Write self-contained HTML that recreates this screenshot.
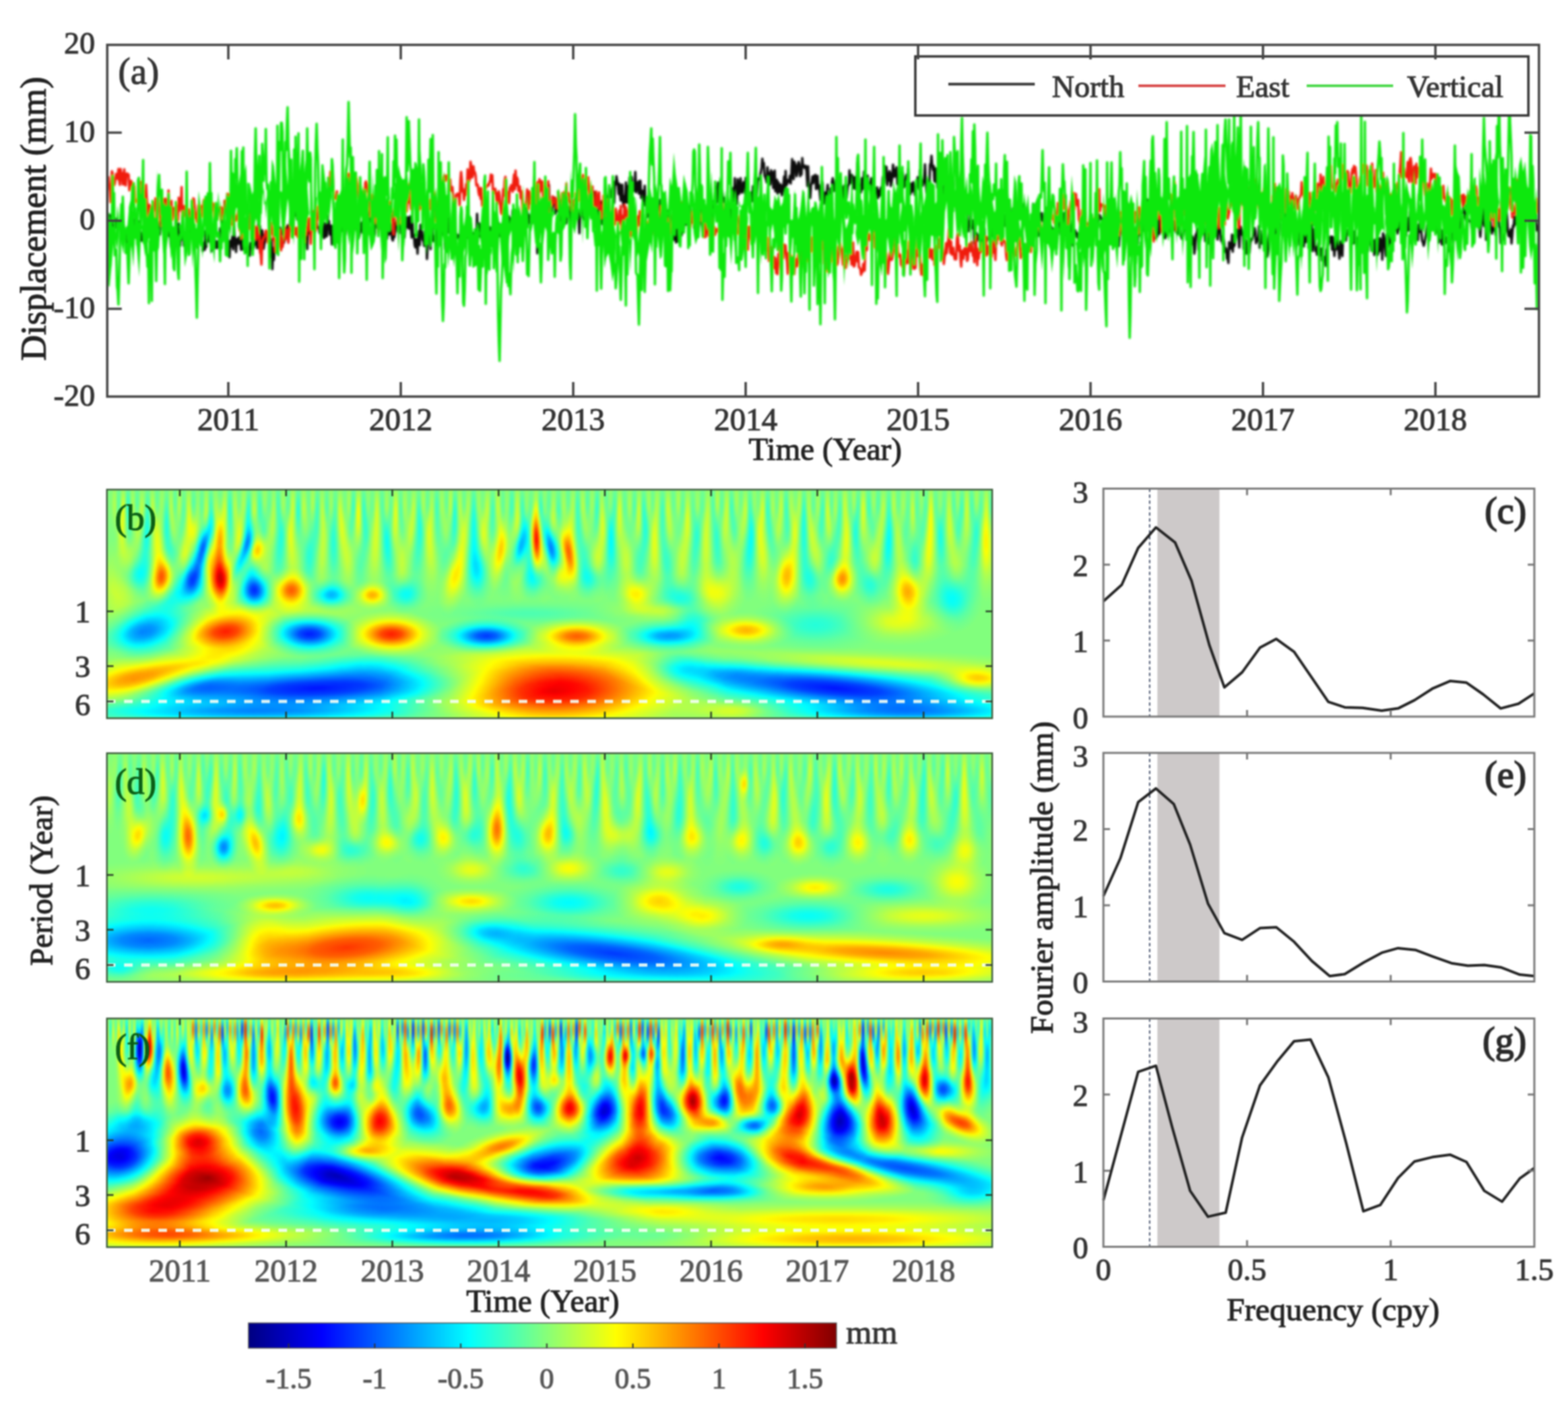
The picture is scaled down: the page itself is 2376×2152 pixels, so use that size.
<!DOCTYPE html>
<html><head><meta charset="utf-8"><title>GPS displacement and wavelet analysis</title>
<style>html,body{margin:0;padding:0;background:#fff}svg{display:block;filter:blur(1px)}text{font-family:'Liberation Serif','Times New Roman',serif;stroke-width:1.1px}</style>
</head><body>
<svg width="2376" height="2152" viewBox="0 0 2376 2152">
<defs>
<filter id="jet" x="0" y="0" width="1" height="1" filterUnits="objectBoundingBox" color-interpolation-filters="sRGB">
<feComponentTransfer>
<feFuncR type="table" tableValues="0 0 0 0 .5 1 1 1 .5"/>
<feFuncG type="table" tableValues="0 0 .5 1 1 1 .5 0 0"/>
<feFuncB type="table" tableValues=".5 1 1 1 .5 0 0 0 0"/>
</feComponentTransfer>
<feGaussianBlur stdDeviation="1.6"/>
</filter>
<radialGradient id="gg"><stop offset="0" stop-color="#fff"/><stop offset=".2" stop-color="#fff" stop-opacity=".867"/><stop offset=".4" stop-color="#fff" stop-opacity=".576"/><stop offset=".6" stop-color="#fff" stop-opacity=".286"/><stop offset=".8" stop-color="#fff" stop-opacity=".11"/><stop offset="1" stop-color="#fff" stop-opacity="0"/></radialGradient>
<style>.p{mix-blend-mode:plus-lighter}.d{mix-blend-mode:difference}</style>
<filter id="bl1" x="-1%" y="-5%" width="102%" height="110%"><feGaussianBlur stdDeviation="0.9"/></filter>
<linearGradient id="cbar"><stop offset="0" stop-color="#000080"/><stop offset=".125" stop-color="#0000ff"/><stop offset=".375" stop-color="#00ffff"/><stop offset=".5" stop-color="#80ff80"/><stop offset=".625" stop-color="#ffff00"/><stop offset=".875" stop-color="#ff0000"/><stop offset="1" stop-color="#800000"/></linearGradient>
</defs><rect width="2376" height="2152" fill="#fff"/><g clip-path="url(#clipA)"><g fill="none" stroke-linejoin="round" filter="url(#bl1)"><path transform="translate(163.00 0) scale(1.1 .5)" vector-effect="non-scaling-stroke" d="M0 651l1 19 1 22 1-41 1 27 1 5 1-16 1 32 1 30 1-27 1-28 1-11 1 26 1-5 1-6 1 8 1-10 1-4 1 27 1-55 1 60 1 2 1 0 1 14 1-1 1-5 1-8 1 25 1 30 1-34 1 24 1-30 1-4 1-11 1 19 1 8 1-68 1 27 1 25 1 3 1-28 1-25 1 8 1-4 1 27 1 4 1 10 1 18 1-24 1 20 1-16 1-35 1 21 1-20 1 7 1 9 1 1 1-35 1 44 1-5 1-26 1 75 1-26 1 31 1-55 1 4 1-12 1 9 1 15 1-41 1 13 1 6 1 21 1-34 1 4 1-18 1 16 1-8 1 19 1-33 1 60 1-12 1-7 1-3 1-13 1 34 1-4 1 28 1 14 1-65 1 9 1 13 1-9 1 4 1-69 1 76 1 2 1-17 1-21 1 35 1 33 1-54 1 36 1-11 1-17 1 46 1 0 1-35 1 15 1 9 1 3 1-22 1-7 1 13 1-52 1 46 1-25 1 5 1-1 1 16 1 18 1-23 1 29 1-5 1 22 1-60 1 6 1-2 1 33 1-9 1-3 1 45 1-25 1 8 1 13 1-57 1 49 1-49 1-3 1 35 1-24 1 8 1 16 1 30 1-19 1-14 1 11 1-26 1 38 1-2 1-19 1 21 1-11 1-11 1 8 1-46 1 0 1-2 1-22 1 29 1 4 1 2 1-26 1 25 1 2 1-6 1 37 1-2 1 47 1-50 1 18 1-18 1-13 1 39 1-82 1 43 1 8 1 39 1-38 1-2 1 15 1-19 1-1 1 17 1 21 1-34 1 20 1 14 1-54 1 46 1 17 1-2 1-10 1-14 1 14 1 12 1 9 1-39 1 17 1-14 1-13 1 27 1-12 1 1 1-8 1-27 1 45 1-43 1-54 1 99 1-69 1 76 1-49 1-14 1 17 1 39 1-15 1-6 1-30 1 14 1 0 1-3 1-4 1 27 1 0 1 42 1-54 1 91 1-64 1 36 1-29 1-23 1-6 1-24 1 7 1 38 1-44 1 17 1-34 1 20 1 0 1-12 1 7 1 31 1-13 1-31 1 28 1-26 1-11 1 18 1 13 1-20 1-47 1 5 1-4 1-17 1 29 1-20 1-10 1 24 1-27 1 38 1-24 1 19 1 32 1-50 1 62 1-29 1 6 1 0 1-7 1 15 1-2 1 27 1 5 1 36 1-52 1-1 1 4 1 3 1-42 1-9 1-17 1 10 1 51 1-9 1 10 1-41 1 13 1 15 1-1 1 0 1 17 1-40 1-14 1 23 1 3 1 36 1 8 1-46 1 42 1-2 1 0 1-63 1 33 1-16 1 41 1-24 1-3 1 57 1-17 1-41 1-5 1-2 1 59 1-82 1 42 1 17 1-33 1-13 1 40 1-6 1 1 1-11 1-10 1-78 1 74 1 20 1 15 1-63 1 4 1 27 1-24 1-24 1 49 1-5 1-37 1 27 1-6 1 28 1-23 1-23 1 34 1 23 1-5 1-37 1 64 1-6 1-24 1-5 1-10 1 30 1-44 1 42 1-22 1 31 1-68 1 6 1 8 1-36 1 65 1-26 1 10 1-35 1 5 1-1 1 29 1 37 1 8 1-41 1 17 1-24 1 2 1 32 1-15 1-2 1 6 1-4 1-38 1-7 1 34 1-8 1-27 1 25 1 12 1 47 1-31 1-3 1 22 1-49 1 15 1 29 1 18 1 5 1-14 1 4 1-13 1-31 1 1 1-17 1 43 1-16 1-5 1-20 1 46 1-9 1 25 1-33 1 2 1 28 1-22 1-17 1-23 1 31 1-30 1 34 1-35 1-2 1 38 1 26 1-57 1 52 1-4 1 32 1 7 1-25 1 0 1 44 1-55 1-14 1 43 1-62 1 32 1-12 1 27 1-1 1 18 1-45 1 46 1-30 1 69 1-47 1-31 1 25 1-13 1 36 1-67 1-19 1 60 1 2 1-11 1-6 1-1 1 35 1-78 1 17 1 20 1-41 1 52 1-29 1 25 1-17 1-35 1 8 1 31 1 55 1-32 1-44 1 27 1-46 1 21 1 24 1-17 1 9 1-14 1 15 1 24 1 13 1-49 1 10 1 12 1 12 1-9 1 1 1 10 1 21 1-47 1 41 1-13 1-21 1 47 1-38 1 32 1-24 1-5 1-10 1 15 1-21 1-8 1-17 1-8 1 32 1 11 1 29 1 5 1-39 1 18 1-28 1 40 1-87 1 62 1-18 1-15 1 40 1-13 1 19 1 7 1-8 1-26 1 0 1 29 1-40 1-19 1 14 1-3 1 26 1 14 1-28 1 30 1-6 1-5 1-14 1 11 1 0 1 17 1-18 1-6 1 42 1-33 1-31 1 40 1-18 1 4 1 10 1 15 1-25 1-21 1 24 1-9 1 6 1-64 1 33 1-4 1-11 1 21 1 14 1-29 1 16 1-41 1 26 1-4 1 29 1 7 1-7 1-18 1-2 1 75 1-23 1-14 1 36 1-17 1-31 1 36 1-77 1 10 1 15 1-2 1 7 1-52 1 52 1-33 1 17 1 9 1-1 1-25 1 26 1-15 1 0 1-11 1 25 1 11 1 1 1 81 1-80 1-18 1-1 1-30 1 27 1-23 1 17 1-39 1 36 1-20 1-25 1 59 1-22 1-29 1 6 1-66 1 67 1 35 1-42 1 21 1-18 1-25 1 9 1-8 1 49 1-14 1 4 1-20 1 0 1 50 1-8 1 7 1-38 1 58 1-31 1-36 1 20 1 12 1 2 1 23 1-49 1 5 1 8 1-14 1 3 1 43 1-43 1 28 1-16 1 11 1-27 1-24 1 16 1-11 1 31 1 15 1 14 1 40 1-64 1-16 1-33 1-6 1 77 1-28 1 15 1-14 1 32 1-18 1-21 1 12 1-23 1-13 1 2 1 47 1-12 1-17 1-20 1-26 1 45 1-4 1 1 1-12 1 49 1-24 1 28 1 23 1-11 1-57 1-9 1 70 1-30 1-55 1 67 1-60 1-10 1 84 1-68 1-4 1-34 1 21 1 7 1-5 1-24 1 5 1 12 1 29 1-65 1 10 1-26 1 14 1 9 1 31 1-31 1 33 1 18 1-47 1-1 1 52 1 16 1-34 1 19 1-60 1 61 1-50 1 51 1-42 1-35 1 19 1 40 1-61 1 24 1 8 1 11 1-17 1-41 1 62 1-28 1 21 1-25 1 36 1-39 1 0 1 52 1-22 1 1 1 44 1-26 1-34 1 60 1-5 1 40 1-27 1 26 1-38 1 10 1 30 1-32 1 28 1 0 1-22 1 16 1-21 1 12 1 3 1 5 1 13 1-32 1 63 1-86 1 25 1 10 1 18 1-4 1 9 1-16 1-10 1 10 1 13 1-3 1-20 1 23 1-14 1 14 1 0 1 8 1 56 1-7 1 9 1-24 1-15 1 47 1-46 1-11 1 55 1-32 1-25 1 5 1 11 1 21 1-64 1 47 1-3 1-29 1-14 1 31 1-6 1 5 1-18 1-37 1 20 1-14 1 27 1 16 1 0 1-29 1 47 1-11 1 22 1-27 1-11 1 5 1-22 1 37 1-43 1-55 1 78 1 18 1 30 1-63 1 26 1-43 1 9 1 21 1-15 1 14 1-24 1-24 1 33 1 29 1-11 1-33 1 41 1-63 1-1 1 24 1-65 1 47 1-45 1-17 1 58 1-2 1-26 1 5 1-13 1 14 1 22 1-11 1 3 1 39 1-21 1 27 1 27 1-60 1 65 1-58 1 43 1-30 1-15 1-29 1-22 1 41 1-70 1 49 1 9 1 21 1-76 1 16 1 29 1-11 1-37 1 35 1 9 1-9 1-23 1 13 1 21 1-47 1 70 1-18 1-22 1 14 1 13 1 11 1-22 1-2 1 27 1-46 1 45 1-5 1-43 1 12 1 28 1-28 1-32 1 2 1 1 1-13 1-10 1-13 1-27 1 21 1-8 1 38 1 5 1 7 1 9 1-46 1 27 1 28 1-38 1 35 1-43 1 16 1-10 1 48 1-21 1-32 1 63 1-22 1-13 1 42 1-35 1 30 1-1 1-22 1 23 1 10 1-30 1 1 1-28 1 58 1-75 1 44 1-4 1-12 1 1 1 5 1-19 1 23 1-29 1-45 1 39 1 22 1-53 1 7 1 6 1 31 1-9 1-26 1-8 1 7 1 36 1-20 1 15 1-50 1 26 1-4 1 8 1-6 1 0 1 19 1 42 1-60 1 60 1 8 1 28 1-37 1-10 1-18 1 20 1-22 1 13 1-16 1 43 1-21 1-19 1 38 1-10 1 21 1 25 1-27 1-32 1 7 1 37 1 25 1-14 1-20 1 8 1-11 1-20 1 68 1 3 1 6 1-66 1 55 1-75 1-11 1 39 1-1 1-4 1-28 1 35 1-32 1-12 1 11 1 24 1 18 1-18 1-9 1 6 1 3 1 30 1-40 1 43 1-22 1 18 1-22 1-18 1 0 1-45 1 30 1 9 1-25 1 2 1 39 1-5 1-29 1 36 1-30 1-9 1-42 1 14 1 63 1-9 1 13 1 10 1-43 1 34 1-15 1-39 1 19 1 4 1 30 1 6 1-47 1 27 1 3 1 2 1-7 1-17 1 41 1 0 1-24 1 0 1 28 1 8 1-23 1-2 1 33 1-24 1 18 1-9 1-17 1 22 1-28 1-26 1-6 1 24 1-52 1 15 1-12 1 55 1-33 1 20 1-29 1 5 1 40 1-9 1-18 1-38 1 17 1 20 1-3 1-18 1-8 1 52 1-3 1 0 1 2 1 20 1-32 1-19 1-7 1 13 1 35 1-5 1 0 1-29 1-5 1 7 1-26 1 49 1 5 1 25 1-33 1 26 1-11 1-19 1 12 1 27 1-15 1-5 1-10 1-24 1 19 1 18 1-58 1 10 1 17 1 14 1 6 1-11 1-12 1-42 1 50 1 34 1 8 1-17 1-10 1 4 1-69 1 4 1-30 1 30 1 13 1-12 1 46 1 2 1-41 1 12 1 47 1-15 1 12 1-12 1-30 1 34 1-22 1 44 1 28 1-42 1 0 1-12 1-11 1 12 1-24 1 69 1-28 1-4 1 8 1-14 1 33 1-28 1-21 1 48 1 1 1 15 1 21 1 17 1 25 1-29 1 18 1 12 1-19 1-15 1 0 1 14 1-26 1-9 1 12 1-33 1 5 1 25 1 68 1 5 1-31 1 15 1-67 1 67 1 7 1-24 1 14 1 56 1-53 1 32 1-11 1 24 1-13 1-5 1 7 1 15 1 0 1-36 1-15 1 11 1 24 1-25 1 51 1-26 1 12 1-10 1 0 1 5 1-16 1-11 1-6 1-9 1 33 1-37 1 44 1-5 1-46 1 3 1-15 1 5 1 5 1 34 1-4 1-29 1 10 1 29 1-12 1-12 1-23 1 21 1-33 1 8 1-2 1-15 1 34 1-39 1-21 1 46 1 26 1 11 1-65 1 22 1 21 1-46 1 55 1-4 1-12 1-14 1-8 1-58 1 57 1-28 1-5 1 34 1-20 1 3 1-15 1 39 1-8 1 17 1-9 1 84 1-50 1 14 1-3 1 44 1-41 1-42 1-43 1 68 1-1 1-17 1 14 1 33 1-11 1 11 1-51 1-2 1-16 1 20 1-20 1 24 1-12 1 45 1-58 1 34 1-36 1 60 1-35 1-11 1 20 1 12 1 15 1-18 1 6 1 0 1 2 1 38 1 11 1-6 1-38 1-21 1 23 1-41 1 29 1-10 1 33 1-42 1-14 1 30 1 22 1-63 1 51 1 17 1-42 1 20 1-1 1 1 1-18 1-3 1 46 1-9 1-26 1 64 1-50 1 11 1-8 1 7 1 13 1-11 1 16 1 2 1-13 1 9 1-12 1 28 1-47 1-16 1 17 1-3 1 7 1 18 1-7 1 24 1-54 1 5 1-13 1-3 1 44 1 1 1-9 1-4 1-23 1-13 1 26 1-6 1 10 1-43 1 24 1-21 1 2 1 4 1 9 1-3 1 31 1 9 1-11 1-23 1-1 1-37 1 23 1-13 1-6 1 15 1 7 1-28 1 18 1 43 1 60 1-9 1-64 1 40 1 2 1 13 1-29 1 43 1 0 1-27 1-28 1-20 1 18 1 6 1 19 1-41 1 26 1 7 1 3 1 10 1-11 1-15 1 30 1-38 1 14 1-29 1 59 1-38 1 7 1-5 1 28 1 22 1 14 1-35 1 18 1-32 1-25 1 29 1-24 1-11 1-17 1 40 1-13 1-17 1-14 1-51 1 53 1-54 1 20 1 52 1-28 1-6 1-11 1 84 1-44 1 38 1-21 1-25 1 27 1 33 1-16 1 10 1-58 1 30 1 20 1-56 1 26 1-23 1 24 1-41 1 30 1 51 1 2 1-9 1-16 1-34 1 26 1 15 1-57 1 31 1 2 1-10 1 45 1-47 1 5 1 24 1-7 1 14 1 0 1 5 1-20 1 3 1-11 1 25 1 11 1 7 1-3 1-11 1-23 1-2 1 13 1-36 1-21 1 34 1-7 1 47 1-10 1 47 1-39 1 27 1-22 1 15 1 36 1-16 1-42 1 4 1-21 1 16 1 48 1-57 1 15 1-22 1 4 1 0 1 8 1-31 1 24 1 32 1-4 1-19 1 15 1-14 1 29 1-29 1 13 1 6 1-41 1 23 1-30 1 7 1-38 1-20 1 25 1 16 1 56 1-30 1-8 1-15 1 33 1 24 1-13 1 22 1-19 1 11 1 25 1 8 1-11 1 31 1-4 1 17 1-63 1 20 1 0 1-3 1-40 1 52 1-50 1 33 1-11 1-8 1-17 1 2 1-17 1 24 1 31 1-47 1-16 1 10 1 15 1-8 1 51 1-30 1-6 1 10 1 40 1-33 1 4 1-17 1 43 1-27 1-15 1 4 1-3 1-12 1-5 1-17 1 10 1 36 1-5 1-10 1 6 1-43 1 66 1-52 1 33 1 6 1-3 1-25 1-7 1 22 1 3 1 12 1 39 1-6 1-46 1-21 1-7 1-31 1 41 1 7 1-5 1-28 1 25 1 26 1-24 1-23 1 33 1-5 1-59 1 60 1-54 1 2 1-27 1 13 1 23 1-32 1 20 1-14 1 21 1 15 1-17 1 24 1 18 1-47 1 23 1-14 1 1 1-1 1 10 1 10 1 15 1 0 1 2 1 19 1-19 1 14 1-28 1 50 1-16 1 18 1-40 1 14 1 4 1 24 1-39 1-1 1 27 1-11 1-16 1-18 1 23 1-9 1 35 1-10 1-47 1 80 1-45 1-21 1 35 1 31 1-12 1 23 1-17 1-20 1 37 1 2 1-21 1 0 1 37 1-10 1 1 1-2 1 8 1 19 1-49 1-1 1-35 1 22 1-19 1-6 1 17 1-18 1 40 1-39 1 21 1 37 1-33 1-11 1 24 1-27 1-17 1 51 1 21 1-34 1-19 1 24 1 21 1-71 1 9 1-20 1 8 1 27 1-23 1-8 1 11 1-21 1-3 1-17 1 59 1-16 1 8 1 19 1-37 1 36 1-32 1 33 1 15 1-33 1 27 1-42 1 4 1-3 1 11 1 47 1-15 1-22 1 0 1 13 1 3 1-4 1-22 1 44 1-49 1 27 1-28 1-6 1 54 1-22 1-8 1-1 1 45 1-14 1-34 1 21 1 27 1-2 1-49 1 40 1-40 1 8 1 8 1 49 1-80 1 7 1 17 1 23 1 22 1-66 1 27 1-28 1 27 1 7 1 10 1-56 1-4 1 21 1 15 1-46 1-18 1 33 1-19 1-4 1 33 1-12 1-1 1-22 1 8 1 4 1 26 1-40 1-2 1 43 1-9 1-9 1 20 1-48 1-5 1 38 1-21 1-37 1 56 1-1 1-11 1-13 1 14 1 5 1-9 1-2 1 30 1 15 1 3 1-47 1 22 1-72 1 42 1 37 1 21 1 3 1 11 1-7 1-12 1-13 1-16 1-16 1 15 1-4 1-15 1-6 1 25 1-18 1 19 1-17 1-27 1-7 1-29 1 13 1 74 1-44 1 46 1 29 1-42 1 1 1 5 1 42 1-9 1-35 1 48 1-20 1-8 1 19 1-7 1 0 1 33 1-13 1-32 1-3 1 10 1-6 1-12 1 30 1-24 1-8 1-18 1 2 1 13 1 11 1-21 1-23 1 51 1-16 1-31 1-32 1 5 1-27 1 12 1 31 1 4 1 12 1-36 1 20 1 7 1 2 1 1 1 2 1 17 1-9 1 32 1-2 1-19 1-54 1 8 1 17 1-23 1 2 1 41 1 13 1 22 1-33 1-20 1 12 1-49 1 57 1-20 1 16 1 46 1-49 1 3 1-28 1 27 1 18 1-29 1 21 1 18 1-19 1 9 1 1 1-14 1 27 1-59 1 7 1-16 1 4 1 39 1 3 1 47 1-27 1 26 1-25 1 10 1 5 1-17 1-17 1-59 1 30 1 39 1 13 1-12 1 15 1-23 1 43 1-24 1-30 1 4 1-31 1 24 1-10 1-41 1 32 1 21 1 10 1-5 1-53 1 26 1 15 1-37 1 45 1 4 1-16 1-10 1-20 1-12 1 7 1 13 1 19 1-2 1-22 1-18 1 3 1-21 1 19 1 36 1-27 1 25 1-24 1 61 1-15 1 23" stroke="#111" stroke-width="3.6"/><path transform="translate(163.00 0) scale(1.1 .5)" vector-effect="non-scaling-stroke" d="M0 545l1-8 1 33 1 9 1 34 1-54 1-40 1 9 1 25 1 9 1-6 1-18 1-11 1 12 1 3 1-30 1 34 1 14 1-48 1 34 1-22 1 35 1-5 1-41 1 47 1 2 1-35 1-1 1 7 1-4 1 48 1-14 1-15 1 2 1 7 1 29 1 21 1-43 1 48 1-6 1 7 1-7 1 6 1 20 1-29 1-31 1-21 1 43 1-6 1 28 1-15 1-15 1 21 1-47 1 41 1 21 1 69 1-41 1-29 1 20 1 25 1-16 1-25 1 16 1-16 1-3 1-21 1 68 1-13 1-70 1 30 1 10 1 22 1 36 1-23 1-27 1 22 1-53 1 4 1 20 1-25 1 11 1 11 1 13 1-60 1 82 1-30 1-10 1-10 1 58 1-10 1-27 1 0 1 6 1 1 1-14 1 13 1 32 1-69 1 39 1-31 1 15 1-55 1 109 1-52 1 31 1-2 1-29 1 30 1 12 1-16 1 40 1-56 1 14 1 21 1-17 1-9 1-9 1-33 1 2 1 27 1 31 1-12 1 24 1-28 1-23 1 29 1 8 1-1 1-34 1 5 1 27 1-45 1-6 1 35 1-5 1-7 1 31 1-25 1-7 1 26 1-9 1-15 1 7 1-23 1 24 1-19 1 27 1 36 1-13 1-36 1 33 1-24 1-8 1 6 1-11 1 41 1-41 1 12 1-6 1 42 1-67 1-1 1 27 1-17 1-31 1 5 1-3 1 42 1 3 1 25 1 11 1 12 1-28 1-25 1 21 1 6 1 13 1-10 1-6 1-14 1 44 1 16 1-6 1 30 1-21 1 17 1-12 1-4 1-16 1 3 1 14 1-18 1-4 1-32 1 25 1 19 1-60 1 46 1-16 1 1 1 2 1 38 1-19 1 30 1 10 1-37 1 31 1-19 1 15 1 49 1 5 1 32 1-74 1 1 1-9 1-2 1-2 1-17 1 0 1 18 1 19 1-24 1 4 1 12 1-52 1 5 1 27 1-3 1 22 1 4 1 32 1-33 1-25 1 25 1 21 1-47 1-3 1-4 1 62 1-39 1 29 1-16 1-46 1 0 1 40 1-28 1 21 1-24 1 40 1-21 1-33 1 7 1 3 1-5 1-6 1-20 1 50 1 0 1-20 1 0 1 22 1 6 1-34 1 22 1-13 1-17 1 37 1 6 1-19 1 14 1-10 1 30 1-76 1 53 1-48 1 36 1-38 1 26 1-26 1 77 1-48 1-49 1 13 1-15 1 1 1-5 1 62 1-26 1-7 1-39 1 33 1-13 1-3 1-17 1-7 1-16 1 42 1 6 1-6 1-33 1 7 1-1 1-2 1-42 1 0 1-19 1-35 1 33 1 17 1-57 1 54 1 30 1 2 1 3 1-3 1-19 1 51 1 5 1-21 1-14 1 0 1-1 1 58 1-21 1-1 1-27 1-10 1-36 1 37 1-6 1 14 1-82 1 28 1-1 1 5 1-3 1 12 1-30 1 26 1-18 1-20 1 5 1 13 1 17 1 18 1 22 1-7 1-24 1 24 1-1 1 29 1-41 1 0 1 26 1-51 1-5 1 9 1 21 1 3 1 47 1-42 1 67 1-50 1 5 1-20 1 17 1-9 1 46 1 19 1 14 1-23 1 15 1 38 1-68 1 49 1-13 1-2 1 5 1-32 1 13 1 14 1-30 1 15 1 22 1-52 1 5 1 40 1-58 1-2 1 50 1-42 1 49 1-23 1 63 1-78 1 21 1-5 1-15 1 47 1-21 1 12 1-13 1 14 1 2 1 7 1-23 1 16 1-25 1 3 1-14 1-27 1 30 1-39 1 12 1-32 1-25 1 62 1 15 1-75 1 10 1 24 1-59 1 62 1 15 1 7 1-14 1-5 1 15 1 23 1-27 1-71 1 93 1-16 1-12 1 21 1-6 1 16 1-14 1 4 1 9 1-16 1 10 1-8 1 14 1-29 1 13 1-27 1-8 1-3 1 26 1-9 1 74 1-55 1-3 1 30 1-40 1-26 1-34 1 15 1 21 1 32 1-54 1-19 1-7 1 3 1 14 1-14 1-3 1 7 1 4 1 14 1-12 1 34 1-6 1-5 1 28 1 51 1 0 1 0 1-56 1 1 1-4 1 7 1-7 1 35 1-75 1-26 1 23 1 38 1-9 1 33 1-20 1 6 1-34 1 12 1-57 1 40 1-3 1-7 1-53 1 14 1 34 1-4 1-30 1 18 1 0 1 10 1 30 1-4 1 3 1 21 1 10 1-22 1 33 1-33 1 54 1-21 1 3 1-11 1-28 1 5 1-7 1-1 1-5 1 3 1-10 1-3 1-20 1 22 1-20 1 53 1-11 1 12 1-13 1 15 1 22 1 9 1-33 1-5 1 13 1 31 1 20 1 5 1-30 1-46 1 21 1-47 1-11 1 22 1 33 1-9 1 22 1 12 1-47 1 5 1-13 1 12 1 8 1-29 1-23 1 45 1-57 1 45 1-24 1 6 1 35 1-14 1 0 1 36 1-22 1 31 1 42 1-17 1 7 1-17 1-7 1-13 1-31 1 24 1 35 1-53 1 18 1 19 1-14 1 15 1-10 1 7 1-58 1 20 1 47 1-36 1-36 1 19 1 32 1-60 1 37 1-31 1 12 1-11 1 58 1-41 1 53 1-46 1 26 1 9 1 6 1-66 1 45 1 57 1 6 1-38 1 3 1-27 1 10 1 10 1-1 1-14 1 30 1-3 1 5 1-51 1 24 1 31 1-8 1-6 1-37 1 61 1-39 1-25 1 3 1 0 1-29 1 55 1-3 1-23 1 18 1 12 1 2 1 22 1-32 1 1 1 39 1-22 1 0 1-40 1 5 1 2 1-9 1 25 1-31 1-8 1-16 1 43 1-52 1-14 1 42 1 12 1 11 1-61 1 43 1-6 1-34 1 27 1 47 1 13 1-35 1 18 1-42 1 50 1 26 1-16 1-1 1-44 1 50 1-23 1-11 1-13 1 50 1-12 1 40 1-23 1-4 1-41 1 38 1-20 1 41 1 11 1-35 1-23 1 37 1-27 1 37 1-6 1 28 1 17 1-5 1-11 1 6 1-1 1-48 1 16 1 19 1-4 1 15 1-40 1 38 1-52 1 84 1-33 1-21 1 31 1-64 1 10 1-2 1 43 1-33 1 6 1-3 1-32 1 42 1 64 1-63 1-12 1 42 1-26 1 14 1 2 1 46 1-18 1-37 1-9 1 28 1-42 1-1 1 45 1 21 1-37 1 34 1-6 1 7 1 10 1-18 1-23 1 4 1 32 1-43 1 18 1 4 1-32 1 2 1 13 1-18 1 58 1-12 1-37 1 17 1-39 1 34 1 24 1-39 1 45 1-79 1 26 1 1 1 22 1 13 1 21 1-22 1 8 1-9 1 17 1-41 1 55 1-14 1 6 1-50 1 12 1-18 1 27 1 2 1-20 1 29 1-21 1-22 1-36 1 16 1 14 1 5 1-35 1 15 1 22 1-35 1 45 1-8 1-14 1 2 1 19 1-31 1 21 1 2 1 57 1-28 1 10 1-33 1-2 1-11 1 35 1-28 1 14 1-10 1-1 1 16 1-23 1-9 1 4 1-1 1 22 1 8 1-11 1 33 1 13 1 15 1-54 1 53 1-22 1-1 1-20 1 40 1-45 1 17 1 47 1-55 1-18 1 58 1-26 1-5 1 24 1-14 1-3 1 6 1-8 1 12 1-25 1 4 1-40 1-38 1 13 1 49 1-17 1 20 1 0 1 23 1 4 1-10 1 18 1-27 1 4 1 23 1-17 1 0 1-33 1 34 1-4 1-32 1 20 1-1 1 24 1-43 1 55 1-17 1-27 1 16 1-14 1 43 1-10 1 28 1-27 1 55 1-18 1-51 1 26 1 44 1-70 1 1 1 4 1 31 1 11 1-44 1 34 1 6 1-14 1-28 1 3 1-17 1 44 1-28 1 6 1 28 1-11 1-12 1 1 1 12 1-27 1 54 1 11 1-27 1-16 1 50 1-39 1 33 1 38 1-32 1-8 1-2 1 26 1 2 1 15 1-14 1 36 1-32 1 46 1-18 1 21 1-61 1 21 1-45 1 64 1 9 1-44 1-6 1 14 1-42 1 8 1-5 1 32 1 17 1 37 1-64 1 17 1-19 1 24 1-12 1 18 1 7 1 1 1 29 1-24 1-22 1 21 1 1 1-35 1-4 1-7 1 38 1-67 1-7 1 56 1-20 1 41 1 15 1-2 1-20 1-3 1-37 1 15 1-8 1-9 1-7 1 17 1-8 1-36 1 25 1 31 1-26 1 26 1 9 1 10 1 10 1-37 1-19 1-9 1-4 1-9 1 29 1-13 1-34 1 91 1-51 1 11 1 1 1 43 1 20 1-35 1 5 1 7 1-7 1-1 1-77 1 54 1-20 1 21 1 0 1-26 1 46 1 13 1-7 1-50 1 14 1-23 1 15 1 4 1 19 1 27 1-55 1 65 1-21 1 21 1-38 1 11 1-3 1 3 1-12 1 6 1 0 1 23 1-38 1-29 1 73 1-2 1-17 1-15 1-11 1 29 1-28 1 46 1 1 1 4 1 18 1-10 1 2 1-25 1 5 1 15 1-88 1 19 1 7 1-56 1 12 1-4 1 18 1-11 1-2 1 13 1-28 1 15 1-14 1 49 1 3 1-16 1 6 1 4 1-30 1 17 1 12 1-10 1-15 1 9 1 24 1-1 1-14 1 23 1 0 1 11 1 38 1 19 1-22 1-26 1-18 1-7 1 31 1-5 1-29 1 6 1-43 1 47 1 13 1-10 1-36 1 33 1 14 1-4 1-2 1 31 1-9 1 16 1-24 1 44 1-25 1-12 1 5 1-33 1-5 1 38 1-66 1 43 1 0 1 41 1-32 1-28 1 44 1 15 1-5 1 2 1-54 1 3 1-45 1 61 1-12 1-2 1 38 1 31 1-30 1 6 1 28 1-45 1 44 1-55 1-50 1 20 1-11 1 29 1 13 1-28 1 25 1-20 1 28 1-20 1-11 1 48 1-33 1-25 1 14 1 3 1-37 1 27 1-3 1-24 1-13 1 50 1-27 1 36 1 29 1-22 1-6 1-35 1 30 1-30 1-5 1-38 1 49 1 24 1-35 1 40 1-11 1-10 1 22 1 13 1-15 1 15 1-58 1-19 1 28 1 24 1-16 1 42 1 21 1-48 1 7 1 17 1-29 1-3 1 19 1-20 1 40 1-4 1-30 1-18 1 11 1 12 1-29 1 12 1 30 1-12 1 32 1-58 1-21 1 44 1 44 1-50 1 30 1-21 1 1 1 0 1-27 1 21 1-14 1 45 1-13 1-20 1-39 1 57 1-17 1-11 1 21 1 5 1-5 1-42 1 53 1-29 1-18 1 35 1-57 1 79 1-56 1 7 1-32 1 18 1-13 1-16 1 15 1 27 1 6 1-53 1 41 1-2 1 3 1 9 1 35 1 12 1-60 1 48 1 11 1-36 1-16 1 55 1-34 1-12 1 7 1 9 1 0 1 14 1-22 1-7 1-60 1 31 1 5 1 27 1 33 1-28 1 16 1 1 1-5 1-22 1 13 1 4 1-5 1-15 1-46 1-17 1-6 1 12 1 80 1-43 1-20 1 0 1 25 1-16 1-47 1-7 1-9 1 44 1-19 1-4 1 33 1-27 1 22 1 5 1-3 1 1 1 18 1-22 1-7 1 27 1 2 1-40 1-27 1 32 1-22 1 8 1-28 1 23 1-9 1 4 1 18 1-39 1 53 1-27 1 5 1-53 1 4 1 22 1-24 1 20 1-10 1-19 1-17 1 9 1 34 1-4 1-13 1 10 1 21 1 31 1-6 1-36 1-10 1-18 1 6 1-18 1-6 1-6 1 50 1-43 1-4 1 33 1 2 1-17 1 60 1 6 1 19 1-8 1-46 1 22 1 13 1 2 1-21 1-12 1 37 1 18 1-2 1 3 1-22 1 9 1 0 1 25 1-28 1 3 1 35 1-48 1-7 1-18 1-26 1 22 1 17 1-63 1-23 1 67 1-17 1-4 1 1 1 4 1 6 1 53 1-60 1 36 1-16 1 8 1 8 1 41 1-30 1 22 1-86 1 40 1 18 1 22 1-8 1-44 1 22 1 52 1-4 1-6 1-13 1 29 1-13 1-31 1-27 1 38 1 30 1-5 1-65 1 36 1 69 1-67 1-11 1-1 1-48 1 20 1 1 1 66 1-47 1 16 1 6 1-30 1 25 1-2 1-32 1 23 1 7 1-10 1 46 1-80 1 29 1 14 1-8 1 17 1-8 1-15 1-22 1-7 1 77 1-71 1 63 1-48 1 38 1-27 1 53 1-17 1-4 1 2 1-4 1 42 1-28 1 9 1-29 1-19 1-36 1 2 1-35 1 67 1-20 1 20 1 38 1 4 1-42 1 11 1 16 1 7 1-4 1-73 1 46 1 17 1-40 1-5 1-4 1-44 1 40 1-32 1 26 1 16 1-88 1 105 1 41 1-49 1 1 1-44 1 11 1 30 1-40 1 42 1 34 1-63 1 1 1 30 1-1 1-15 1 26 1-46 1-1 1 33 1-7 1-29 1-40 1 35 1-27 1 33 1-32 1 14 1-23 1 50 1-6 1-54 1 14 1 81 1-21 1 19 1-19 1 43 1-25 1-7 1 13 1 21 1-68 1 39 1 19 1 47 1-100 1 4 1 27 1 48 1-28 1 7 1 18 1-82 1 34 1 24 1-20 1-23 1-7 1 34 1 8 1 30 1-61 1 42 1-34 1-6 1 2 1-26 1-14 1 87 1-59 1-24 1 24 1 41 1-9 1-11 1-14 1-5 1-56 1 12 1 22 1 38 1-5 1 16 1-39 1 50 1 4 1-38 1 62 1-1 1-94 1 8 1 13 1 2 1-12 1 29 1-41 1 28 1-2 1-45 1 26 1 9 1-3 1-30 1-14 1 20 1-17 1-16 1-26 1 18 1 1 1 9 1-6 1 10 1 41 1 3 1 31 1-20 1-29 1 24 1-19 1 44 1-33 1-27 1 30 1 10 1 5 1 21 1 18 1-43 1 57 1-45 1 42 1-41 1 32 1-64 1 40 1 35 1-111 1 71 1-11 1 7 1-5 1-3 1 32 1-35 1 48 1-37 1 2 1 1 1-22 1 40 1-20 1 2 1-55 1 41 1 5 1-38 1 38 1-23 1 6 1 39 1-55 1 14 1 32 1-25 1 0 1-13 1 11 1 11 1 19 1-31 1-3 1-6 1-3 1-39 1 32 1 0 1 14 1-40 1 1 1 55 1 13 1 5 1-15 1 9 1-42 1 28 1 64 1-41 1 19 1 22 1-31 1-11 1-1 1-23 1 10 1-64 1 8 1 37 1 11 1-83 1 47 1-20 1 7 1-27 1 48 1 30 1-49 1 38 1-14 1-47 1 15 1-24 1 37 1-68 1 61 1 3 1 4 1 6 1-32 1 19 1 17 1-15 1-9 1-12 1 2 1 10 1 0 1-63 1 51 1-44 1 37 1-10 1 36 1 20 1-30 1-25 1-10 1 5 1 45 1 11 1 5 1-30 1-30 1-12 1 14 1-23 1 6 1-2 1 27 1 31 1 6 1-6 1 33 1-53 1-10 1 12 1-46 1 13 1-15 1 28 1-22 1 9 1-13 1 6 1 55 1-44 1 46 1-28 1-11 1-6 1-23 1 55 1 17 1-6 1-18 1-29 1 65 1 6 1-22 1 20 1-22 1 34 1-12 1-14 1-7 1-40 1 46 1 11 1 8 1-26 1 6 1-21 1 20 1 18 1 42 1-6 1-32 1 35 1-16 1-17 1 6 1 20 1 3 1-45 1-6 1-15 1 11 1-20 1-22 1-24 1-38 1 77 1-54 1 47 1-21 1 19 1 4 1 4 1-12 1-34 1 51 1 9 1-67 1-5 1 14 1 60 1 3 1-30 1-22 1 38 1 14 1-60 1 42 1-21 1-9 1 9 1-7 1 46 1-29 1-9 1 14 1 6 1 33 1 20 1-34 1 11 1-12 1 40 1-17 1 9 1-41 1-36 1 31 1-5 1-10 1 9 1-4 1-5 1 38 1-26 1 78 1-37 1 49 1-26 1 25 1-7 1-29 1 9 1-38 1 27 1 10 1 10 1 4 1-14 1-16 1 35 1 24 1-13 1-29 1 5 1 45 1-11 1-32 1-1 1-1 1-29 1 10 1-13 1-15 1 22 1 30 1 5 1-23 1 4 1-5 1 32 1-34 1 6 1 19 1-8 1-11 1 11 1-16 1 4 1 34 1 11 1-59 1-37 1 42 1 64 1-22 1-26 1-7 1-31 1 12 1 80 1-57 1 38 1-9 1 33 1-11 1-22 1-44 1 11 1 4 1 3 1 17 1 14 1-48 1 40 1 21 1-16 1 33 1-64 1 67 1-21 1-20 1 15 1 45 1-52 1 22 1 14 1-16 1 10 1-29 1 34 1-8 1-23 1-26 1 4 1-5 1-19 1 51 1 3 1-35 1-43 1 12 1 20 1 4 1 13 1-47 1 65 1-26 1 51 1-38 1 17 1 7 1 5 1-21 1-85 1 31 1 3 1 40 1 26 1 0 1-38 1-26 1-7 1 22 1-23 1 40 1-15 1 28 1-2 1 14 1 16 1-18 1-21 1-3 1 62 1 6 1-30 1-32 1 34 1-11 1 5 1-19 1-24 1 41 1-29" stroke="#f01a10" stroke-width="3.6"/><path transform="translate(163.00 0) scale(1.1 .5)" vector-effect="non-scaling-stroke" d="M0 644l1 13 1 112 1 8 1 30 1-137 1 0 1-137 1 90 1-38 1 189 1-18 1 3 1 108 1 15 1 41 1-77 1-97 1-93 1-37 1 71 1-94 1 71 1 55 1-25 1 70 1-28 1 3 1 59 1 58 1-70 1-162 1 45 1-14 1-92 1 10 1-21 1 103 1-27 1 91 1-51 1 71 1-196 1-7 1 30 1 82 1 40 1-87 1-21 1-98 1 252 1-28 1-105 1 79 1 79 1 47 1-35 1 145 1-186 1-5 1-16 1 200 1-303 1 43 1 107 1-97 1 78 1 112 1-112 1-130 1-28 1-52 1 61 1-4 1 63 1-75 1 97 1-7 1 60 1 136 1-192 1-43 1 84 1-42 1-81 1 70 1 28 1-57 1 63 1 63 1 12 1 47 1 6 1-69 1-138 1 128 1-25 1 110 1 21 1-119 1-17 1 15 1-20 1-49 1-16 1 88 1-24 1 70 1-57 1-197 1 206 1-30 1 77 1-5 1-54 1-17 1-90 1 25 1 4 1 60 1-16 1 134 1 61 1 88 1-117 1-85 1-118 1-14 1 28 1 87 1-24 1-3 1-7 1-102 1 74 1-86 1 101 1 14 1-125 1 54 1 6 1-152 1 139 1-48 1 168 1-14 1 3 1-14 1-95 1-18 1 85 1 18 1-2 1-11 1 30 1 57 1-67 1 28 1-74 1 53 1-79 1 30 1 14 1 76 1-107 1 110 1-122 1 26 1 2 1-18 1-207 1 113 1 13 1 1 1 128 1-90 1-140 1 23 1-56 1 104 1 75 1 59 1 7 1 3 1-117 1-122 1 247 1-258 1 293 1 28 1-107 1 84 1-125 1 186 1-249 1 31 1 9 1-13 1 144 1-109 1 154 1-49 1-88 1-164 1-83 1 108 1 125 1-51 1-55 1-44 1 151 1 23 1-66 1-144 1 33 1 79 1-56 1 35 1-136 1 160 1 22 1-13 1 124 1 130 1-197 1-65 1 86 1 2 1 25 1-17 1 67 1-68 1 16 1 104 1-386 1 392 1-144 1-199 1 26 1-84 1 0 1 28 1 208 1-70 1 8 1-116 1 25 1-77 1-53 1 108 1 82 1 98 1 72 1-201 1 236 1-121 1 60 1-206 1 185 1-224 1 150 1 98 1-102 1-156 1 450 1-295 1 43 1 183 1-296 1-32 1 109 1 220 1-144 1-57 1-23 1-173 1 122 1 23 1 16 1-88 1 20 1 214 1-46 1 40 1-44 1 170 1-301 1-83 1-57 1 76 1 43 1 104 1-15 1 80 1 92 1-123 1-56 1 60 1-7 1-45 1-30 1 78 1 42 1-40 1-96 1 90 1-53 1-6 1 9 1-96 1 20 1 63 1 178 1-17 1 25 1-136 1 49 1 72 1-134 1 241 1-97 1-34 1-47 1-12 1-230 1 334 1 69 1-41 1-156 1-113 1-20 1-65 1-122 1 94 1 73 1-29 1 380 1-297 1-54 1 137 1 69 1-158 1-1 1 112 1 133 1-73 1 28 1-54 1-132 1 74 1 12 1 7 1 36 1 101 1-127 1-64 1 48 1 224 1-192 1-50 1-19 1-97 1 117 1 2 1 94 1-89 1 74 1-80 1 1 1-47 1 97 1-144 1 100 1 101 1-258 1 230 1-70 1-4 1-147 1 376 1-132 1-134 1-40 1 35 1 19 1-6 1-169 1 284 1-1 1-2 1-74 1 21 1-74 1 31 1-112 1 71 1-149 1 125 1-113 1 147 1-13 1-6 1 2 1 60 1-36 1 66 1 146 1-56 1-187 1 163 1-57 1-75 1-222 1 163 1-35 1-116 1 69 1 61 1 26 1 79 1 71 1-159 1 17 1 28 1 41 1 116 1-106 1-28 1 89 1-309 1 230 1-75 1 106 1-65 1 136 1-196 1 23 1 37 1 183 1-66 1-19 1 83 1-255 1 98 1-71 1-90 1 123 1 129 1-264 1 240 1 44 1-13 1 127 1 83 1-141 1 59 1-347 1 282 1-172 1-79 1 269 1 151 1 61 1-52 1-120 1 10 1-138 1 91 1-171 1 60 1-161 1 160 1 84 1 5 1 44 1-139 1-12 1 65 1 46 1-142 1 114 1 75 1 97 1-99 1-66 1 114 1-182 1-29 1 12 1 178 1 100 1 10 1-49 1-99 1-13 1-140 1 56 1-133 1 205 1 51 1-30 1-91 1 88 1-58 1 94 1-14 1-99 1 109 1-95 1 30 1 27 1 112 1-133 1 137 1-51 1-75 1 25 1 27 1-70 1-188 1-18 1 389 1-194 1-97 1-50 1 157 1 80 1-115 1 13 1 32 1-59 1-107 1 232 1-99 1 2 1-22 1-80 1 181 1 153 1 87 1 59 1-106 1-111 1-27 1-57 1-58 1-23 1 47 1-33 1-182 1 312 1-176 1 187 1-38 1 38 1 25 1-81 1-43 1-19 1-129 1 41 1 23 1 28 1 60 1-183 1 206 1-114 1-30 1 35 1 60 1-67 1 70 1 42 1-47 1-44 1-81 1 67 1 8 1 138 1-72 1 77 1-86 1-66 1-2 1-49 1-64 1 78 1-19 1-138 1 189 1-11 1 60 1-43 1-127 1 183 1-5 1 54 1 65 1-69 1-107 1-80 1 41 1-31 1-75 1 96 1-52 1-8 1 217 1-46 1-95 1 6 1 92 1 23 1-25 1-37 1 1 1 132 1-100 1-60 1-23 1-3 1 53 1-61 1 59 1 86 1-17 1-92 1-95 1 72 1 25 1-6 1-55 1-12 1-13 1 61 1-9 1 28 1 123 1 46 1-159 1-140 1 50 1-75 1-63 1-113 1 93 1 39 1 185 1-132 1 39 1-49 1-25 1 155 1-35 1-28 1-46 1 113 1-56 1 89 1-179 1 146 1 67 1-55 1-35 1-42 1 30 1 42 1-78 1 48 1 69 1-71 1-1 1 61 1-56 1 247 1-217 1-1 1 80 1-101 1 133 1 100 1-106 1-66 1 1 1-60 1-104 1-3 1 69 1 103 1 21 1-9 1-160 1 180 1-13 1-84 1 50 1-160 1 217 1 57 1-6 1 72 1-30 1-115 1-54 1 66 1 7 1 107 1 54 1-76 1-86 1 25 1-103 1 24 1 77 1 156 1-264 1 170 1-88 1-22 1-135 1-66 1 177 1-30 1-115 1 159 1-112 1 72 1-14 1 168 1 6 1 1 1 81 1 70 1-112 1-119 1-59 1 185 1-265 1 36 1 134 1 101 1-80 1-166 1-42 1 47 1-24 1-95 1-65 1-32 1-39 1 110 1-79 1 70 1 49 1 323 1-166 1 52 1-92 1-39 1-55 1-58 1-89 1 141 1 7 1 118 1 32 1-16 1-9 1 117 1 2 1-102 1-29 1 206 1-14 1-197 1 209 1-55 1-3 1-149 1-102 1-16 1 157 1-79 1 5 1 53 1-118 1 74 1 54 1 43 1 3 1-61 1-62 1 54 1-13 1 40 1-149 1 48 1 72 1-15 1-44 1 135 1-58 1 50 1-161 1 42 1-38 1-30 1-97 1-7 1 8 1 106 1 74 1 69 1-41 1-60 1-171 1 77 1 118 1-72 1 6 1 151 1-61 1-51 1 67 1-6 1 1 1 10 1-233 1 67 1 92 1 168 1-18 1-72 1 11 1 70 1-125 1-9 1-79 1 67 1 55 1-49 1 26 1-9 1 172 1-18 1 24 1-369 1 460 1-90 1-49 1 69 1-124 1 31 1-47 1-97 1-113 1 12 1 55 1-93 1 168 1-51 1 127 1-11 1-26 1 57 1-60 1 130 1-18 1 14 1-9 1 35 1-138 1-43 1 149 1-21 1-86 1 52 1-6 1 7 1 76 1-148 1-118 1-80 1 122 1 59 1-61 1 28 1 129 1-7 1 47 1-89 1-136 1-37 1-70 1 139 1 96 1 205 1-174 1-65 1-49 1-67 1 67 1 161 1 11 1-137 1-45 1 151 1 42 1-110 1 11 1-148 1 87 1 39 1 119 1 33 1 69 1-96 1-62 1 17 1 8 1-38 1-20 1-43 1 109 1-44 1-82 1 46 1 91 1 112 1-43 1-180 1 29 1-50 1 30 1 41 1-63 1-43 1-29 1 102 1-84 1 202 1 39 1 82 1-134 1 42 1 9 1-71 1-171 1 89 1-48 1 134 1-43 1-38 1 30 1 115 1 71 1-99 1-2 1-136 1 99 1 128 1-115 1 50 1-80 1 35 1-137 1 93 1 204 1-292 1 30 1-36 1-8 1-2 1 235 1-49 1-64 1-32 1 9 1 192 1-141 1 91 1-28 1 139 1-176 1-301 1 129 1 42 1 17 1 225 1-259 1-49 1-16 1 222 1-109 1 22 1 96 1-56 1-67 1-142 1 80 1 185 1 24 1 118 1-161 1-392 1 277 1-213 1 165 1 99 1-189 1-29 1 62 1 15 1 38 1 36 1-50 1-46 1-44 1 125 1-14 1-10 1-24 1 23 1 58 1 75 1-157 1 95 1-87 1 21 1 2 1 34 1-31 1-70 1-97 1-10 1 62 1 61 1 68 1-52 1 22 1 130 1-60 1 85 1-137 1-225 1 321 1-44 1-160 1 33 1-6 1-5 1 33 1 50 1 219 1-297 1-8 1-114 1 191 1 13 1 272 1-80 1 64 1-108 1-48 1-84 1 108 1-37 1-15 1 75 1-320 1 137 1 258 1-122 1-81 1 29 1-58 1-60 1 100 1-20 1-28 1 134 1-11 1-18 1-53 1-46 1-12 1 149 1 123 1-286 1 126 1-126 1-170 1 172 1-16 1-4 1-87 1 327 1 3 1-105 1 52 1-30 1-204 1 96 1-156 1 83 1 124 1 136 1-209 1 16 1 20 1 114 1 28 1-57 1-104 1-94 1 117 1 89 1-34 1-67 1-92 1-124 1 144 1 25 1 91 1 2 1 156 1 45 1-108 1-53 1 111 1-213 1 26 1 89 1-42 1-94 1-45 1-11 1 59 1-55 1 158 1 68 1 41 1 63 1 23 1-508 1 306 1-2 1-248 1 328 1-13 1-353 1 112 1 21 1-31 1-48 1 6 1 106 1-121 1 154 1 50 1 46 1-259 1 52 1 209 1-88 1 6 1-225 1 43 1 6 1 74 1 89 1-169 1 135 1-3 1 124 1-73 1-210 1-74 1 108 1 67 1 108 1 79 1-33 1 60 1-133 1-23 1 42 1 18 1-122 1 20 1-65 1 70 1-155 1 231 1-252 1 70 1 130 1 38 1-69 1-44 1 179 1-68 1 146 1-102 1 64 1-50 1 52 1 173 1-259 1-138 1 87 1-110 1-74 1 94 1 46 1 21 1 311 1-170 1-116 1 3 1 13 1-45 1 29 1 4 1-96 1 175 1 39 1-99 1-36 1 141 1 13 1-186 1 185 1-16 1 8 1-203 1-47 1 170 1 7 1-157 1 162 1-15 1 184 1-216 1 196 1 18 1-141 1-47 1 85 1 60 1 56 1 18 1 19 1-69 1-97 1-151 1-18 1 131 1-97 1-12 1 143 1 20 1 80 1 113 1-173 1 55 1 78 1 6 1-241 1 111 1-39 1 20 1-79 1 89 1 7 1-66 1-35 1 249 1-93 1-21 1-21 1-152 1 80 1-7 1-90 1 9 1 0 1-67 1-77 1 93 1 32 1-26 1 365 1-290 1 24 1-14 1-64 1-68 1 122 1-17 1 50 1-31 1-41 1 4 1 27 1 12 1 103 1 35 1-116 1 20 1-7 1-24 1-72 1 87 1 282 1-370 1-73 1 50 1 2 1 50 1-8 1 159 1 2 1-47 1-22 1 162 1-57 1-82 1 7 1 22 1-147 1 34 1 234 1-46 1-7 1 38 1 39 1 2 1-10 1-107 1 52 1 64 1-152 1-8 1-221 1 124 1 156 1-268 1 426 1-91 1-159 1 61 1-11 1-48 1-197 1 312 1-156 1 46 1-31 1 4 1 42 1-126 1 159 1-258 1 281 1 91 1 20 1-148 1 35 1-91 1-6 1 44 1 112 1 1 1 60 1 56 1 48 1-497 1 354 1-173 1-31 1-3 1-59 1-88 1 122 1 141 1-128 1-25 1 13 1 64 1 5 1 30 1-35 1-97 1-22 1-99 1 90 1-41 1 158 1 134 1-189 1 64 1-78 1 78 1-121 1 173 1 1 1 173 1 121 1-70 1-144 1-66 1-79 1-48 1 174 1 77 1-32 1-148 1 15 1 68 1-24 1 1 1 137 1-151 1 76 1-4 1-245 1-33 1-40 1 149 1-101 1 128 1 166 1 5 1-62 1-73 1-149 1-64 1 107 1-168 1-13 1 88 1 127 1-104 1 37 1 66 1-53 1 64 1-126 1 29 1 108 1-50 1 37 1 27 1 49 1-91 1-200 1 78 1 87 1-216 1 232 1-19 1-42 1 63 1-16 1 128 1-10 1 80 1-206 1-45 1 81 1-56 1 98 1-6 1-14 1-38 1 67 1 47 1-47 1-268 1 264 1-122 1 92 1-23 1-35 1 85 1 67 1-345 1 474 1-103 1-77 1-68 1 262 1-265 1-131 1 20 1-94 1 140 1 56 1-12 1 84 1-139 1 72 1 61 1 180 1-260 1 119 1-143 1-31 1 113 1 64 1-118 1 80 1-273 1 417 1-162 1 54 1-168 1-28 1 360 1-238 1-57 1 97 1 115 1-125 1-179 1-49 1 253 1-87 1-217 1 221 1-18 1-26 1 11 1 121 1-183 1-66 1 350 1-338 1-56 1-33 1 62 1 52 1 57 1 22 1-193 1 271 1-111 1 89 1-170 1-9 1 89 1-187 1 399 1-7 1-168 1-94 1-78 1 67 1 64 1 92 1-299 1 290 1-1 1 23 1-65 1 249 1-300 1 217 1-19 1-192 1 71 1 232 1-113 1-76 1-242 1 175 1 58 1-25 1-146 1 212 1 4 1-21 1-97 1-118 1-56 1 106 1 2 1 212 1-88 1 9 1-27 1 141 1 35 1-153 1 266 1-228 1-77 1 63 1-242 1 125 1 208 1-16 1-14 1 44 1 95 1-415 1 459 1-63 1-50 1-51 1 59 1-29 1-172 1 343 1-45 1-38 1-35 1-89 1-234 1 30 1 208 1 30 1 53 1-53 1-213 1 62 1 27 1 73 1 58 1-41 1-53 1-44 1 34 1 77 1 15 1-72 1 82 1 75 1 74 1-102 1-14 1-1 1-39 1-46 1 85 1-98 1-38 1 51 1-154 1 49 1 21 1-77 1-67 1 288 1-20 1 125 1-184 1-48 1 47 1-88 1 99 1-71 1-115 1 140 1-17 1-13 1 67 1 32 1 78 1 86 1 13 1-7 1-29 1-14 1-133 1-102 1-25 1 27 1-47 1-45 1 344 1-437 1 105 1-74 1 244 1 0 1-106 1 44 1 18 1-165 1 46 1-146 1 62 1-72 1 135 1-25 1 32 1 75 1-152 1 237 1 60 1 3 1-102 1-197 1 243 1-153 1 161 1-110 1 12 1 125 1-143 1 192 1 115 1-150 1 6 1-161 1-37 1 21 1 121 1 78 1 124 1-72 1-15 1-165 1 22 1 227 1-538 1 343 1 84 1-103 1 164 1-458 1 438 1 5 1 92 1-311 1 87 1-163 1 55 1-69 1 205 1 54 1-120 1-13 1 48 1-1 1-27 1-5 1-122 1-23 1-27 1-43 1 29 1 85 1-64 1 160 1-91 1-3 1-4 1 48 1 61 1-40 1 137 1 69 1-7 1-25 1-41 1 8 1 41 1-116 1 85 1-265 1 234 1-171 1 50 1 79 1-2 1-95 1-62 1 79 1 39 1 90 1-64 1 113 1-383 1 320 1 42 1 36 1 71 1 75 1-35 1-86 1-112 1 23 1-32 1 4 1-26 1-126 1 100 1 5 1 56 1 23 1-78 1-16 1 18 1-75 1 16 1-131 1 73 1 76 1-201 1 120 1-38 1 48 1-70 1 169 1-39 1 51 1 6 1 11 1 48 1-15 1-89 1-52 1 58 1 57 1-53 1-89 1 165 1-103 1 70 1-150 1 106 1-25 1-71 1 184 1-156 1 89 1-25 1-5 1 5 1 261 1-99 1-3 1 17 1-59 1-89 1-62 1 35 1 69 1 71 1 85 1-45 1-60 1-175 1-135 1 146 1-24 1 37 1 31 1 107 1-43 1 87 1-18 1-58 1-56 1 8 1 37 1 54 1 9 1-43 1-62 1 86 1-94 1-7 1-18 1-41 1 47 1-159 1 280 1-66 1 58 1-5 1-122 1-17 1 42 1 51 1-61 1 17 1-12 1-46 1 32 1 5 1-18 1-155 1-93 1 82 1 28 1 33 1 31 1 174 1 59 1-31 1-305 1 122 1-25 1 9 1 125 1-173 1 51 1 107 1-150 1 290 1-402 1 96 1-102 1-56 1 120 1 57 1 101 1 224 1-343 1 85 1-22 1 198 1-226 1 79 1-6 1-58 1-113 1-113 1 67 1 51 1 52 1 166 1-71 1-26 1 24 1 34 1 3 1-12 1 100 1 47 1-183 1 120 1-77 1 228 1-210 1 12 1 184 1-81 1-124 1 169 1-107 1-74 1-23 1 88 1-58 1-33 1-160 1 4 1 195 1-105 1 43 1 153 1 160 1-117 1 67 1 127 1-145 1-89" stroke="#10e810" stroke-width="3.6"/><polygon points="163,387 166,327 169,342 172,344 175,355 178,311 181,340 184,319 187,328 190,345 193,342 196,310 199,300 202,321 205,354 208,341 211,335 214,344 217,339 220,302 223,330 226,321 229,311 232,350 235,371 238,257 241,349 244,326 247,311 250,307 253,335 256,295 259,338 262,343 265,344 268,324 271,342 274,340 277,331 280,382 283,350 286,323 289,335 292,317 295,345 298,346 301,289 304,312 307,343 310,312 313,344 316,306 319,326 322,340 325,321 328,336 331,334 334,302 337,354 340,335 343,291 346,299 349,291 352,260 355,263 358,278 361,284 364,264 367,271 370,263 373,248 376,341 379,277 382,295 385,286 388,271 391,291 394,316 397,249 400,311 403,304 406,292 409,318 412,241 415,251 418,279 421,277 424,289 427,291 430,271 433,243 436,281 439,223 442,270 445,302 448,246 451,262 454,259 457,238 460,273 463,242 466,285 469,330 472,270 475,329 478,300 481,298 484,359 487,249 490,249 493,275 496,306 499,301 502,272 505,334 508,312 511,292 514,296 517,287 520,314 523,252 526,271 529,267 532,303 535,300 538,290 541,321 544,269 547,296 550,280 553,307 556,348 559,322 562,345 565,262 568,357 571,323 574,295 577,287 580,267 583,272 586,304 589,260 592,322 595,332 598,274 601,281 604,250 607,266 610,272 613,272 616,252 619,283 622,260 625,286 628,245 631,247 634,259 637,228 640,268 643,312 646,290 649,275 652,332 655,268 658,299 661,284 664,331 667,302 670,277 673,259 676,293 679,356 682,362 685,289 688,309 691,367 694,369 697,357 700,322 703,343 706,322 709,347 712,326 715,330 718,369 721,352 724,335 727,354 730,317 733,303 736,308 739,347 742,383 745,375 748,316 751,324 754,319 757,340 760,337 763,301 766,324 769,303 772,339 775,326 778,323 781,315 784,325 787,310 790,328 793,280 796,351 799,292 802,368 805,331 808,265 811,303 814,316 817,306 820,296 823,316 826,302 829,306 832,305 835,301 838,330 841,321 844,290 847,286 850,307 853,338 856,284 859,273 862,343 865,256 868,324 871,297 874,280 877,331 880,282 883,370 886,271 889,258 892,318 895,271 898,290 901,351 904,312 907,327 910,375 913,358 916,323 919,334 922,330 925,334 928,304 931,344 934,357 937,352 940,350 943,332 946,369 949,334 952,329 955,365 958,348 961,336 964,298 967,368 970,333 973,294 976,319 979,342 982,337 985,284 988,299 991,299 994,278 997,300 1000,332 1003,285 1006,292 1009,288 1012,322 1015,268 1018,282 1021,231 1024,264 1027,284 1030,283 1033,309 1036,264 1039,278 1042,289 1045,323 1048,295 1051,292 1054,317 1057,280 1060,293 1063,277 1066,348 1069,308 1072,318 1075,312 1078,259 1081,319 1084,280 1087,324 1090,267 1093,279 1096,320 1099,288 1102,323 1105,295 1108,332 1111,309 1114,286 1117,312 1120,314 1123,312 1126,309 1129,283 1132,336 1135,320 1138,305 1141,321 1144,296 1147,301 1150,297 1153,282 1156,301 1159,322 1162,282 1165,308 1168,315 1171,318 1174,295 1177,305 1180,293 1183,313 1186,307 1189,286 1192,283 1195,286 1198,333 1201,333 1204,287 1207,316 1210,333 1213,314 1216,287 1219,291 1222,329 1225,271 1228,337 1231,344 1234,305 1237,306 1240,321 1243,300 1246,335 1249,342 1252,342 1255,287 1258,295 1261,289 1264,327 1267,350 1270,273 1273,292 1276,287 1279,323 1282,347 1285,338 1288,324 1291,259 1294,338 1297,353 1300,279 1303,282 1306,326 1309,326 1312,325 1315,319 1318,295 1321,304 1324,323 1327,292 1330,306 1333,340 1336,270 1339,288 1342,340 1345,323 1348,302 1351,319 1354,275 1357,292 1360,277 1363,336 1366,315 1369,296 1372,313 1375,277 1378,316 1381,309 1384,349 1387,313 1390,340 1393,333 1396,319 1399,313 1402,300 1405,265 1408,277 1411,272 1414,301 1417,309 1420,304 1423,285 1426,291 1429,296 1432,257 1435,272 1438,276 1441,296 1444,259 1447,285 1450,300 1453,271 1456,250 1459,273 1462,289 1465,267 1468,327 1471,279 1474,296 1477,231 1480,270 1483,269 1486,309 1489,266 1492,281 1495,255 1498,281 1501,275 1504,306 1507,322 1510,314 1513,321 1516,270 1519,287 1522,282 1525,324 1528,293 1531,321 1534,319 1537,265 1540,277 1543,323 1546,349 1549,329 1552,292 1555,316 1558,294 1561,344 1564,306 1567,310 1570,304 1573,295 1576,325 1579,346 1582,320 1585,331 1588,318 1591,267 1594,348 1597,346 1600,349 1603,331 1606,354 1609,307 1612,339 1615,291 1618,363 1621,322 1624,265 1627,308 1630,372 1633,362 1636,330 1639,325 1642,343 1645,352 1648,346 1651,314 1654,320 1657,343 1660,362 1663,363 1666,323 1669,375 1672,292 1675,330 1678,306 1681,299 1684,319 1687,368 1690,292 1693,321 1696,303 1699,337 1702,288 1705,289 1708,301 1711,309 1714,294 1717,309 1720,352 1723,286 1726,339 1729,307 1732,285 1735,285 1738,306 1741,301 1744,288 1747,271 1750,296 1753,296 1756,293 1759,327 1762,290 1765,297 1768,258 1771,307 1774,336 1777,283 1780,310 1783,302 1786,305 1789,242 1792,270 1795,336 1798,266 1801,269 1804,263 1807,236 1810,263 1813,256 1816,270 1819,292 1822,274 1825,236 1828,267 1831,284 1834,227 1837,216 1840,248 1843,269 1846,217 1849,276 1852,241 1855,255 1858,276 1861,288 1864,248 1867,284 1870,216 1873,238 1876,217 1879,266 1882,270 1885,240 1888,289 1891,269 1894,294 1897,281 1900,298 1903,302 1906,282 1909,234 1912,327 1915,251 1918,247 1921,304 1924,312 1927,305 1930,317 1933,281 1936,283 1939,276 1942,287 1945,336 1948,327 1951,288 1954,316 1957,299 1960,339 1963,290 1966,334 1969,297 1972,334 1975,303 1978,307 1981,289 1984,318 1987,299 1990,292 1993,325 1996,301 1999,280 2002,291 2005,278 2008,283 2011,275 2014,288 2017,295 2020,291 2023,299 2026,282 2029,278 2032,285 2035,292 2038,294 2041,318 2044,295 2047,327 2050,262 2053,289 2056,285 2059,278 2062,267 2065,300 2068,264 2071,304 2074,294 2077,272 2080,258 2083,325 2086,293 2089,268 2092,289 2095,274 2098,352 2101,265 2104,272 2107,297 2110,286 2113,303 2116,344 2119,306 2122,300 2125,321 2128,297 2131,273 2134,289 2137,300 2140,302 2143,254 2146,326 2149,284 2152,313 2155,296 2158,325 2161,299 2164,282 2167,290 2170,275 2173,294 2176,276 2179,290 2182,280 2185,322 2188,328 2191,296 2194,279 2197,342 2200,326 2203,326 2206,247 2209,261 2212,268 2215,334 2218,313 2221,308 2224,284 2227,312 2230,315 2233,271 2236,268 2239,354 2242,253 2245,282 2248,253 2251,281 2254,239 2257,275 2260,246 2263,255 2266,231 2269,267 2272,316 2275,250 2278,279 2281,254 2284,284 2287,282 2290,289 2293,287 2296,252 2299,276 2302,249 2305,237 2308,260 2311,244 2314,279 2317,292 2320,278 2323,279 2326,307 2329,284 2329,337 2326,333 2323,375 2320,395 2317,372 2314,331 2311,345 2308,400 2305,314 2302,357 2299,296 2296,309 2293,302 2290,271 2287,312 2284,324 2281,339 2278,305 2275,297 2272,300 2269,333 2266,319 2263,324 2260,320 2257,333 2254,319 2251,365 2248,315 2245,340 2242,351 2239,339 2236,345 2233,355 2230,377 2227,323 2224,337 2221,319 2218,317 2215,316 2212,342 2209,397 2206,365 2203,365 2200,351 2197,404 2194,354 2191,357 2188,381 2185,335 2182,325 2179,385 2176,328 2173,352 2170,350 2167,357 2164,396 2161,333 2158,354 2155,345 2152,350 2149,331 2146,349 2143,362 2140,408 2137,366 2134,306 2131,376 2128,382 2125,322 2122,328 2119,345 2116,348 2113,346 2110,348 2107,364 2104,356 2101,331 2098,353 2095,346 2092,351 2089,360 2086,413 2083,327 2080,369 2077,363 2074,384 2071,339 2068,382 2065,371 2062,363 2059,337 2056,350 2053,343 2050,328 2047,380 2044,321 2041,351 2038,369 2035,354 2032,317 2029,373 2026,363 2023,379 2020,328 2017,338 2014,317 2011,336 2008,382 2005,316 2002,371 1999,379 1996,360 1993,376 1990,331 1987,329 1984,359 1981,354 1978,359 1975,355 1972,410 1969,351 1966,381 1963,357 1960,391 1957,349 1954,392 1951,358 1948,399 1945,298 1942,309 1939,387 1936,366 1933,345 1930,371 1927,346 1924,395 1921,349 1918,329 1915,314 1912,302 1909,385 1906,309 1903,322 1900,346 1897,369 1894,263 1891,283 1888,366 1885,316 1882,298 1879,325 1876,336 1873,315 1870,328 1867,318 1864,288 1861,304 1858,334 1855,338 1852,332 1849,297 1846,320 1843,359 1840,364 1837,336 1834,333 1831,295 1828,310 1825,353 1822,359 1819,370 1816,333 1813,352 1810,339 1807,337 1804,371 1801,320 1798,357 1795,347 1792,389 1789,310 1786,328 1783,370 1780,317 1777,325 1774,333 1771,366 1768,356 1765,350 1762,376 1759,307 1756,298 1753,368 1750,356 1747,342 1744,391 1741,367 1738,340 1735,377 1732,337 1729,384 1726,337 1723,401 1720,395 1717,372 1714,385 1711,393 1708,365 1705,395 1702,399 1699,335 1696,355 1693,407 1690,374 1687,378 1684,372 1681,372 1678,415 1675,379 1672,392 1669,411 1666,343 1663,359 1660,347 1657,402 1654,384 1651,350 1648,417 1645,374 1642,406 1639,370 1636,380 1633,407 1630,358 1627,342 1624,313 1621,391 1618,408 1615,331 1612,425 1609,337 1606,339 1603,380 1600,372 1597,382 1594,414 1591,378 1588,370 1585,370 1582,365 1579,410 1576,372 1573,336 1570,358 1567,373 1564,363 1561,382 1558,385 1555,367 1552,342 1549,393 1546,358 1543,370 1540,367 1537,368 1534,379 1531,351 1528,378 1525,384 1522,318 1519,351 1516,341 1513,319 1510,378 1507,363 1504,369 1501,296 1498,376 1495,325 1492,352 1489,331 1486,363 1483,321 1480,350 1477,369 1474,318 1471,378 1468,286 1465,315 1462,341 1459,361 1456,336 1453,344 1450,360 1447,314 1444,317 1441,356 1438,336 1435,305 1432,322 1429,395 1426,338 1423,351 1420,348 1417,375 1414,358 1411,357 1408,335 1405,376 1402,379 1399,338 1396,383 1393,415 1390,366 1387,339 1384,337 1381,388 1378,368 1375,339 1372,350 1369,352 1366,377 1363,353 1360,350 1357,351 1354,354 1351,392 1348,382 1345,359 1342,375 1339,384 1336,419 1333,401 1330,385 1327,366 1324,348 1321,374 1318,347 1315,357 1312,346 1309,369 1306,396 1303,361 1300,373 1297,358 1294,337 1291,357 1288,379 1285,407 1282,382 1279,433 1276,329 1273,397 1270,372 1267,355 1264,399 1261,367 1258,404 1255,422 1252,383 1249,374 1246,363 1243,397 1240,413 1237,381 1234,368 1231,327 1228,364 1225,402 1222,381 1219,398 1216,373 1213,391 1210,397 1207,372 1204,370 1201,359 1198,391 1195,336 1192,343 1189,336 1186,338 1183,403 1180,351 1177,355 1174,363 1171,339 1168,353 1165,344 1162,318 1159,368 1156,351 1153,402 1150,346 1147,349 1144,371 1141,357 1138,310 1135,320 1132,349 1129,353 1126,393 1123,316 1120,303 1117,362 1114,386 1111,351 1108,402 1105,361 1102,358 1099,378 1096,358 1093,354 1090,324 1087,327 1084,337 1081,291 1078,379 1075,342 1072,350 1069,337 1066,326 1063,311 1060,360 1057,362 1054,371 1051,353 1048,309 1045,346 1042,321 1039,336 1036,348 1033,353 1030,353 1027,326 1024,322 1021,331 1018,316 1015,354 1012,325 1009,394 1006,348 1003,389 1000,393 997,361 994,351 991,333 988,384 985,367 982,384 979,402 976,306 973,331 970,396 967,383 964,394 961,365 958,357 955,412 952,339 949,343 946,386 943,389 940,350 937,418 934,358 931,411 928,427 925,401 922,384 919,390 916,407 913,353 910,358 907,369 904,370 901,374 898,343 895,306 892,338 889,350 886,326 883,330 880,330 877,315 874,337 871,355 868,344 865,298 862,310 859,327 856,344 853,350 850,325 847,355 844,286 841,325 838,315 835,368 832,310 829,352 826,344 823,370 820,352 817,374 814,377 811,368 808,337 805,351 802,346 799,346 796,356 793,368 790,351 787,384 784,391 781,361 778,415 775,349 772,358 769,396 766,425 763,402 760,398 757,352 754,411 751,413 748,349 745,387 742,377 739,417 736,406 733,380 730,386 727,353 724,391 721,353 718,404 715,386 712,378 709,358 706,371 703,382 700,434 697,356 694,368 691,376 688,405 685,380 682,376 679,406 676,340 673,375 670,349 667,372 664,381 661,346 658,316 655,369 652,376 649,344 646,387 643,329 640,271 637,306 634,310 631,295 628,320 625,290 622,285 619,302 616,309 613,375 610,337 607,311 604,382 601,331 598,328 595,331 592,308 589,298 586,392 583,400 580,310 577,380 574,312 571,339 568,366 565,374 562,380 559,355 556,370 553,336 550,340 547,327 544,361 541,328 538,354 535,385 532,342 529,372 526,348 523,359 520,323 517,352 514,376 511,329 508,352 505,328 502,299 499,334 496,300 493,333 490,340 487,353 484,309 481,289 478,360 475,341 472,293 469,321 466,332 463,357 460,345 457,331 454,333 451,341 448,318 445,372 442,332 439,322 436,301 433,330 430,368 427,343 424,298 421,306 418,342 415,337 412,343 409,289 406,286 403,332 400,284 397,304 394,359 391,342 388,331 385,343 382,315 379,320 376,338 373,323 370,333 367,354 364,365 361,316 358,315 355,332 352,323 349,361 346,339 343,363 340,300 337,342 334,350 331,290 328,320 325,399 322,375 319,386 316,353 313,376 310,329 307,392 304,364 301,375 298,377 295,363 292,407 289,340 286,365 283,390 280,405 277,345 274,364 271,343 268,331 265,388 262,379 259,393 256,350 253,372 250,391 247,382 244,331 241,375 238,385 235,349 232,370 229,376 226,360 223,372 220,389 217,367 214,346 211,420 208,384 205,352 202,405 199,372 196,399 193,372 190,344 187,385 184,370 181,347 178,381 175,362 172,369 169,403 166,435 163,432" fill="#10e810"/></g></g><clipPath id="clipA"><rect x="162.5" y="68" width="2169.5" height="533"/></clipPath><rect x="1387" y="85.5" width="929" height="89.5" fill="#fff" stroke="#333" stroke-width="3.6"/><line x1="1437" y1="127.5" x2="1568" y2="127.5" stroke="#333" stroke-width="4"/><line x1="1725" y1="130" x2="1857" y2="130" stroke="#d84848" stroke-width="4"/><line x1="1980" y1="130" x2="2111" y2="130" stroke="#48d848" stroke-width="4"/><text x="1594.0" y="146.5" font-size="47" fill="#333" stroke="#333" text-anchor="start">North</text><text x="1873.0" y="146.5" font-size="47" fill="#333" stroke="#333" text-anchor="start">East</text><text x="2132.0" y="146.5" font-size="47" fill="#333" stroke="#333" text-anchor="start">Vertical</text><rect x="162.5" y="68" width="2169.5" height="533" fill="none" stroke="#444" stroke-width="3.6"/><text x="346.0" y="651.5" font-size="48" fill="#333" stroke="#333" text-anchor="middle">2011</text><text x="607.3" y="651.5" font-size="48" fill="#333" stroke="#333" text-anchor="middle">2012</text><text x="868.6" y="651.5" font-size="48" fill="#333" stroke="#333" text-anchor="middle">2013</text><text x="1129.9" y="651.5" font-size="48" fill="#333" stroke="#333" text-anchor="middle">2014</text><text x="1391.2" y="651.5" font-size="48" fill="#333" stroke="#333" text-anchor="middle">2015</text><text x="1652.5" y="651.5" font-size="48" fill="#333" stroke="#333" text-anchor="middle">2016</text><text x="1913.8" y="651.5" font-size="48" fill="#333" stroke="#333" text-anchor="middle">2017</text><text x="2175.1" y="651.5" font-size="48" fill="#333" stroke="#333" text-anchor="middle">2018</text><path d="M346.0 601v-22M346.0 68v22M607.3 601v-22M607.3 68v22M868.6 601v-22M868.6 68v22M1129.9 601v-22M1129.9 68v22M1391.2 601v-22M1391.2 68v22M1652.5 601v-22M1652.5 68v22M1913.8 601v-22M1913.8 68v22M2175.1 601v-22M2175.1 68v22M162.5 201.0h22M2332 201.0h-22M162.5 334.5h22M2332 334.5h-22M162.5 468.0h22M2332 468.0h-22" stroke="#444" stroke-width="3.6" fill="none"/><text x="144.0" y="81.0" font-size="47" fill="#333" stroke="#333" text-anchor="end">20</text><text x="144.0" y="214.5" font-size="47" fill="#333" stroke="#333" text-anchor="end">10</text><text x="144.0" y="348.0" font-size="47" fill="#333" stroke="#333" text-anchor="end">0</text><text x="144.0" y="481.5" font-size="47" fill="#333" stroke="#333" text-anchor="end">-10</text><text x="144.0" y="615.0" font-size="47" fill="#333" stroke="#333" text-anchor="end">-20</text><text x="1250.5" y="696.5" font-size="48" fill="#222" stroke="#222" text-anchor="middle">Time (Year)</text><text transform="translate(68.5 331.5) rotate(-90)" font-size="54" fill="#222" stroke="#222" text-anchor="middle">Displacement (mm)</text><text x="179" y="127" font-size="56" fill="#333" stroke="#333">(a)</text><clipPath id="cs0"><rect x="162" y="742" width="1341.5" height="346.5"/></clipPath><g clip-path="url(#cs0)"><g filter="url(#jet)"><rect x="162" y="742" width="1341.5" height="346.5" fill="#808080"/><ellipse class="p" cx="174" cy="765" rx="6" ry="44" fill="url(#gg)" opacity="0.054"/><ellipse class="p" cx="187" cy="769" rx="6" ry="44" fill="url(#gg)" opacity="0.067"/><ellipse class="p" cx="201" cy="768" rx="6" ry="44" fill="url(#gg)" opacity="0.054"/><ellipse class="p" cx="216" cy="771" rx="6" ry="44" fill="url(#gg)" opacity="0.051"/><ellipse class="p" cx="231" cy="769" rx="6" ry="44" fill="url(#gg)" opacity="0.062"/><ellipse class="p" cx="246" cy="765" rx="6" ry="44" fill="url(#gg)" opacity="0.035"/><ellipse class="p" cx="259" cy="767" rx="6" ry="44" fill="url(#gg)" opacity="0.052"/><ellipse class="p" cx="272" cy="768" rx="6" ry="44" fill="url(#gg)" opacity="0.065"/><ellipse class="p" cx="286" cy="768" rx="6" ry="44" fill="url(#gg)" opacity="0.054"/><ellipse class="p" cx="300" cy="769" rx="6" ry="44" fill="url(#gg)" opacity="0.039"/><ellipse class="p" cx="313" cy="767" rx="6" ry="44" fill="url(#gg)" opacity="0.051"/><ellipse class="p" cx="326" cy="769" rx="6" ry="44" fill="url(#gg)" opacity="0.047"/><ellipse class="p" cx="341" cy="766" rx="6" ry="44" fill="url(#gg)" opacity="0.057"/><ellipse class="p" cx="356" cy="769" rx="6" ry="44" fill="url(#gg)" opacity="0.060"/><ellipse class="p" cx="370" cy="764" rx="6" ry="44" fill="url(#gg)" opacity="0.051"/><ellipse class="p" cx="385" cy="769" rx="6" ry="44" fill="url(#gg)" opacity="0.046"/><ellipse class="p" cx="401" cy="765" rx="6" ry="44" fill="url(#gg)" opacity="0.051"/><ellipse class="p" cx="415" cy="766" rx="6" ry="44" fill="url(#gg)" opacity="0.032"/><ellipse class="p" cx="429" cy="770" rx="6" ry="44" fill="url(#gg)" opacity="0.063"/><ellipse class="p" cx="444" cy="765" rx="6" ry="44" fill="url(#gg)" opacity="0.064"/><ellipse class="p" cx="460" cy="768" rx="6" ry="44" fill="url(#gg)" opacity="0.055"/><ellipse class="p" cx="474" cy="763" rx="6" ry="44" fill="url(#gg)" opacity="0.059"/><ellipse class="p" cx="488" cy="770" rx="6" ry="44" fill="url(#gg)" opacity="0.041"/><ellipse class="p" cx="502" cy="768" rx="6" ry="44" fill="url(#gg)" opacity="0.046"/><ellipse class="p" cx="515" cy="770" rx="6" ry="44" fill="url(#gg)" opacity="0.048"/><ellipse class="p" cx="529" cy="766" rx="6" ry="44" fill="url(#gg)" opacity="0.066"/><ellipse class="p" cx="543" cy="770" rx="6" ry="44" fill="url(#gg)" opacity="0.069"/><ellipse class="p" cx="557" cy="769" rx="6" ry="44" fill="url(#gg)" opacity="0.039"/><ellipse class="p" cx="571" cy="769" rx="6" ry="44" fill="url(#gg)" opacity="0.064"/><ellipse class="p" cx="586" cy="771" rx="6" ry="44" fill="url(#gg)" opacity="0.067"/><ellipse class="p" cx="600" cy="769" rx="6" ry="44" fill="url(#gg)" opacity="0.068"/><ellipse class="p" cx="613" cy="769" rx="6" ry="44" fill="url(#gg)" opacity="0.062"/><ellipse class="p" cx="627" cy="768" rx="6" ry="44" fill="url(#gg)" opacity="0.049"/><ellipse class="p" cx="641" cy="765" rx="6" ry="44" fill="url(#gg)" opacity="0.062"/><ellipse class="p" cx="655" cy="769" rx="6" ry="44" fill="url(#gg)" opacity="0.035"/><ellipse class="p" cx="669" cy="764" rx="6" ry="44" fill="url(#gg)" opacity="0.034"/><ellipse class="p" cx="683" cy="764" rx="6" ry="44" fill="url(#gg)" opacity="0.069"/><ellipse class="p" cx="697" cy="766" rx="6" ry="44" fill="url(#gg)" opacity="0.052"/><ellipse class="p" cx="710" cy="766" rx="6" ry="44" fill="url(#gg)" opacity="0.038"/><ellipse class="p" cx="725" cy="763" rx="6" ry="44" fill="url(#gg)" opacity="0.035"/><ellipse class="p" cx="739" cy="769" rx="6" ry="44" fill="url(#gg)" opacity="0.062"/><ellipse class="p" cx="754" cy="764" rx="6" ry="44" fill="url(#gg)" opacity="0.056"/><ellipse class="p" cx="768" cy="769" rx="6" ry="44" fill="url(#gg)" opacity="0.041"/><ellipse class="p" cx="784" cy="765" rx="6" ry="44" fill="url(#gg)" opacity="0.051"/><ellipse class="p" cx="798" cy="771" rx="6" ry="44" fill="url(#gg)" opacity="0.055"/><ellipse class="p" cx="813" cy="767" rx="6" ry="44" fill="url(#gg)" opacity="0.053"/><ellipse class="p" cx="825" cy="767" rx="6" ry="44" fill="url(#gg)" opacity="0.037"/><ellipse class="p" cx="839" cy="770" rx="6" ry="44" fill="url(#gg)" opacity="0.034"/><ellipse class="p" cx="854" cy="769" rx="6" ry="44" fill="url(#gg)" opacity="0.050"/><ellipse class="p" cx="869" cy="765" rx="6" ry="44" fill="url(#gg)" opacity="0.042"/><ellipse class="p" cx="883" cy="765" rx="6" ry="44" fill="url(#gg)" opacity="0.049"/><ellipse class="p" cx="898" cy="767" rx="6" ry="44" fill="url(#gg)" opacity="0.044"/><ellipse class="p" cx="912" cy="769" rx="6" ry="44" fill="url(#gg)" opacity="0.032"/><ellipse class="p" cx="925" cy="767" rx="6" ry="44" fill="url(#gg)" opacity="0.040"/><ellipse class="p" cx="939" cy="769" rx="6" ry="44" fill="url(#gg)" opacity="0.058"/><ellipse class="p" cx="954" cy="769" rx="6" ry="44" fill="url(#gg)" opacity="0.066"/><ellipse class="p" cx="968" cy="769" rx="6" ry="44" fill="url(#gg)" opacity="0.047"/><ellipse class="p" cx="983" cy="766" rx="6" ry="44" fill="url(#gg)" opacity="0.060"/><ellipse class="p" cx="996" cy="764" rx="6" ry="44" fill="url(#gg)" opacity="0.041"/><ellipse class="p" cx="1012" cy="767" rx="6" ry="44" fill="url(#gg)" opacity="0.054"/><ellipse class="p" cx="1028" cy="764" rx="6" ry="44" fill="url(#gg)" opacity="0.063"/><ellipse class="p" cx="1042" cy="770" rx="6" ry="44" fill="url(#gg)" opacity="0.034"/><ellipse class="p" cx="1057" cy="771" rx="6" ry="44" fill="url(#gg)" opacity="0.067"/><ellipse class="p" cx="1073" cy="769" rx="6" ry="44" fill="url(#gg)" opacity="0.041"/><ellipse class="p" cx="1087" cy="764" rx="6" ry="44" fill="url(#gg)" opacity="0.070"/><ellipse class="p" cx="1102" cy="766" rx="6" ry="44" fill="url(#gg)" opacity="0.052"/><ellipse class="p" cx="1116" cy="765" rx="6" ry="44" fill="url(#gg)" opacity="0.054"/><ellipse class="p" cx="1130" cy="771" rx="6" ry="44" fill="url(#gg)" opacity="0.054"/><ellipse class="p" cx="1143" cy="764" rx="6" ry="44" fill="url(#gg)" opacity="0.037"/><ellipse class="p" cx="1156" cy="770" rx="6" ry="44" fill="url(#gg)" opacity="0.067"/><ellipse class="p" cx="1171" cy="770" rx="6" ry="44" fill="url(#gg)" opacity="0.055"/><ellipse class="p" cx="1184" cy="765" rx="6" ry="44" fill="url(#gg)" opacity="0.055"/><ellipse class="p" cx="1198" cy="768" rx="6" ry="44" fill="url(#gg)" opacity="0.050"/><ellipse class="p" cx="1212" cy="764" rx="6" ry="44" fill="url(#gg)" opacity="0.057"/><ellipse class="p" cx="1225" cy="765" rx="6" ry="44" fill="url(#gg)" opacity="0.041"/><ellipse class="p" cx="1240" cy="771" rx="6" ry="44" fill="url(#gg)" opacity="0.067"/><ellipse class="p" cx="1254" cy="768" rx="6" ry="44" fill="url(#gg)" opacity="0.053"/><ellipse class="p" cx="1266" cy="771" rx="6" ry="44" fill="url(#gg)" opacity="0.059"/><ellipse class="p" cx="1280" cy="764" rx="6" ry="44" fill="url(#gg)" opacity="0.057"/><ellipse class="p" cx="1294" cy="764" rx="6" ry="44" fill="url(#gg)" opacity="0.064"/><ellipse class="p" cx="1308" cy="767" rx="6" ry="44" fill="url(#gg)" opacity="0.068"/><ellipse class="p" cx="1324" cy="767" rx="6" ry="44" fill="url(#gg)" opacity="0.060"/><ellipse class="p" cx="1339" cy="770" rx="6" ry="44" fill="url(#gg)" opacity="0.048"/><ellipse class="p" cx="1354" cy="766" rx="6" ry="44" fill="url(#gg)" opacity="0.062"/><ellipse class="p" cx="1369" cy="769" rx="6" ry="44" fill="url(#gg)" opacity="0.050"/><ellipse class="p" cx="1383" cy="770" rx="6" ry="44" fill="url(#gg)" opacity="0.055"/><ellipse class="p" cx="1397" cy="767" rx="6" ry="44" fill="url(#gg)" opacity="0.036"/><ellipse class="p" cx="1411" cy="767" rx="6" ry="44" fill="url(#gg)" opacity="0.068"/><ellipse class="p" cx="1425" cy="768" rx="6" ry="44" fill="url(#gg)" opacity="0.038"/><ellipse class="p" cx="1438" cy="765" rx="6" ry="44" fill="url(#gg)" opacity="0.037"/><ellipse class="p" cx="1451" cy="764" rx="6" ry="44" fill="url(#gg)" opacity="0.050"/><ellipse class="p" cx="1465" cy="764" rx="6" ry="44" fill="url(#gg)" opacity="0.054"/><ellipse class="p" cx="1480" cy="763" rx="6" ry="44" fill="url(#gg)" opacity="0.057"/><ellipse class="p" cx="1495" cy="765" rx="6" ry="44" fill="url(#gg)" opacity="0.055"/><ellipse class="p" cx="184" cy="799" rx="10" ry="61" fill="url(#gg)" opacity="0.086"/><ellipse class="p" cx="210" cy="798" rx="10" ry="61" fill="url(#gg)" opacity="0.070"/><ellipse class="p" cx="237" cy="803" rx="10" ry="61" fill="url(#gg)" opacity="0.057"/><ellipse class="p" cx="263" cy="801" rx="10" ry="61" fill="url(#gg)" opacity="0.071"/><ellipse class="p" cx="286" cy="799" rx="10" ry="61" fill="url(#gg)" opacity="0.050"/><ellipse class="p" cx="311" cy="805" rx="10" ry="61" fill="url(#gg)" opacity="0.044"/><ellipse class="p" cx="335" cy="805" rx="10" ry="61" fill="url(#gg)" opacity="0.059"/><ellipse class="p" cx="363" cy="801" rx="10" ry="61" fill="url(#gg)" opacity="0.076"/><ellipse class="p" cx="387" cy="804" rx="10" ry="61" fill="url(#gg)" opacity="0.056"/><ellipse class="p" cx="413" cy="801" rx="10" ry="61" fill="url(#gg)" opacity="0.053"/><ellipse class="p" cx="440" cy="804" rx="10" ry="61" fill="url(#gg)" opacity="0.081"/><ellipse class="p" cx="465" cy="799" rx="10" ry="61" fill="url(#gg)" opacity="0.043"/><ellipse class="p" cx="491" cy="798" rx="10" ry="61" fill="url(#gg)" opacity="0.049"/><ellipse class="p" cx="518" cy="800" rx="10" ry="61" fill="url(#gg)" opacity="0.081"/><ellipse class="p" cx="543" cy="798" rx="10" ry="61" fill="url(#gg)" opacity="0.086"/><ellipse class="p" cx="570" cy="805" rx="10" ry="61" fill="url(#gg)" opacity="0.062"/><ellipse class="p" cx="598" cy="801" rx="10" ry="61" fill="url(#gg)" opacity="0.081"/><ellipse class="p" cx="623" cy="802" rx="10" ry="61" fill="url(#gg)" opacity="0.087"/><ellipse class="p" cx="650" cy="800" rx="10" ry="61" fill="url(#gg)" opacity="0.074"/><ellipse class="p" cx="676" cy="798" rx="10" ry="61" fill="url(#gg)" opacity="0.053"/><ellipse class="p" cx="704" cy="800" rx="10" ry="61" fill="url(#gg)" opacity="0.065"/><ellipse class="p" cx="732" cy="802" rx="10" ry="61" fill="url(#gg)" opacity="0.084"/><ellipse class="p" cx="759" cy="802" rx="10" ry="61" fill="url(#gg)" opacity="0.071"/><ellipse class="p" cx="784" cy="803" rx="10" ry="61" fill="url(#gg)" opacity="0.061"/><ellipse class="p" cx="810" cy="804" rx="10" ry="61" fill="url(#gg)" opacity="0.069"/><ellipse class="p" cx="836" cy="805" rx="10" ry="61" fill="url(#gg)" opacity="0.072"/><ellipse class="p" cx="863" cy="806" rx="10" ry="61" fill="url(#gg)" opacity="0.075"/><ellipse class="p" cx="888" cy="802" rx="10" ry="61" fill="url(#gg)" opacity="0.067"/><ellipse class="p" cx="914" cy="799" rx="10" ry="61" fill="url(#gg)" opacity="0.077"/><ellipse class="p" cx="938" cy="798" rx="10" ry="61" fill="url(#gg)" opacity="0.057"/><ellipse class="p" cx="967" cy="800" rx="10" ry="61" fill="url(#gg)" opacity="0.069"/><ellipse class="p" cx="992" cy="801" rx="10" ry="61" fill="url(#gg)" opacity="0.066"/><ellipse class="p" cx="1015" cy="805" rx="10" ry="61" fill="url(#gg)" opacity="0.073"/><ellipse class="p" cx="1042" cy="798" rx="10" ry="61" fill="url(#gg)" opacity="0.076"/><ellipse class="p" cx="1070" cy="801" rx="10" ry="61" fill="url(#gg)" opacity="0.055"/><ellipse class="p" cx="1098" cy="799" rx="10" ry="61" fill="url(#gg)" opacity="0.068"/><ellipse class="p" cx="1126" cy="800" rx="10" ry="61" fill="url(#gg)" opacity="0.058"/><ellipse class="p" cx="1151" cy="800" rx="10" ry="61" fill="url(#gg)" opacity="0.078"/><ellipse class="p" cx="1179" cy="802" rx="10" ry="61" fill="url(#gg)" opacity="0.081"/><ellipse class="p" cx="1205" cy="799" rx="10" ry="61" fill="url(#gg)" opacity="0.087"/><ellipse class="p" cx="1229" cy="803" rx="10" ry="61" fill="url(#gg)" opacity="0.074"/><ellipse class="p" cx="1257" cy="802" rx="10" ry="61" fill="url(#gg)" opacity="0.087"/><ellipse class="p" cx="1283" cy="804" rx="10" ry="61" fill="url(#gg)" opacity="0.073"/><ellipse class="p" cx="1308" cy="801" rx="10" ry="61" fill="url(#gg)" opacity="0.066"/><ellipse class="p" cx="1335" cy="803" rx="10" ry="61" fill="url(#gg)" opacity="0.056"/><ellipse class="p" cx="1360" cy="804" rx="10" ry="61" fill="url(#gg)" opacity="0.044"/><ellipse class="p" cx="1384" cy="798" rx="10" ry="61" fill="url(#gg)" opacity="0.042"/><ellipse class="p" cx="1410" cy="799" rx="10" ry="61" fill="url(#gg)" opacity="0.086"/><ellipse class="p" cx="1439" cy="801" rx="10" ry="61" fill="url(#gg)" opacity="0.069"/><ellipse class="p" cx="1465" cy="800" rx="10" ry="61" fill="url(#gg)" opacity="0.054"/><ellipse class="p" cx="1494" cy="806" rx="10" ry="61" fill="url(#gg)" opacity="0.089"/><ellipse class="p" cx="195" cy="844" rx="18" ry="70" fill="url(#gg)" opacity="0.071"/><ellipse class="p" cx="241" cy="844" rx="18" ry="70" fill="url(#gg)" opacity="0.094"/><ellipse class="p" cx="279" cy="844" rx="18" ry="70" fill="url(#gg)" opacity="0.100"/><ellipse class="p" cx="319" cy="838" rx="18" ry="70" fill="url(#gg)" opacity="0.097"/><ellipse class="p" cx="361" cy="840" rx="18" ry="70" fill="url(#gg)" opacity="0.061"/><ellipse class="p" cx="401" cy="841" rx="18" ry="70" fill="url(#gg)" opacity="0.053"/><ellipse class="p" cx="445" cy="845" rx="18" ry="70" fill="url(#gg)" opacity="0.059"/><ellipse class="p" cx="488" cy="841" rx="18" ry="70" fill="url(#gg)" opacity="0.057"/><ellipse class="p" cx="528" cy="838" rx="18" ry="70" fill="url(#gg)" opacity="0.081"/><ellipse class="p" cx="567" cy="844" rx="18" ry="70" fill="url(#gg)" opacity="0.050"/><ellipse class="p" cx="609" cy="844" rx="18" ry="70" fill="url(#gg)" opacity="0.075"/><ellipse class="p" cx="654" cy="843" rx="18" ry="70" fill="url(#gg)" opacity="0.059"/><ellipse class="p" cx="698" cy="839" rx="18" ry="70" fill="url(#gg)" opacity="0.079"/><ellipse class="p" cx="740" cy="838" rx="18" ry="70" fill="url(#gg)" opacity="0.061"/><ellipse class="p" cx="784" cy="846" rx="18" ry="70" fill="url(#gg)" opacity="0.084"/><ellipse class="p" cx="824" cy="844" rx="18" ry="70" fill="url(#gg)" opacity="0.075"/><ellipse class="p" cx="867" cy="841" rx="18" ry="70" fill="url(#gg)" opacity="0.097"/><ellipse class="p" cx="905" cy="843" rx="18" ry="70" fill="url(#gg)" opacity="0.087"/><ellipse class="p" cx="950" cy="843" rx="18" ry="70" fill="url(#gg)" opacity="0.075"/><ellipse class="p" cx="993" cy="843" rx="18" ry="70" fill="url(#gg)" opacity="0.075"/><ellipse class="p" cx="1034" cy="843" rx="18" ry="70" fill="url(#gg)" opacity="0.073"/><ellipse class="p" cx="1070" cy="845" rx="18" ry="70" fill="url(#gg)" opacity="0.062"/><ellipse class="p" cx="1112" cy="840" rx="18" ry="70" fill="url(#gg)" opacity="0.068"/><ellipse class="p" cx="1157" cy="843" rx="18" ry="70" fill="url(#gg)" opacity="0.082"/><ellipse class="p" cx="1200" cy="841" rx="18" ry="70" fill="url(#gg)" opacity="0.058"/><ellipse class="p" cx="1238" cy="842" rx="18" ry="70" fill="url(#gg)" opacity="0.080"/><ellipse class="p" cx="1280" cy="845" rx="18" ry="70" fill="url(#gg)" opacity="0.072"/><ellipse class="p" cx="1325" cy="842" rx="18" ry="70" fill="url(#gg)" opacity="0.085"/><ellipse class="p" cx="1366" cy="845" rx="18" ry="70" fill="url(#gg)" opacity="0.047"/><ellipse class="p" cx="1406" cy="842" rx="18" ry="70" fill="url(#gg)" opacity="0.098"/><ellipse class="p" cx="1449" cy="845" rx="18" ry="70" fill="url(#gg)" opacity="0.060"/><ellipse class="p" cx="1495" cy="841" rx="18" ry="70" fill="url(#gg)" opacity="0.088"/><ellipse class="p" cx="205" cy="1030" rx="149" ry="38" fill="url(#gg)" opacity="0.240" transform="rotate(-12 205 1030)"/><ellipse class="p" cx="330" cy="998" rx="158" ry="32" fill="url(#gg)" opacity="0.100" transform="rotate(-14 330 998)"/><ellipse class="p" cx="175" cy="975" rx="52" ry="70" fill="url(#gg)" opacity="0.070"/><ellipse class="p" cx="840" cy="1048" rx="262" ry="74" fill="url(#gg)" opacity="0.380"/><ellipse class="p" cx="850" cy="1010" rx="332" ry="52" fill="url(#gg)" opacity="0.080"/><ellipse class="p" cx="1310" cy="1006" rx="350" ry="23" fill="url(#gg)" opacity="0.100" transform="rotate(2 1310 1006)"/><ellipse class="p" cx="1480" cy="1030" rx="70" ry="24" fill="url(#gg)" opacity="0.180"/><ellipse class="p" cx="1110" cy="1078" rx="88" ry="21" fill="url(#gg)" opacity="0.100"/><ellipse class="p" cx="342" cy="957" rx="91" ry="42" fill="url(#gg)" opacity="0.350" transform="rotate(-8 342 957)"/><ellipse class="p" cx="593" cy="961" rx="77" ry="35" fill="url(#gg)" opacity="0.350"/><ellipse class="p" cx="874" cy="964" rx="80" ry="28" fill="url(#gg)" opacity="0.280"/><ellipse class="p" cx="1132" cy="955" rx="74" ry="26" fill="url(#gg)" opacity="0.200"/><ellipse class="p" cx="1363" cy="942" rx="88" ry="35" fill="url(#gg)" opacity="0.100"/><ellipse class="p" cx="420" cy="925" rx="210" ry="24" fill="url(#gg)" opacity="0.060"/><ellipse class="p" cx="1000" cy="925" rx="105" ry="18" fill="url(#gg)" opacity="0.070"/><ellipse class="p" cx="180" cy="890" rx="44" ry="70" fill="url(#gg)" opacity="0.080"/><ellipse class="p" cx="246" cy="875" rx="26" ry="44" fill="url(#gg)" opacity="0.260" transform="rotate(15 246 875)"/><ellipse class="p" cx="334" cy="840" rx="18" ry="91" fill="url(#gg)" opacity="0.250"/><ellipse class="p" cx="336" cy="880" rx="31" ry="52" fill="url(#gg)" opacity="0.340"/><ellipse class="p" cx="441" cy="895" rx="39" ry="35" fill="url(#gg)" opacity="0.280"/><ellipse class="p" cx="564" cy="902" rx="33" ry="22" fill="url(#gg)" opacity="0.200"/><ellipse class="p" cx="295" cy="805" rx="13" ry="44" fill="url(#gg)" opacity="0.150"/><ellipse class="p" cx="388" cy="836" rx="18" ry="33" fill="url(#gg)" opacity="0.180" transform="rotate(25 388 836)"/><ellipse class="p" cx="687" cy="877" rx="22" ry="55" fill="url(#gg)" opacity="0.140" transform="rotate(10 687 877)"/><ellipse class="p" cx="760" cy="836" rx="18" ry="61" fill="url(#gg)" opacity="0.200" transform="rotate(10 760 836)"/><ellipse class="p" cx="813" cy="820" rx="12" ry="63" fill="url(#gg)" opacity="0.350"/><ellipse class="p" cx="858" cy="831" rx="15" ry="61" fill="url(#gg)" opacity="0.200" transform="rotate(-15 858 831)"/><ellipse class="p" cx="851" cy="872" rx="26" ry="33" fill="url(#gg)" opacity="0.120"/><ellipse class="p" cx="965" cy="900" rx="33" ry="33" fill="url(#gg)" opacity="0.150"/><ellipse class="p" cx="1086" cy="897" rx="44" ry="44" fill="url(#gg)" opacity="0.120"/><ellipse class="p" cx="1190" cy="874" rx="26" ry="55" fill="url(#gg)" opacity="0.190"/><ellipse class="p" cx="1275" cy="878" rx="26" ry="33" fill="url(#gg)" opacity="0.210"/><ellipse class="p" cx="1377" cy="897" rx="33" ry="48" fill="url(#gg)" opacity="0.210"/><rect x="162" y="742" width="1341.5" height="346.5" fill="#fff" class="d"/><ellipse class="p" cx="180" cy="768" rx="6" ry="44" fill="url(#gg)" opacity="0.069"/><ellipse class="p" cx="194" cy="765" rx="6" ry="44" fill="url(#gg)" opacity="0.069"/><ellipse class="p" cx="208" cy="767" rx="6" ry="44" fill="url(#gg)" opacity="0.070"/><ellipse class="p" cx="224" cy="766" rx="6" ry="44" fill="url(#gg)" opacity="0.047"/><ellipse class="p" cx="238" cy="764" rx="6" ry="44" fill="url(#gg)" opacity="0.047"/><ellipse class="p" cx="253" cy="770" rx="6" ry="44" fill="url(#gg)" opacity="0.032"/><ellipse class="p" cx="265" cy="766" rx="6" ry="44" fill="url(#gg)" opacity="0.068"/><ellipse class="p" cx="279" cy="771" rx="6" ry="44" fill="url(#gg)" opacity="0.035"/><ellipse class="p" cx="293" cy="768" rx="6" ry="44" fill="url(#gg)" opacity="0.053"/><ellipse class="p" cx="306" cy="764" rx="6" ry="44" fill="url(#gg)" opacity="0.044"/><ellipse class="p" cx="319" cy="765" rx="6" ry="44" fill="url(#gg)" opacity="0.049"/><ellipse class="p" cx="334" cy="768" rx="6" ry="44" fill="url(#gg)" opacity="0.045"/><ellipse class="p" cx="348" cy="765" rx="6" ry="44" fill="url(#gg)" opacity="0.057"/><ellipse class="p" cx="362" cy="768" rx="6" ry="44" fill="url(#gg)" opacity="0.042"/><ellipse class="p" cx="377" cy="770" rx="6" ry="44" fill="url(#gg)" opacity="0.061"/><ellipse class="p" cx="393" cy="767" rx="6" ry="44" fill="url(#gg)" opacity="0.069"/><ellipse class="p" cx="409" cy="765" rx="6" ry="44" fill="url(#gg)" opacity="0.042"/><ellipse class="p" cx="421" cy="763" rx="6" ry="44" fill="url(#gg)" opacity="0.059"/><ellipse class="p" cx="437" cy="769" rx="6" ry="44" fill="url(#gg)" opacity="0.057"/><ellipse class="p" cx="452" cy="769" rx="6" ry="44" fill="url(#gg)" opacity="0.070"/><ellipse class="p" cx="468" cy="766" rx="6" ry="44" fill="url(#gg)" opacity="0.043"/><ellipse class="p" cx="481" cy="766" rx="6" ry="44" fill="url(#gg)" opacity="0.047"/><ellipse class="p" cx="495" cy="770" rx="6" ry="44" fill="url(#gg)" opacity="0.068"/><ellipse class="p" cx="508" cy="765" rx="6" ry="44" fill="url(#gg)" opacity="0.036"/><ellipse class="p" cx="522" cy="769" rx="6" ry="44" fill="url(#gg)" opacity="0.033"/><ellipse class="p" cx="536" cy="766" rx="6" ry="44" fill="url(#gg)" opacity="0.069"/><ellipse class="p" cx="551" cy="769" rx="6" ry="44" fill="url(#gg)" opacity="0.067"/><ellipse class="p" cx="565" cy="770" rx="6" ry="44" fill="url(#gg)" opacity="0.035"/><ellipse class="p" cx="579" cy="763" rx="6" ry="44" fill="url(#gg)" opacity="0.042"/><ellipse class="p" cx="593" cy="771" rx="6" ry="44" fill="url(#gg)" opacity="0.047"/><ellipse class="p" cx="607" cy="767" rx="6" ry="44" fill="url(#gg)" opacity="0.037"/><ellipse class="p" cx="621" cy="769" rx="6" ry="44" fill="url(#gg)" opacity="0.045"/><ellipse class="p" cx="635" cy="769" rx="6" ry="44" fill="url(#gg)" opacity="0.040"/><ellipse class="p" cx="648" cy="767" rx="6" ry="44" fill="url(#gg)" opacity="0.058"/><ellipse class="p" cx="662" cy="765" rx="6" ry="44" fill="url(#gg)" opacity="0.053"/><ellipse class="p" cx="677" cy="767" rx="6" ry="44" fill="url(#gg)" opacity="0.058"/><ellipse class="p" cx="689" cy="769" rx="6" ry="44" fill="url(#gg)" opacity="0.062"/><ellipse class="p" cx="703" cy="766" rx="6" ry="44" fill="url(#gg)" opacity="0.056"/><ellipse class="p" cx="718" cy="763" rx="6" ry="44" fill="url(#gg)" opacity="0.048"/><ellipse class="p" cx="731" cy="769" rx="6" ry="44" fill="url(#gg)" opacity="0.039"/><ellipse class="p" cx="747" cy="770" rx="6" ry="44" fill="url(#gg)" opacity="0.049"/><ellipse class="p" cx="762" cy="768" rx="6" ry="44" fill="url(#gg)" opacity="0.060"/><ellipse class="p" cx="776" cy="763" rx="6" ry="44" fill="url(#gg)" opacity="0.062"/><ellipse class="p" cx="791" cy="770" rx="6" ry="44" fill="url(#gg)" opacity="0.061"/><ellipse class="p" cx="805" cy="769" rx="6" ry="44" fill="url(#gg)" opacity="0.036"/><ellipse class="p" cx="819" cy="770" rx="6" ry="44" fill="url(#gg)" opacity="0.068"/><ellipse class="p" cx="832" cy="766" rx="6" ry="44" fill="url(#gg)" opacity="0.055"/><ellipse class="p" cx="846" cy="769" rx="6" ry="44" fill="url(#gg)" opacity="0.045"/><ellipse class="p" cx="861" cy="763" rx="6" ry="44" fill="url(#gg)" opacity="0.047"/><ellipse class="p" cx="875" cy="763" rx="6" ry="44" fill="url(#gg)" opacity="0.054"/><ellipse class="p" cx="890" cy="766" rx="6" ry="44" fill="url(#gg)" opacity="0.069"/><ellipse class="p" cx="905" cy="765" rx="6" ry="44" fill="url(#gg)" opacity="0.061"/><ellipse class="p" cx="918" cy="765" rx="6" ry="44" fill="url(#gg)" opacity="0.048"/><ellipse class="p" cx="932" cy="766" rx="6" ry="44" fill="url(#gg)" opacity="0.057"/><ellipse class="p" cx="946" cy="764" rx="6" ry="44" fill="url(#gg)" opacity="0.036"/><ellipse class="p" cx="962" cy="769" rx="6" ry="44" fill="url(#gg)" opacity="0.069"/><ellipse class="p" cx="975" cy="770" rx="6" ry="44" fill="url(#gg)" opacity="0.058"/><ellipse class="p" cx="989" cy="765" rx="6" ry="44" fill="url(#gg)" opacity="0.048"/><ellipse class="p" cx="1004" cy="769" rx="6" ry="44" fill="url(#gg)" opacity="0.052"/><ellipse class="p" cx="1020" cy="766" rx="6" ry="44" fill="url(#gg)" opacity="0.038"/><ellipse class="p" cx="1035" cy="768" rx="6" ry="44" fill="url(#gg)" opacity="0.042"/><ellipse class="p" cx="1049" cy="769" rx="6" ry="44" fill="url(#gg)" opacity="0.034"/><ellipse class="p" cx="1065" cy="767" rx="6" ry="44" fill="url(#gg)" opacity="0.045"/><ellipse class="p" cx="1080" cy="763" rx="6" ry="44" fill="url(#gg)" opacity="0.044"/><ellipse class="p" cx="1094" cy="768" rx="6" ry="44" fill="url(#gg)" opacity="0.060"/><ellipse class="p" cx="1108" cy="766" rx="6" ry="44" fill="url(#gg)" opacity="0.058"/><ellipse class="p" cx="1123" cy="764" rx="6" ry="44" fill="url(#gg)" opacity="0.034"/><ellipse class="p" cx="1136" cy="765" rx="6" ry="44" fill="url(#gg)" opacity="0.044"/><ellipse class="p" cx="1149" cy="768" rx="6" ry="44" fill="url(#gg)" opacity="0.038"/><ellipse class="p" cx="1163" cy="767" rx="6" ry="44" fill="url(#gg)" opacity="0.060"/><ellipse class="p" cx="1177" cy="771" rx="6" ry="44" fill="url(#gg)" opacity="0.055"/><ellipse class="p" cx="1191" cy="764" rx="6" ry="44" fill="url(#gg)" opacity="0.051"/><ellipse class="p" cx="1206" cy="767" rx="6" ry="44" fill="url(#gg)" opacity="0.032"/><ellipse class="p" cx="1218" cy="769" rx="6" ry="44" fill="url(#gg)" opacity="0.053"/><ellipse class="p" cx="1232" cy="770" rx="6" ry="44" fill="url(#gg)" opacity="0.059"/><ellipse class="p" cx="1247" cy="767" rx="6" ry="44" fill="url(#gg)" opacity="0.046"/><ellipse class="p" cx="1260" cy="769" rx="6" ry="44" fill="url(#gg)" opacity="0.070"/><ellipse class="p" cx="1273" cy="767" rx="6" ry="44" fill="url(#gg)" opacity="0.039"/><ellipse class="p" cx="1288" cy="769" rx="6" ry="44" fill="url(#gg)" opacity="0.039"/><ellipse class="p" cx="1301" cy="765" rx="6" ry="44" fill="url(#gg)" opacity="0.049"/><ellipse class="p" cx="1316" cy="766" rx="6" ry="44" fill="url(#gg)" opacity="0.064"/><ellipse class="p" cx="1331" cy="764" rx="6" ry="44" fill="url(#gg)" opacity="0.060"/><ellipse class="p" cx="1347" cy="765" rx="6" ry="44" fill="url(#gg)" opacity="0.048"/><ellipse class="p" cx="1361" cy="764" rx="6" ry="44" fill="url(#gg)" opacity="0.045"/><ellipse class="p" cx="1377" cy="769" rx="6" ry="44" fill="url(#gg)" opacity="0.037"/><ellipse class="p" cx="1389" cy="770" rx="6" ry="44" fill="url(#gg)" opacity="0.057"/><ellipse class="p" cx="1403" cy="767" rx="6" ry="44" fill="url(#gg)" opacity="0.044"/><ellipse class="p" cx="1417" cy="764" rx="6" ry="44" fill="url(#gg)" opacity="0.041"/><ellipse class="p" cx="1431" cy="765" rx="6" ry="44" fill="url(#gg)" opacity="0.034"/><ellipse class="p" cx="1445" cy="764" rx="6" ry="44" fill="url(#gg)" opacity="0.054"/><ellipse class="p" cx="1458" cy="768" rx="6" ry="44" fill="url(#gg)" opacity="0.062"/><ellipse class="p" cx="1472" cy="765" rx="6" ry="44" fill="url(#gg)" opacity="0.060"/><ellipse class="p" cx="1487" cy="768" rx="6" ry="44" fill="url(#gg)" opacity="0.043"/><ellipse class="p" cx="1502" cy="767" rx="6" ry="44" fill="url(#gg)" opacity="0.069"/><ellipse class="p" cx="196" cy="803" rx="10" ry="61" fill="url(#gg)" opacity="0.069"/><ellipse class="p" cx="223" cy="805" rx="10" ry="61" fill="url(#gg)" opacity="0.080"/><ellipse class="p" cx="252" cy="801" rx="10" ry="61" fill="url(#gg)" opacity="0.084"/><ellipse class="p" cx="275" cy="802" rx="10" ry="61" fill="url(#gg)" opacity="0.054"/><ellipse class="p" cx="299" cy="800" rx="10" ry="61" fill="url(#gg)" opacity="0.041"/><ellipse class="p" cx="322" cy="800" rx="10" ry="61" fill="url(#gg)" opacity="0.083"/><ellipse class="p" cx="349" cy="799" rx="10" ry="61" fill="url(#gg)" opacity="0.062"/><ellipse class="p" cx="375" cy="802" rx="10" ry="61" fill="url(#gg)" opacity="0.087"/><ellipse class="p" cx="400" cy="800" rx="10" ry="61" fill="url(#gg)" opacity="0.078"/><ellipse class="p" cx="427" cy="800" rx="10" ry="61" fill="url(#gg)" opacity="0.072"/><ellipse class="p" cx="452" cy="799" rx="10" ry="61" fill="url(#gg)" opacity="0.042"/><ellipse class="p" cx="480" cy="802" rx="10" ry="61" fill="url(#gg)" opacity="0.059"/><ellipse class="p" cx="505" cy="805" rx="10" ry="61" fill="url(#gg)" opacity="0.052"/><ellipse class="p" cx="531" cy="800" rx="10" ry="61" fill="url(#gg)" opacity="0.070"/><ellipse class="p" cx="555" cy="801" rx="10" ry="61" fill="url(#gg)" opacity="0.077"/><ellipse class="p" cx="585" cy="806" rx="10" ry="61" fill="url(#gg)" opacity="0.075"/><ellipse class="p" cx="610" cy="801" rx="10" ry="61" fill="url(#gg)" opacity="0.051"/><ellipse class="p" cx="637" cy="800" rx="10" ry="61" fill="url(#gg)" opacity="0.079"/><ellipse class="p" cx="663" cy="805" rx="10" ry="61" fill="url(#gg)" opacity="0.049"/><ellipse class="p" cx="689" cy="804" rx="10" ry="61" fill="url(#gg)" opacity="0.086"/><ellipse class="p" cx="718" cy="799" rx="10" ry="61" fill="url(#gg)" opacity="0.085"/><ellipse class="p" cx="745" cy="806" rx="10" ry="61" fill="url(#gg)" opacity="0.060"/><ellipse class="p" cx="772" cy="799" rx="10" ry="61" fill="url(#gg)" opacity="0.041"/><ellipse class="p" cx="797" cy="799" rx="10" ry="61" fill="url(#gg)" opacity="0.083"/><ellipse class="p" cx="822" cy="799" rx="10" ry="61" fill="url(#gg)" opacity="0.066"/><ellipse class="p" cx="849" cy="802" rx="10" ry="61" fill="url(#gg)" opacity="0.047"/><ellipse class="p" cx="876" cy="804" rx="10" ry="61" fill="url(#gg)" opacity="0.066"/><ellipse class="p" cx="903" cy="799" rx="10" ry="61" fill="url(#gg)" opacity="0.058"/><ellipse class="p" cx="926" cy="802" rx="10" ry="61" fill="url(#gg)" opacity="0.090"/><ellipse class="p" cx="953" cy="799" rx="10" ry="61" fill="url(#gg)" opacity="0.051"/><ellipse class="p" cx="979" cy="802" rx="10" ry="61" fill="url(#gg)" opacity="0.083"/><ellipse class="p" cx="1003" cy="804" rx="10" ry="61" fill="url(#gg)" opacity="0.047"/><ellipse class="p" cx="1029" cy="804" rx="10" ry="61" fill="url(#gg)" opacity="0.045"/><ellipse class="p" cx="1057" cy="800" rx="10" ry="61" fill="url(#gg)" opacity="0.079"/><ellipse class="p" cx="1085" cy="805" rx="10" ry="61" fill="url(#gg)" opacity="0.059"/><ellipse class="p" cx="1113" cy="805" rx="10" ry="61" fill="url(#gg)" opacity="0.081"/><ellipse class="p" cx="1139" cy="804" rx="10" ry="61" fill="url(#gg)" opacity="0.087"/><ellipse class="p" cx="1166" cy="805" rx="10" ry="61" fill="url(#gg)" opacity="0.069"/><ellipse class="p" cx="1194" cy="802" rx="10" ry="61" fill="url(#gg)" opacity="0.072"/><ellipse class="p" cx="1218" cy="801" rx="10" ry="61" fill="url(#gg)" opacity="0.072"/><ellipse class="p" cx="1243" cy="800" rx="10" ry="61" fill="url(#gg)" opacity="0.081"/><ellipse class="p" cx="1271" cy="803" rx="10" ry="61" fill="url(#gg)" opacity="0.062"/><ellipse class="p" cx="1296" cy="802" rx="10" ry="61" fill="url(#gg)" opacity="0.086"/><ellipse class="p" cx="1323" cy="800" rx="10" ry="61" fill="url(#gg)" opacity="0.076"/><ellipse class="p" cx="1348" cy="806" rx="10" ry="61" fill="url(#gg)" opacity="0.082"/><ellipse class="p" cx="1371" cy="805" rx="10" ry="61" fill="url(#gg)" opacity="0.051"/><ellipse class="p" cx="1399" cy="804" rx="10" ry="61" fill="url(#gg)" opacity="0.066"/><ellipse class="p" cx="1425" cy="804" rx="10" ry="61" fill="url(#gg)" opacity="0.077"/><ellipse class="p" cx="1452" cy="802" rx="10" ry="61" fill="url(#gg)" opacity="0.082"/><ellipse class="p" cx="1480" cy="801" rx="10" ry="61" fill="url(#gg)" opacity="0.077"/><ellipse class="p" cx="218" cy="840" rx="18" ry="70" fill="url(#gg)" opacity="0.061"/><ellipse class="p" cx="261" cy="841" rx="18" ry="70" fill="url(#gg)" opacity="0.093"/><ellipse class="p" cx="298" cy="841" rx="18" ry="70" fill="url(#gg)" opacity="0.070"/><ellipse class="p" cx="338" cy="846" rx="18" ry="70" fill="url(#gg)" opacity="0.095"/><ellipse class="p" cx="380" cy="844" rx="18" ry="70" fill="url(#gg)" opacity="0.089"/><ellipse class="p" cx="422" cy="839" rx="18" ry="70" fill="url(#gg)" opacity="0.065"/><ellipse class="p" cx="469" cy="839" rx="18" ry="70" fill="url(#gg)" opacity="0.099"/><ellipse class="p" cx="505" cy="839" rx="18" ry="70" fill="url(#gg)" opacity="0.063"/><ellipse class="p" cx="545" cy="845" rx="18" ry="70" fill="url(#gg)" opacity="0.051"/><ellipse class="p" cx="590" cy="839" rx="18" ry="70" fill="url(#gg)" opacity="0.084"/><ellipse class="p" cx="631" cy="840" rx="18" ry="70" fill="url(#gg)" opacity="0.056"/><ellipse class="p" cx="677" cy="842" rx="18" ry="70" fill="url(#gg)" opacity="0.054"/><ellipse class="p" cx="718" cy="839" rx="18" ry="70" fill="url(#gg)" opacity="0.067"/><ellipse class="p" cx="764" cy="841" rx="18" ry="70" fill="url(#gg)" opacity="0.063"/><ellipse class="p" cx="804" cy="841" rx="18" ry="70" fill="url(#gg)" opacity="0.090"/><ellipse class="p" cx="843" cy="841" rx="18" ry="70" fill="url(#gg)" opacity="0.047"/><ellipse class="p" cx="886" cy="840" rx="18" ry="70" fill="url(#gg)" opacity="0.087"/><ellipse class="p" cx="926" cy="841" rx="18" ry="70" fill="url(#gg)" opacity="0.087"/><ellipse class="p" cx="969" cy="841" rx="18" ry="70" fill="url(#gg)" opacity="0.076"/><ellipse class="p" cx="1011" cy="846" rx="18" ry="70" fill="url(#gg)" opacity="0.088"/><ellipse class="p" cx="1052" cy="842" rx="18" ry="70" fill="url(#gg)" opacity="0.058"/><ellipse class="p" cx="1088" cy="842" rx="18" ry="70" fill="url(#gg)" opacity="0.054"/><ellipse class="p" cx="1134" cy="842" rx="18" ry="70" fill="url(#gg)" opacity="0.090"/><ellipse class="p" cx="1178" cy="842" rx="18" ry="70" fill="url(#gg)" opacity="0.061"/><ellipse class="p" cx="1220" cy="841" rx="18" ry="70" fill="url(#gg)" opacity="0.063"/><ellipse class="p" cx="1259" cy="844" rx="18" ry="70" fill="url(#gg)" opacity="0.096"/><ellipse class="p" cx="1303" cy="841" rx="18" ry="70" fill="url(#gg)" opacity="0.050"/><ellipse class="p" cx="1344" cy="840" rx="18" ry="70" fill="url(#gg)" opacity="0.089"/><ellipse class="p" cx="1386" cy="844" rx="18" ry="70" fill="url(#gg)" opacity="0.086"/><ellipse class="p" cx="1427" cy="838" rx="18" ry="70" fill="url(#gg)" opacity="0.046"/><ellipse class="p" cx="1474" cy="845" rx="18" ry="70" fill="url(#gg)" opacity="0.055"/><ellipse class="p" cx="480" cy="1043" rx="368" ry="49" fill="url(#gg)" opacity="0.360" transform="rotate(-2 480 1043)"/><ellipse class="p" cx="300" cy="1040" rx="105" ry="32" fill="url(#gg)" opacity="0.120" transform="rotate(-8 300 1040)"/><ellipse class="p" cx="560" cy="1010" rx="105" ry="32" fill="url(#gg)" opacity="0.080"/><ellipse class="p" cx="1030" cy="1012" rx="70" ry="38" fill="url(#gg)" opacity="0.120"/><ellipse class="p" cx="1265" cy="1043" rx="350" ry="46" fill="url(#gg)" opacity="0.360" transform="rotate(5 1265 1043)"/><ellipse class="p" cx="1100" cy="1020" rx="88" ry="32" fill="url(#gg)" opacity="0.080"/><ellipse class="p" cx="380" cy="1080" rx="420" ry="24" fill="url(#gg)" opacity="0.180"/><ellipse class="p" cx="1360" cy="1080" rx="298" ry="24" fill="url(#gg)" opacity="0.180"/><ellipse class="p" cx="215" cy="958" rx="102" ry="46" fill="url(#gg)" opacity="0.260" transform="rotate(-15 215 958)"/><ellipse class="p" cx="268" cy="905" rx="61" ry="31" fill="url(#gg)" opacity="0.100" transform="rotate(-30 268 905)"/><ellipse class="p" cx="468" cy="961" rx="77" ry="35" fill="url(#gg)" opacity="0.360"/><ellipse class="p" cx="737" cy="964" rx="79" ry="28" fill="url(#gg)" opacity="0.330"/><ellipse class="p" cx="1011" cy="964" rx="80" ry="26" fill="url(#gg)" opacity="0.230"/><ellipse class="p" cx="1236" cy="947" rx="105" ry="44" fill="url(#gg)" opacity="0.090"/><ellipse class="p" cx="1050" cy="940" rx="44" ry="44" fill="url(#gg)" opacity="0.100"/><ellipse class="p" cx="800" cy="930" rx="175" ry="21" fill="url(#gg)" opacity="0.050"/><ellipse class="p" cx="204" cy="872" rx="39" ry="39" fill="url(#gg)" opacity="0.130"/><ellipse class="p" cx="290" cy="877" rx="28" ry="44" fill="url(#gg)" opacity="0.300" transform="rotate(10 290 877)"/><ellipse class="p" cx="310" cy="825" rx="14" ry="56" fill="url(#gg)" opacity="0.330" transform="rotate(12 310 825)"/><ellipse class="p" cx="386" cy="895" rx="33" ry="39" fill="url(#gg)" opacity="0.330"/><ellipse class="p" cx="366" cy="845" rx="14" ry="79" fill="url(#gg)" opacity="0.220" transform="rotate(20 366 845)"/><ellipse class="p" cx="502" cy="902" rx="39" ry="26" fill="url(#gg)" opacity="0.200"/><ellipse class="p" cx="614" cy="900" rx="35" ry="31" fill="url(#gg)" opacity="0.130"/><ellipse class="p" cx="725" cy="865" rx="26" ry="55" fill="url(#gg)" opacity="0.130"/><ellipse class="p" cx="787" cy="831" rx="14" ry="52" fill="url(#gg)" opacity="0.280" transform="rotate(8 787 831)"/><ellipse class="p" cx="834" cy="827" rx="14" ry="52" fill="url(#gg)" opacity="0.300" transform="rotate(-8 834 827)"/><ellipse class="p" cx="812" cy="877" rx="33" ry="33" fill="url(#gg)" opacity="0.100"/><ellipse class="p" cx="897" cy="877" rx="31" ry="33" fill="url(#gg)" opacity="0.100"/><ellipse class="p" cx="1029" cy="904" rx="44" ry="33" fill="url(#gg)" opacity="0.100"/><ellipse class="p" cx="1231" cy="878" rx="26" ry="44" fill="url(#gg)" opacity="0.100"/><ellipse class="p" cx="1321" cy="885" rx="26" ry="39" fill="url(#gg)" opacity="0.110"/><ellipse class="p" cx="1444" cy="906" rx="44" ry="52" fill="url(#gg)" opacity="0.130"/><rect x="162" y="742" width="1341.5" height="346.5" fill="#fff" class="d"/></g></g><line x1="162" y1="1063.0" x2="1503.5" y2="1063.0" stroke="#f4fff4" stroke-width="5" stroke-dasharray="13 13" opacity=".9"/><rect x="162" y="742" width="1341.5" height="346.5" fill="none" stroke="#3a5a3a" stroke-width="2.5"/><path d="M272.5 1088.5v-10M272.5 742v10M433.5 1088.5v-10M433.5 742v10M594.5 1088.5v-10M594.5 742v10M755.5 1088.5v-10M755.5 742v10M916.5 1088.5v-10M916.5 742v10M1077.5 1088.5v-10M1077.5 742v10M1238.5 1088.5v-10M1238.5 742v10M1399.5 1088.5v-10M1399.5 742v10M162 926.5h10M1503.5 926.5h-10M162 1009.5h10M1503.5 1009.5h-10M162 1063.0h10M1503.5 1063.0h-10" stroke="#2a3a2a" stroke-width="2.5" fill="none"/><text x="137.0" y="943.0" font-size="47" fill="#333" stroke="#333" text-anchor="end">1</text><text x="137.0" y="1026.0" font-size="47" fill="#333" stroke="#333" text-anchor="end">3</text><text x="137.0" y="1084.0" font-size="47" fill="#333" stroke="#333" text-anchor="end">6</text><text x="174" y="803.0" font-size="54" fill="#0b5e15" stroke="#0b5e15">(b)</text><clipPath id="cs1"><rect x="162" y="1141.5" width="1341.5" height="346.5"/></clipPath><g clip-path="url(#cs1)"><g filter="url(#jet)"><rect x="162" y="1141.5" width="1341.5" height="346.5" fill="#808080"/><ellipse class="p" cx="175" cy="1169" rx="6" ry="44" fill="url(#gg)" opacity="0.039"/><ellipse class="p" cx="190" cy="1170" rx="6" ry="44" fill="url(#gg)" opacity="0.039"/><ellipse class="p" cx="204" cy="1170" rx="6" ry="44" fill="url(#gg)" opacity="0.028"/><ellipse class="p" cx="218" cy="1167" rx="6" ry="44" fill="url(#gg)" opacity="0.038"/><ellipse class="p" cx="233" cy="1168" rx="6" ry="44" fill="url(#gg)" opacity="0.054"/><ellipse class="p" cx="246" cy="1170" rx="6" ry="44" fill="url(#gg)" opacity="0.046"/><ellipse class="p" cx="261" cy="1168" rx="6" ry="44" fill="url(#gg)" opacity="0.057"/><ellipse class="p" cx="274" cy="1163" rx="6" ry="44" fill="url(#gg)" opacity="0.035"/><ellipse class="p" cx="287" cy="1167" rx="6" ry="44" fill="url(#gg)" opacity="0.046"/><ellipse class="p" cx="301" cy="1170" rx="6" ry="44" fill="url(#gg)" opacity="0.048"/><ellipse class="p" cx="314" cy="1163" rx="6" ry="44" fill="url(#gg)" opacity="0.028"/><ellipse class="p" cx="328" cy="1165" rx="6" ry="44" fill="url(#gg)" opacity="0.048"/><ellipse class="p" cx="342" cy="1165" rx="6" ry="44" fill="url(#gg)" opacity="0.052"/><ellipse class="p" cx="356" cy="1166" rx="6" ry="44" fill="url(#gg)" opacity="0.056"/><ellipse class="p" cx="371" cy="1163" rx="6" ry="44" fill="url(#gg)" opacity="0.047"/><ellipse class="p" cx="386" cy="1163" rx="6" ry="44" fill="url(#gg)" opacity="0.042"/><ellipse class="p" cx="399" cy="1170" rx="6" ry="44" fill="url(#gg)" opacity="0.033"/><ellipse class="p" cx="413" cy="1167" rx="6" ry="44" fill="url(#gg)" opacity="0.032"/><ellipse class="p" cx="427" cy="1170" rx="6" ry="44" fill="url(#gg)" opacity="0.029"/><ellipse class="p" cx="440" cy="1163" rx="6" ry="44" fill="url(#gg)" opacity="0.038"/><ellipse class="p" cx="456" cy="1165" rx="6" ry="44" fill="url(#gg)" opacity="0.039"/><ellipse class="p" cx="470" cy="1163" rx="6" ry="44" fill="url(#gg)" opacity="0.050"/><ellipse class="p" cx="483" cy="1163" rx="6" ry="44" fill="url(#gg)" opacity="0.037"/><ellipse class="p" cx="498" cy="1165" rx="6" ry="44" fill="url(#gg)" opacity="0.047"/><ellipse class="p" cx="513" cy="1168" rx="6" ry="44" fill="url(#gg)" opacity="0.039"/><ellipse class="p" cx="528" cy="1164" rx="6" ry="44" fill="url(#gg)" opacity="0.054"/><ellipse class="p" cx="541" cy="1165" rx="6" ry="44" fill="url(#gg)" opacity="0.030"/><ellipse class="p" cx="555" cy="1165" rx="6" ry="44" fill="url(#gg)" opacity="0.043"/><ellipse class="p" cx="569" cy="1168" rx="6" ry="44" fill="url(#gg)" opacity="0.034"/><ellipse class="p" cx="585" cy="1163" rx="6" ry="44" fill="url(#gg)" opacity="0.039"/><ellipse class="p" cx="598" cy="1163" rx="6" ry="44" fill="url(#gg)" opacity="0.053"/><ellipse class="p" cx="611" cy="1164" rx="6" ry="44" fill="url(#gg)" opacity="0.035"/><ellipse class="p" cx="625" cy="1163" rx="6" ry="44" fill="url(#gg)" opacity="0.059"/><ellipse class="p" cx="641" cy="1166" rx="6" ry="44" fill="url(#gg)" opacity="0.043"/><ellipse class="p" cx="655" cy="1170" rx="6" ry="44" fill="url(#gg)" opacity="0.043"/><ellipse class="p" cx="669" cy="1167" rx="6" ry="44" fill="url(#gg)" opacity="0.044"/><ellipse class="p" cx="684" cy="1169" rx="6" ry="44" fill="url(#gg)" opacity="0.044"/><ellipse class="p" cx="699" cy="1166" rx="6" ry="44" fill="url(#gg)" opacity="0.037"/><ellipse class="p" cx="713" cy="1164" rx="6" ry="44" fill="url(#gg)" opacity="0.055"/><ellipse class="p" cx="725" cy="1163" rx="6" ry="44" fill="url(#gg)" opacity="0.057"/><ellipse class="p" cx="739" cy="1170" rx="6" ry="44" fill="url(#gg)" opacity="0.044"/><ellipse class="p" cx="753" cy="1163" rx="6" ry="44" fill="url(#gg)" opacity="0.058"/><ellipse class="p" cx="767" cy="1163" rx="6" ry="44" fill="url(#gg)" opacity="0.043"/><ellipse class="p" cx="780" cy="1164" rx="6" ry="44" fill="url(#gg)" opacity="0.053"/><ellipse class="p" cx="793" cy="1167" rx="6" ry="44" fill="url(#gg)" opacity="0.059"/><ellipse class="p" cx="806" cy="1163" rx="6" ry="44" fill="url(#gg)" opacity="0.028"/><ellipse class="p" cx="818" cy="1169" rx="6" ry="44" fill="url(#gg)" opacity="0.058"/><ellipse class="p" cx="832" cy="1165" rx="6" ry="44" fill="url(#gg)" opacity="0.031"/><ellipse class="p" cx="846" cy="1166" rx="6" ry="44" fill="url(#gg)" opacity="0.039"/><ellipse class="p" cx="858" cy="1168" rx="6" ry="44" fill="url(#gg)" opacity="0.039"/><ellipse class="p" cx="872" cy="1165" rx="6" ry="44" fill="url(#gg)" opacity="0.048"/><ellipse class="p" cx="886" cy="1166" rx="6" ry="44" fill="url(#gg)" opacity="0.053"/><ellipse class="p" cx="899" cy="1163" rx="6" ry="44" fill="url(#gg)" opacity="0.028"/><ellipse class="p" cx="913" cy="1163" rx="6" ry="44" fill="url(#gg)" opacity="0.046"/><ellipse class="p" cx="928" cy="1170" rx="6" ry="44" fill="url(#gg)" opacity="0.037"/><ellipse class="p" cx="942" cy="1167" rx="6" ry="44" fill="url(#gg)" opacity="0.029"/><ellipse class="p" cx="956" cy="1169" rx="6" ry="44" fill="url(#gg)" opacity="0.044"/><ellipse class="p" cx="971" cy="1170" rx="6" ry="44" fill="url(#gg)" opacity="0.042"/><ellipse class="p" cx="984" cy="1164" rx="6" ry="44" fill="url(#gg)" opacity="0.054"/><ellipse class="p" cx="998" cy="1169" rx="6" ry="44" fill="url(#gg)" opacity="0.028"/><ellipse class="p" cx="1011" cy="1170" rx="6" ry="44" fill="url(#gg)" opacity="0.053"/><ellipse class="p" cx="1023" cy="1164" rx="6" ry="44" fill="url(#gg)" opacity="0.060"/><ellipse class="p" cx="1038" cy="1163" rx="6" ry="44" fill="url(#gg)" opacity="0.029"/><ellipse class="p" cx="1051" cy="1164" rx="6" ry="44" fill="url(#gg)" opacity="0.036"/><ellipse class="p" cx="1064" cy="1164" rx="6" ry="44" fill="url(#gg)" opacity="0.044"/><ellipse class="p" cx="1078" cy="1167" rx="6" ry="44" fill="url(#gg)" opacity="0.051"/><ellipse class="p" cx="1090" cy="1170" rx="6" ry="44" fill="url(#gg)" opacity="0.040"/><ellipse class="p" cx="1104" cy="1169" rx="6" ry="44" fill="url(#gg)" opacity="0.058"/><ellipse class="p" cx="1116" cy="1164" rx="6" ry="44" fill="url(#gg)" opacity="0.044"/><ellipse class="p" cx="1130" cy="1169" rx="6" ry="44" fill="url(#gg)" opacity="0.030"/><ellipse class="p" cx="1144" cy="1167" rx="6" ry="44" fill="url(#gg)" opacity="0.035"/><ellipse class="p" cx="1158" cy="1167" rx="6" ry="44" fill="url(#gg)" opacity="0.055"/><ellipse class="p" cx="1172" cy="1166" rx="6" ry="44" fill="url(#gg)" opacity="0.039"/><ellipse class="p" cx="1184" cy="1165" rx="6" ry="44" fill="url(#gg)" opacity="0.050"/><ellipse class="p" cx="1198" cy="1170" rx="6" ry="44" fill="url(#gg)" opacity="0.048"/><ellipse class="p" cx="1212" cy="1170" rx="6" ry="44" fill="url(#gg)" opacity="0.038"/><ellipse class="p" cx="1228" cy="1167" rx="6" ry="44" fill="url(#gg)" opacity="0.057"/><ellipse class="p" cx="1243" cy="1170" rx="6" ry="44" fill="url(#gg)" opacity="0.032"/><ellipse class="p" cx="1257" cy="1169" rx="6" ry="44" fill="url(#gg)" opacity="0.052"/><ellipse class="p" cx="1272" cy="1164" rx="6" ry="44" fill="url(#gg)" opacity="0.055"/><ellipse class="p" cx="1287" cy="1163" rx="6" ry="44" fill="url(#gg)" opacity="0.038"/><ellipse class="p" cx="1299" cy="1166" rx="6" ry="44" fill="url(#gg)" opacity="0.048"/><ellipse class="p" cx="1313" cy="1167" rx="6" ry="44" fill="url(#gg)" opacity="0.031"/><ellipse class="p" cx="1327" cy="1163" rx="6" ry="44" fill="url(#gg)" opacity="0.057"/><ellipse class="p" cx="1340" cy="1167" rx="6" ry="44" fill="url(#gg)" opacity="0.057"/><ellipse class="p" cx="1354" cy="1165" rx="6" ry="44" fill="url(#gg)" opacity="0.040"/><ellipse class="p" cx="1366" cy="1164" rx="6" ry="44" fill="url(#gg)" opacity="0.060"/><ellipse class="p" cx="1380" cy="1169" rx="6" ry="44" fill="url(#gg)" opacity="0.037"/><ellipse class="p" cx="1393" cy="1167" rx="6" ry="44" fill="url(#gg)" opacity="0.030"/><ellipse class="p" cx="1407" cy="1168" rx="6" ry="44" fill="url(#gg)" opacity="0.033"/><ellipse class="p" cx="1421" cy="1169" rx="6" ry="44" fill="url(#gg)" opacity="0.031"/><ellipse class="p" cx="1436" cy="1166" rx="6" ry="44" fill="url(#gg)" opacity="0.057"/><ellipse class="p" cx="1448" cy="1170" rx="6" ry="44" fill="url(#gg)" opacity="0.039"/><ellipse class="p" cx="1461" cy="1164" rx="6" ry="44" fill="url(#gg)" opacity="0.054"/><ellipse class="p" cx="1475" cy="1164" rx="6" ry="44" fill="url(#gg)" opacity="0.035"/><ellipse class="p" cx="1488" cy="1170" rx="6" ry="44" fill="url(#gg)" opacity="0.058"/><ellipse class="p" cx="1502" cy="1168" rx="6" ry="44" fill="url(#gg)" opacity="0.039"/><ellipse class="p" cx="166" cy="1203" rx="10" ry="61" fill="url(#gg)" opacity="0.049"/><ellipse class="p" cx="194" cy="1204" rx="10" ry="61" fill="url(#gg)" opacity="0.037"/><ellipse class="p" cx="221" cy="1205" rx="10" ry="61" fill="url(#gg)" opacity="0.063"/><ellipse class="p" cx="248" cy="1199" rx="10" ry="61" fill="url(#gg)" opacity="0.066"/><ellipse class="p" cx="275" cy="1200" rx="10" ry="61" fill="url(#gg)" opacity="0.074"/><ellipse class="p" cx="301" cy="1203" rx="10" ry="61" fill="url(#gg)" opacity="0.075"/><ellipse class="p" cx="327" cy="1201" rx="10" ry="61" fill="url(#gg)" opacity="0.068"/><ellipse class="p" cx="354" cy="1205" rx="10" ry="61" fill="url(#gg)" opacity="0.061"/><ellipse class="p" cx="379" cy="1201" rx="10" ry="61" fill="url(#gg)" opacity="0.038"/><ellipse class="p" cx="405" cy="1202" rx="10" ry="61" fill="url(#gg)" opacity="0.059"/><ellipse class="p" cx="428" cy="1204" rx="10" ry="61" fill="url(#gg)" opacity="0.037"/><ellipse class="p" cx="454" cy="1202" rx="10" ry="61" fill="url(#gg)" opacity="0.061"/><ellipse class="p" cx="479" cy="1198" rx="10" ry="61" fill="url(#gg)" opacity="0.052"/><ellipse class="p" cx="502" cy="1204" rx="10" ry="61" fill="url(#gg)" opacity="0.064"/><ellipse class="p" cx="529" cy="1201" rx="10" ry="61" fill="url(#gg)" opacity="0.072"/><ellipse class="p" cx="553" cy="1204" rx="10" ry="61" fill="url(#gg)" opacity="0.069"/><ellipse class="p" cx="578" cy="1200" rx="10" ry="61" fill="url(#gg)" opacity="0.049"/><ellipse class="p" cx="605" cy="1200" rx="10" ry="61" fill="url(#gg)" opacity="0.040"/><ellipse class="p" cx="631" cy="1201" rx="10" ry="61" fill="url(#gg)" opacity="0.072"/><ellipse class="p" cx="655" cy="1204" rx="10" ry="61" fill="url(#gg)" opacity="0.069"/><ellipse class="p" cx="680" cy="1203" rx="10" ry="61" fill="url(#gg)" opacity="0.047"/><ellipse class="p" cx="705" cy="1200" rx="10" ry="61" fill="url(#gg)" opacity="0.071"/><ellipse class="p" cx="732" cy="1201" rx="10" ry="61" fill="url(#gg)" opacity="0.045"/><ellipse class="p" cx="757" cy="1202" rx="10" ry="61" fill="url(#gg)" opacity="0.043"/><ellipse class="p" cx="786" cy="1204" rx="10" ry="61" fill="url(#gg)" opacity="0.079"/><ellipse class="p" cx="813" cy="1201" rx="10" ry="61" fill="url(#gg)" opacity="0.038"/><ellipse class="p" cx="839" cy="1202" rx="10" ry="61" fill="url(#gg)" opacity="0.067"/><ellipse class="p" cx="864" cy="1199" rx="10" ry="61" fill="url(#gg)" opacity="0.068"/><ellipse class="p" cx="891" cy="1199" rx="10" ry="61" fill="url(#gg)" opacity="0.075"/><ellipse class="p" cx="916" cy="1199" rx="10" ry="61" fill="url(#gg)" opacity="0.053"/><ellipse class="p" cx="943" cy="1204" rx="10" ry="61" fill="url(#gg)" opacity="0.058"/><ellipse class="p" cx="967" cy="1203" rx="10" ry="61" fill="url(#gg)" opacity="0.076"/><ellipse class="p" cx="993" cy="1205" rx="10" ry="61" fill="url(#gg)" opacity="0.067"/><ellipse class="p" cx="1017" cy="1198" rx="10" ry="61" fill="url(#gg)" opacity="0.039"/><ellipse class="p" cx="1046" cy="1199" rx="10" ry="61" fill="url(#gg)" opacity="0.054"/><ellipse class="p" cx="1072" cy="1198" rx="10" ry="61" fill="url(#gg)" opacity="0.057"/><ellipse class="p" cx="1100" cy="1199" rx="10" ry="61" fill="url(#gg)" opacity="0.038"/><ellipse class="p" cx="1123" cy="1198" rx="10" ry="61" fill="url(#gg)" opacity="0.038"/><ellipse class="p" cx="1148" cy="1200" rx="10" ry="61" fill="url(#gg)" opacity="0.064"/><ellipse class="p" cx="1174" cy="1204" rx="10" ry="61" fill="url(#gg)" opacity="0.066"/><ellipse class="p" cx="1201" cy="1202" rx="10" ry="61" fill="url(#gg)" opacity="0.042"/><ellipse class="p" cx="1224" cy="1205" rx="10" ry="61" fill="url(#gg)" opacity="0.059"/><ellipse class="p" cx="1252" cy="1203" rx="10" ry="61" fill="url(#gg)" opacity="0.078"/><ellipse class="p" cx="1277" cy="1204" rx="10" ry="61" fill="url(#gg)" opacity="0.078"/><ellipse class="p" cx="1304" cy="1201" rx="10" ry="61" fill="url(#gg)" opacity="0.065"/><ellipse class="p" cx="1331" cy="1199" rx="10" ry="61" fill="url(#gg)" opacity="0.046"/><ellipse class="p" cx="1358" cy="1199" rx="10" ry="61" fill="url(#gg)" opacity="0.067"/><ellipse class="p" cx="1384" cy="1205" rx="10" ry="61" fill="url(#gg)" opacity="0.064"/><ellipse class="p" cx="1411" cy="1204" rx="10" ry="61" fill="url(#gg)" opacity="0.067"/><ellipse class="p" cx="1437" cy="1198" rx="10" ry="61" fill="url(#gg)" opacity="0.047"/><ellipse class="p" cx="1461" cy="1198" rx="10" ry="61" fill="url(#gg)" opacity="0.078"/><ellipse class="p" cx="1488" cy="1201" rx="10" ry="61" fill="url(#gg)" opacity="0.048"/><ellipse class="p" cx="198" cy="1238" rx="18" ry="70" fill="url(#gg)" opacity="0.052"/><ellipse class="p" cx="238" cy="1245" rx="18" ry="70" fill="url(#gg)" opacity="0.045"/><ellipse class="p" cx="281" cy="1238" rx="18" ry="70" fill="url(#gg)" opacity="0.070"/><ellipse class="p" cx="326" cy="1244" rx="18" ry="70" fill="url(#gg)" opacity="0.055"/><ellipse class="p" cx="372" cy="1242" rx="18" ry="70" fill="url(#gg)" opacity="0.041"/><ellipse class="p" cx="411" cy="1244" rx="18" ry="70" fill="url(#gg)" opacity="0.042"/><ellipse class="p" cx="454" cy="1240" rx="18" ry="70" fill="url(#gg)" opacity="0.037"/><ellipse class="p" cx="500" cy="1245" rx="18" ry="70" fill="url(#gg)" opacity="0.046"/><ellipse class="p" cx="538" cy="1242" rx="18" ry="70" fill="url(#gg)" opacity="0.075"/><ellipse class="p" cx="581" cy="1238" rx="18" ry="70" fill="url(#gg)" opacity="0.044"/><ellipse class="p" cx="620" cy="1238" rx="18" ry="70" fill="url(#gg)" opacity="0.068"/><ellipse class="p" cx="664" cy="1242" rx="18" ry="70" fill="url(#gg)" opacity="0.047"/><ellipse class="p" cx="708" cy="1241" rx="18" ry="70" fill="url(#gg)" opacity="0.050"/><ellipse class="p" cx="753" cy="1238" rx="18" ry="70" fill="url(#gg)" opacity="0.063"/><ellipse class="p" cx="794" cy="1242" rx="18" ry="70" fill="url(#gg)" opacity="0.066"/><ellipse class="p" cx="835" cy="1244" rx="18" ry="70" fill="url(#gg)" opacity="0.057"/><ellipse class="p" cx="876" cy="1240" rx="18" ry="70" fill="url(#gg)" opacity="0.077"/><ellipse class="p" cx="919" cy="1238" rx="18" ry="70" fill="url(#gg)" opacity="0.074"/><ellipse class="p" cx="965" cy="1243" rx="18" ry="70" fill="url(#gg)" opacity="0.044"/><ellipse class="p" cx="1006" cy="1240" rx="18" ry="70" fill="url(#gg)" opacity="0.040"/><ellipse class="p" cx="1047" cy="1245" rx="18" ry="70" fill="url(#gg)" opacity="0.069"/><ellipse class="p" cx="1091" cy="1242" rx="18" ry="70" fill="url(#gg)" opacity="0.039"/><ellipse class="p" cx="1129" cy="1238" rx="18" ry="70" fill="url(#gg)" opacity="0.045"/><ellipse class="p" cx="1170" cy="1242" rx="18" ry="70" fill="url(#gg)" opacity="0.072"/><ellipse class="p" cx="1207" cy="1245" rx="18" ry="70" fill="url(#gg)" opacity="0.055"/><ellipse class="p" cx="1254" cy="1242" rx="18" ry="70" fill="url(#gg)" opacity="0.051"/><ellipse class="p" cx="1297" cy="1240" rx="18" ry="70" fill="url(#gg)" opacity="0.045"/><ellipse class="p" cx="1338" cy="1245" rx="18" ry="70" fill="url(#gg)" opacity="0.066"/><ellipse class="p" cx="1377" cy="1242" rx="18" ry="70" fill="url(#gg)" opacity="0.045"/><ellipse class="p" cx="1421" cy="1239" rx="18" ry="70" fill="url(#gg)" opacity="0.040"/><ellipse class="p" cx="1463" cy="1239" rx="18" ry="70" fill="url(#gg)" opacity="0.058"/><ellipse class="p" cx="525" cy="1436" rx="262" ry="63" fill="url(#gg)" opacity="0.320" transform="rotate(-5 525 1436)"/><ellipse class="p" cx="418" cy="1372" rx="61" ry="18" fill="url(#gg)" opacity="0.180"/><ellipse class="p" cx="395" cy="1420" rx="70" ry="61" fill="url(#gg)" opacity="0.100"/><ellipse class="p" cx="420" cy="1476" rx="280" ry="21" fill="url(#gg)" opacity="0.130"/><ellipse class="p" cx="620" cy="1476" rx="140" ry="21" fill="url(#gg)" opacity="0.100"/><ellipse class="p" cx="1340" cy="1444" rx="350" ry="32" fill="url(#gg)" opacity="0.240" transform="rotate(3 1340 1444)"/><ellipse class="p" cx="1180" cy="1430" rx="70" ry="18" fill="url(#gg)" opacity="0.100"/><ellipse class="p" cx="1390" cy="1476" rx="210" ry="21" fill="url(#gg)" opacity="0.160"/><ellipse class="p" cx="1063" cy="1388" rx="70" ry="32" fill="url(#gg)" opacity="0.140"/><ellipse class="p" cx="1400" cy="1388" rx="140" ry="26" fill="url(#gg)" opacity="0.100"/><ellipse class="p" cx="714" cy="1366" rx="70" ry="21" fill="url(#gg)" opacity="0.160"/><ellipse class="p" cx="999" cy="1366" rx="70" ry="38" fill="url(#gg)" opacity="0.170"/><ellipse class="p" cx="1235" cy="1345" rx="61" ry="21" fill="url(#gg)" opacity="0.140"/><ellipse class="p" cx="1450" cy="1336" rx="52" ry="44" fill="url(#gg)" opacity="0.120"/><ellipse class="p" cx="714" cy="1318" rx="52" ry="26" fill="url(#gg)" opacity="0.100"/><ellipse class="p" cx="862" cy="1316" rx="52" ry="26" fill="url(#gg)" opacity="0.120"/><ellipse class="p" cx="1011" cy="1322" rx="52" ry="26" fill="url(#gg)" opacity="0.100"/><ellipse class="p" cx="300" cy="1330" rx="210" ry="26" fill="url(#gg)" opacity="0.080"/><ellipse class="p" cx="450" cy="1320" rx="105" ry="26" fill="url(#gg)" opacity="0.050"/><ellipse class="p" cx="212" cy="1263" rx="22" ry="44" fill="url(#gg)" opacity="0.180" transform="rotate(15 212 1263)"/><ellipse class="p" cx="286" cy="1270" rx="21" ry="61" fill="url(#gg)" opacity="0.250"/><ellipse class="p" cx="338" cy="1234" rx="13" ry="22" fill="url(#gg)" opacity="0.180"/><ellipse class="p" cx="388" cy="1276" rx="21" ry="52" fill="url(#gg)" opacity="0.220" transform="rotate(-10 388 1276)"/><ellipse class="p" cx="452" cy="1243" rx="22" ry="33" fill="url(#gg)" opacity="0.100"/><ellipse class="p" cx="484" cy="1288" rx="33" ry="22" fill="url(#gg)" opacity="0.120"/><ellipse class="p" cx="589" cy="1277" rx="33" ry="26" fill="url(#gg)" opacity="0.120"/><ellipse class="p" cx="548" cy="1214" rx="13" ry="37" fill="url(#gg)" opacity="0.120"/><ellipse class="p" cx="675" cy="1270" rx="26" ry="33" fill="url(#gg)" opacity="0.130"/><ellipse class="p" cx="753" cy="1260" rx="22" ry="55" fill="url(#gg)" opacity="0.220"/><ellipse class="p" cx="828" cy="1265" rx="26" ry="44" fill="url(#gg)" opacity="0.170"/><ellipse class="p" cx="1121" cy="1274" rx="26" ry="33" fill="url(#gg)" opacity="0.130"/><ellipse class="p" cx="1211" cy="1278" rx="31" ry="33" fill="url(#gg)" opacity="0.150"/><ellipse class="p" cx="1301" cy="1278" rx="26" ry="33" fill="url(#gg)" opacity="0.120"/><ellipse class="p" cx="1379" cy="1274" rx="26" ry="33" fill="url(#gg)" opacity="0.120"/><ellipse class="p" cx="1462" cy="1290" rx="33" ry="33" fill="url(#gg)" opacity="0.100"/><ellipse class="p" cx="1128" cy="1188" rx="11" ry="26" fill="url(#gg)" opacity="0.140"/><ellipse class="p" cx="940" cy="1265" rx="33" ry="33" fill="url(#gg)" opacity="0.120"/><ellipse class="p" cx="1050" cy="1270" rx="33" ry="33" fill="url(#gg)" opacity="0.100"/><rect x="162" y="1141.5" width="1341.5" height="346.5" fill="#fff" class="d"/><ellipse class="p" cx="182" cy="1170" rx="6" ry="44" fill="url(#gg)" opacity="0.037"/><ellipse class="p" cx="197" cy="1168" rx="6" ry="44" fill="url(#gg)" opacity="0.054"/><ellipse class="p" cx="211" cy="1165" rx="6" ry="44" fill="url(#gg)" opacity="0.040"/><ellipse class="p" cx="225" cy="1165" rx="6" ry="44" fill="url(#gg)" opacity="0.029"/><ellipse class="p" cx="239" cy="1169" rx="6" ry="44" fill="url(#gg)" opacity="0.059"/><ellipse class="p" cx="254" cy="1166" rx="6" ry="44" fill="url(#gg)" opacity="0.039"/><ellipse class="p" cx="267" cy="1163" rx="6" ry="44" fill="url(#gg)" opacity="0.042"/><ellipse class="p" cx="280" cy="1168" rx="6" ry="44" fill="url(#gg)" opacity="0.034"/><ellipse class="p" cx="295" cy="1169" rx="6" ry="44" fill="url(#gg)" opacity="0.042"/><ellipse class="p" cx="307" cy="1164" rx="6" ry="44" fill="url(#gg)" opacity="0.057"/><ellipse class="p" cx="320" cy="1169" rx="6" ry="44" fill="url(#gg)" opacity="0.057"/><ellipse class="p" cx="335" cy="1170" rx="6" ry="44" fill="url(#gg)" opacity="0.043"/><ellipse class="p" cx="350" cy="1170" rx="6" ry="44" fill="url(#gg)" opacity="0.055"/><ellipse class="p" cx="363" cy="1163" rx="6" ry="44" fill="url(#gg)" opacity="0.045"/><ellipse class="p" cx="378" cy="1166" rx="6" ry="44" fill="url(#gg)" opacity="0.031"/><ellipse class="p" cx="393" cy="1166" rx="6" ry="44" fill="url(#gg)" opacity="0.039"/><ellipse class="p" cx="406" cy="1169" rx="6" ry="44" fill="url(#gg)" opacity="0.046"/><ellipse class="p" cx="420" cy="1163" rx="6" ry="44" fill="url(#gg)" opacity="0.040"/><ellipse class="p" cx="434" cy="1167" rx="6" ry="44" fill="url(#gg)" opacity="0.051"/><ellipse class="p" cx="448" cy="1164" rx="6" ry="44" fill="url(#gg)" opacity="0.030"/><ellipse class="p" cx="463" cy="1165" rx="6" ry="44" fill="url(#gg)" opacity="0.036"/><ellipse class="p" cx="477" cy="1168" rx="6" ry="44" fill="url(#gg)" opacity="0.060"/><ellipse class="p" cx="491" cy="1170" rx="6" ry="44" fill="url(#gg)" opacity="0.057"/><ellipse class="p" cx="506" cy="1165" rx="6" ry="44" fill="url(#gg)" opacity="0.046"/><ellipse class="p" cx="520" cy="1170" rx="6" ry="44" fill="url(#gg)" opacity="0.030"/><ellipse class="p" cx="534" cy="1170" rx="6" ry="44" fill="url(#gg)" opacity="0.051"/><ellipse class="p" cx="548" cy="1164" rx="6" ry="44" fill="url(#gg)" opacity="0.054"/><ellipse class="p" cx="562" cy="1164" rx="6" ry="44" fill="url(#gg)" opacity="0.042"/><ellipse class="p" cx="577" cy="1164" rx="6" ry="44" fill="url(#gg)" opacity="0.047"/><ellipse class="p" cx="591" cy="1169" rx="6" ry="44" fill="url(#gg)" opacity="0.039"/><ellipse class="p" cx="605" cy="1163" rx="6" ry="44" fill="url(#gg)" opacity="0.051"/><ellipse class="p" cx="619" cy="1167" rx="6" ry="44" fill="url(#gg)" opacity="0.043"/><ellipse class="p" cx="633" cy="1170" rx="6" ry="44" fill="url(#gg)" opacity="0.045"/><ellipse class="p" cx="647" cy="1168" rx="6" ry="44" fill="url(#gg)" opacity="0.033"/><ellipse class="p" cx="662" cy="1170" rx="6" ry="44" fill="url(#gg)" opacity="0.036"/><ellipse class="p" cx="676" cy="1165" rx="6" ry="44" fill="url(#gg)" opacity="0.028"/><ellipse class="p" cx="690" cy="1167" rx="6" ry="44" fill="url(#gg)" opacity="0.051"/><ellipse class="p" cx="705" cy="1163" rx="6" ry="44" fill="url(#gg)" opacity="0.051"/><ellipse class="p" cx="719" cy="1170" rx="6" ry="44" fill="url(#gg)" opacity="0.038"/><ellipse class="p" cx="731" cy="1163" rx="6" ry="44" fill="url(#gg)" opacity="0.054"/><ellipse class="p" cx="746" cy="1168" rx="6" ry="44" fill="url(#gg)" opacity="0.059"/><ellipse class="p" cx="760" cy="1164" rx="6" ry="44" fill="url(#gg)" opacity="0.031"/><ellipse class="p" cx="774" cy="1165" rx="6" ry="44" fill="url(#gg)" opacity="0.045"/><ellipse class="p" cx="787" cy="1164" rx="6" ry="44" fill="url(#gg)" opacity="0.036"/><ellipse class="p" cx="800" cy="1163" rx="6" ry="44" fill="url(#gg)" opacity="0.056"/><ellipse class="p" cx="812" cy="1168" rx="6" ry="44" fill="url(#gg)" opacity="0.047"/><ellipse class="p" cx="826" cy="1167" rx="6" ry="44" fill="url(#gg)" opacity="0.052"/><ellipse class="p" cx="838" cy="1163" rx="6" ry="44" fill="url(#gg)" opacity="0.048"/><ellipse class="p" cx="852" cy="1169" rx="6" ry="44" fill="url(#gg)" opacity="0.051"/><ellipse class="p" cx="864" cy="1165" rx="6" ry="44" fill="url(#gg)" opacity="0.047"/><ellipse class="p" cx="878" cy="1165" rx="6" ry="44" fill="url(#gg)" opacity="0.040"/><ellipse class="p" cx="892" cy="1169" rx="6" ry="44" fill="url(#gg)" opacity="0.043"/><ellipse class="p" cx="906" cy="1166" rx="6" ry="44" fill="url(#gg)" opacity="0.055"/><ellipse class="p" cx="920" cy="1166" rx="6" ry="44" fill="url(#gg)" opacity="0.041"/><ellipse class="p" cx="935" cy="1168" rx="6" ry="44" fill="url(#gg)" opacity="0.043"/><ellipse class="p" cx="948" cy="1165" rx="6" ry="44" fill="url(#gg)" opacity="0.058"/><ellipse class="p" cx="963" cy="1170" rx="6" ry="44" fill="url(#gg)" opacity="0.034"/><ellipse class="p" cx="978" cy="1164" rx="6" ry="44" fill="url(#gg)" opacity="0.040"/><ellipse class="p" cx="991" cy="1166" rx="6" ry="44" fill="url(#gg)" opacity="0.048"/><ellipse class="p" cx="1004" cy="1163" rx="6" ry="44" fill="url(#gg)" opacity="0.041"/><ellipse class="p" cx="1017" cy="1168" rx="6" ry="44" fill="url(#gg)" opacity="0.037"/><ellipse class="p" cx="1030" cy="1168" rx="6" ry="44" fill="url(#gg)" opacity="0.051"/><ellipse class="p" cx="1044" cy="1166" rx="6" ry="44" fill="url(#gg)" opacity="0.057"/><ellipse class="p" cx="1057" cy="1163" rx="6" ry="44" fill="url(#gg)" opacity="0.052"/><ellipse class="p" cx="1071" cy="1169" rx="6" ry="44" fill="url(#gg)" opacity="0.028"/><ellipse class="p" cx="1084" cy="1170" rx="6" ry="44" fill="url(#gg)" opacity="0.050"/><ellipse class="p" cx="1098" cy="1164" rx="6" ry="44" fill="url(#gg)" opacity="0.031"/><ellipse class="p" cx="1110" cy="1164" rx="6" ry="44" fill="url(#gg)" opacity="0.046"/><ellipse class="p" cx="1124" cy="1163" rx="6" ry="44" fill="url(#gg)" opacity="0.028"/><ellipse class="p" cx="1138" cy="1168" rx="6" ry="44" fill="url(#gg)" opacity="0.045"/><ellipse class="p" cx="1152" cy="1165" rx="6" ry="44" fill="url(#gg)" opacity="0.046"/><ellipse class="p" cx="1166" cy="1169" rx="6" ry="44" fill="url(#gg)" opacity="0.030"/><ellipse class="p" cx="1178" cy="1166" rx="6" ry="44" fill="url(#gg)" opacity="0.058"/><ellipse class="p" cx="1191" cy="1170" rx="6" ry="44" fill="url(#gg)" opacity="0.049"/><ellipse class="p" cx="1205" cy="1168" rx="6" ry="44" fill="url(#gg)" opacity="0.038"/><ellipse class="p" cx="1220" cy="1168" rx="6" ry="44" fill="url(#gg)" opacity="0.060"/><ellipse class="p" cx="1236" cy="1165" rx="6" ry="44" fill="url(#gg)" opacity="0.045"/><ellipse class="p" cx="1249" cy="1164" rx="6" ry="44" fill="url(#gg)" opacity="0.038"/><ellipse class="p" cx="1265" cy="1167" rx="6" ry="44" fill="url(#gg)" opacity="0.053"/><ellipse class="p" cx="1279" cy="1166" rx="6" ry="44" fill="url(#gg)" opacity="0.046"/><ellipse class="p" cx="1293" cy="1166" rx="6" ry="44" fill="url(#gg)" opacity="0.033"/><ellipse class="p" cx="1306" cy="1170" rx="6" ry="44" fill="url(#gg)" opacity="0.056"/><ellipse class="p" cx="1321" cy="1164" rx="6" ry="44" fill="url(#gg)" opacity="0.042"/><ellipse class="p" cx="1333" cy="1169" rx="6" ry="44" fill="url(#gg)" opacity="0.050"/><ellipse class="p" cx="1348" cy="1169" rx="6" ry="44" fill="url(#gg)" opacity="0.041"/><ellipse class="p" cx="1360" cy="1168" rx="6" ry="44" fill="url(#gg)" opacity="0.043"/><ellipse class="p" cx="1374" cy="1167" rx="6" ry="44" fill="url(#gg)" opacity="0.028"/><ellipse class="p" cx="1387" cy="1166" rx="6" ry="44" fill="url(#gg)" opacity="0.056"/><ellipse class="p" cx="1401" cy="1169" rx="6" ry="44" fill="url(#gg)" opacity="0.060"/><ellipse class="p" cx="1415" cy="1166" rx="6" ry="44" fill="url(#gg)" opacity="0.057"/><ellipse class="p" cx="1429" cy="1164" rx="6" ry="44" fill="url(#gg)" opacity="0.051"/><ellipse class="p" cx="1442" cy="1168" rx="6" ry="44" fill="url(#gg)" opacity="0.036"/><ellipse class="p" cx="1455" cy="1168" rx="6" ry="44" fill="url(#gg)" opacity="0.041"/><ellipse class="p" cx="1468" cy="1170" rx="6" ry="44" fill="url(#gg)" opacity="0.028"/><ellipse class="p" cx="1481" cy="1169" rx="6" ry="44" fill="url(#gg)" opacity="0.036"/><ellipse class="p" cx="1495" cy="1165" rx="6" ry="44" fill="url(#gg)" opacity="0.031"/><ellipse class="p" cx="179" cy="1198" rx="10" ry="61" fill="url(#gg)" opacity="0.058"/><ellipse class="p" cx="206" cy="1200" rx="10" ry="61" fill="url(#gg)" opacity="0.070"/><ellipse class="p" cx="234" cy="1200" rx="10" ry="61" fill="url(#gg)" opacity="0.075"/><ellipse class="p" cx="262" cy="1205" rx="10" ry="61" fill="url(#gg)" opacity="0.060"/><ellipse class="p" cx="288" cy="1198" rx="10" ry="61" fill="url(#gg)" opacity="0.060"/><ellipse class="p" cx="315" cy="1198" rx="10" ry="61" fill="url(#gg)" opacity="0.077"/><ellipse class="p" cx="342" cy="1199" rx="10" ry="61" fill="url(#gg)" opacity="0.057"/><ellipse class="p" cx="365" cy="1202" rx="10" ry="61" fill="url(#gg)" opacity="0.058"/><ellipse class="p" cx="393" cy="1203" rx="10" ry="61" fill="url(#gg)" opacity="0.045"/><ellipse class="p" cx="417" cy="1201" rx="10" ry="61" fill="url(#gg)" opacity="0.060"/><ellipse class="p" cx="441" cy="1200" rx="10" ry="61" fill="url(#gg)" opacity="0.058"/><ellipse class="p" cx="466" cy="1200" rx="10" ry="61" fill="url(#gg)" opacity="0.062"/><ellipse class="p" cx="490" cy="1201" rx="10" ry="61" fill="url(#gg)" opacity="0.076"/><ellipse class="p" cx="514" cy="1205" rx="10" ry="61" fill="url(#gg)" opacity="0.054"/><ellipse class="p" cx="541" cy="1203" rx="10" ry="61" fill="url(#gg)" opacity="0.039"/><ellipse class="p" cx="566" cy="1203" rx="10" ry="61" fill="url(#gg)" opacity="0.063"/><ellipse class="p" cx="591" cy="1203" rx="10" ry="61" fill="url(#gg)" opacity="0.074"/><ellipse class="p" cx="618" cy="1204" rx="10" ry="61" fill="url(#gg)" opacity="0.066"/><ellipse class="p" cx="643" cy="1200" rx="10" ry="61" fill="url(#gg)" opacity="0.040"/><ellipse class="p" cx="668" cy="1202" rx="10" ry="61" fill="url(#gg)" opacity="0.050"/><ellipse class="p" cx="692" cy="1203" rx="10" ry="61" fill="url(#gg)" opacity="0.068"/><ellipse class="p" cx="719" cy="1198" rx="10" ry="61" fill="url(#gg)" opacity="0.065"/><ellipse class="p" cx="743" cy="1202" rx="10" ry="61" fill="url(#gg)" opacity="0.040"/><ellipse class="p" cx="771" cy="1201" rx="10" ry="61" fill="url(#gg)" opacity="0.073"/><ellipse class="p" cx="798" cy="1199" rx="10" ry="61" fill="url(#gg)" opacity="0.043"/><ellipse class="p" cx="827" cy="1199" rx="10" ry="61" fill="url(#gg)" opacity="0.045"/><ellipse class="p" cx="851" cy="1202" rx="10" ry="61" fill="url(#gg)" opacity="0.043"/><ellipse class="p" cx="877" cy="1205" rx="10" ry="61" fill="url(#gg)" opacity="0.072"/><ellipse class="p" cx="904" cy="1202" rx="10" ry="61" fill="url(#gg)" opacity="0.079"/><ellipse class="p" cx="930" cy="1201" rx="10" ry="61" fill="url(#gg)" opacity="0.043"/><ellipse class="p" cx="954" cy="1199" rx="10" ry="61" fill="url(#gg)" opacity="0.044"/><ellipse class="p" cx="980" cy="1204" rx="10" ry="61" fill="url(#gg)" opacity="0.051"/><ellipse class="p" cx="1004" cy="1205" rx="10" ry="61" fill="url(#gg)" opacity="0.072"/><ellipse class="p" cx="1032" cy="1204" rx="10" ry="61" fill="url(#gg)" opacity="0.044"/><ellipse class="p" cx="1057" cy="1203" rx="10" ry="61" fill="url(#gg)" opacity="0.049"/><ellipse class="p" cx="1086" cy="1201" rx="10" ry="61" fill="url(#gg)" opacity="0.058"/><ellipse class="p" cx="1111" cy="1201" rx="10" ry="61" fill="url(#gg)" opacity="0.047"/><ellipse class="p" cx="1135" cy="1199" rx="10" ry="61" fill="url(#gg)" opacity="0.055"/><ellipse class="p" cx="1161" cy="1200" rx="10" ry="61" fill="url(#gg)" opacity="0.044"/><ellipse class="p" cx="1186" cy="1200" rx="10" ry="61" fill="url(#gg)" opacity="0.066"/><ellipse class="p" cx="1213" cy="1201" rx="10" ry="61" fill="url(#gg)" opacity="0.050"/><ellipse class="p" cx="1239" cy="1198" rx="10" ry="61" fill="url(#gg)" opacity="0.041"/><ellipse class="p" cx="1264" cy="1205" rx="10" ry="61" fill="url(#gg)" opacity="0.078"/><ellipse class="p" cx="1291" cy="1205" rx="10" ry="61" fill="url(#gg)" opacity="0.070"/><ellipse class="p" cx="1319" cy="1204" rx="10" ry="61" fill="url(#gg)" opacity="0.048"/><ellipse class="p" cx="1346" cy="1200" rx="10" ry="61" fill="url(#gg)" opacity="0.068"/><ellipse class="p" cx="1372" cy="1203" rx="10" ry="61" fill="url(#gg)" opacity="0.041"/><ellipse class="p" cx="1398" cy="1201" rx="10" ry="61" fill="url(#gg)" opacity="0.063"/><ellipse class="p" cx="1425" cy="1203" rx="10" ry="61" fill="url(#gg)" opacity="0.057"/><ellipse class="p" cx="1449" cy="1203" rx="10" ry="61" fill="url(#gg)" opacity="0.079"/><ellipse class="p" cx="1474" cy="1199" rx="10" ry="61" fill="url(#gg)" opacity="0.054"/><ellipse class="p" cx="1503" cy="1199" rx="10" ry="61" fill="url(#gg)" opacity="0.058"/><ellipse class="p" cx="218" cy="1239" rx="18" ry="70" fill="url(#gg)" opacity="0.071"/><ellipse class="p" cx="261" cy="1239" rx="18" ry="70" fill="url(#gg)" opacity="0.042"/><ellipse class="p" cx="302" cy="1245" rx="18" ry="70" fill="url(#gg)" opacity="0.067"/><ellipse class="p" cx="350" cy="1244" rx="18" ry="70" fill="url(#gg)" opacity="0.080"/><ellipse class="p" cx="390" cy="1239" rx="18" ry="70" fill="url(#gg)" opacity="0.071"/><ellipse class="p" cx="431" cy="1238" rx="18" ry="70" fill="url(#gg)" opacity="0.053"/><ellipse class="p" cx="477" cy="1240" rx="18" ry="70" fill="url(#gg)" opacity="0.056"/><ellipse class="p" cx="520" cy="1245" rx="18" ry="70" fill="url(#gg)" opacity="0.046"/><ellipse class="p" cx="561" cy="1240" rx="18" ry="70" fill="url(#gg)" opacity="0.055"/><ellipse class="p" cx="601" cy="1239" rx="18" ry="70" fill="url(#gg)" opacity="0.064"/><ellipse class="p" cx="643" cy="1239" rx="18" ry="70" fill="url(#gg)" opacity="0.037"/><ellipse class="p" cx="687" cy="1241" rx="18" ry="70" fill="url(#gg)" opacity="0.058"/><ellipse class="p" cx="729" cy="1242" rx="18" ry="70" fill="url(#gg)" opacity="0.048"/><ellipse class="p" cx="772" cy="1238" rx="18" ry="70" fill="url(#gg)" opacity="0.058"/><ellipse class="p" cx="816" cy="1240" rx="18" ry="70" fill="url(#gg)" opacity="0.048"/><ellipse class="p" cx="855" cy="1241" rx="18" ry="70" fill="url(#gg)" opacity="0.067"/><ellipse class="p" cx="899" cy="1243" rx="18" ry="70" fill="url(#gg)" opacity="0.040"/><ellipse class="p" cx="942" cy="1245" rx="18" ry="70" fill="url(#gg)" opacity="0.073"/><ellipse class="p" cx="985" cy="1244" rx="18" ry="70" fill="url(#gg)" opacity="0.079"/><ellipse class="p" cx="1028" cy="1239" rx="18" ry="70" fill="url(#gg)" opacity="0.078"/><ellipse class="p" cx="1072" cy="1243" rx="18" ry="70" fill="url(#gg)" opacity="0.048"/><ellipse class="p" cx="1111" cy="1240" rx="18" ry="70" fill="url(#gg)" opacity="0.062"/><ellipse class="p" cx="1152" cy="1239" rx="18" ry="70" fill="url(#gg)" opacity="0.040"/><ellipse class="p" cx="1189" cy="1239" rx="18" ry="70" fill="url(#gg)" opacity="0.045"/><ellipse class="p" cx="1231" cy="1238" rx="18" ry="70" fill="url(#gg)" opacity="0.079"/><ellipse class="p" cx="1274" cy="1240" rx="18" ry="70" fill="url(#gg)" opacity="0.066"/><ellipse class="p" cx="1320" cy="1238" rx="18" ry="70" fill="url(#gg)" opacity="0.041"/><ellipse class="p" cx="1359" cy="1238" rx="18" ry="70" fill="url(#gg)" opacity="0.055"/><ellipse class="p" cx="1397" cy="1242" rx="18" ry="70" fill="url(#gg)" opacity="0.051"/><ellipse class="p" cx="1440" cy="1241" rx="18" ry="70" fill="url(#gg)" opacity="0.072"/><ellipse class="p" cx="1485" cy="1244" rx="18" ry="70" fill="url(#gg)" opacity="0.044"/><ellipse class="p" cx="225" cy="1425" rx="210" ry="52" fill="url(#gg)" opacity="0.280"/><ellipse class="p" cx="230" cy="1375" rx="158" ry="32" fill="url(#gg)" opacity="0.100"/><ellipse class="p" cx="180" cy="1470" rx="52" ry="21" fill="url(#gg)" opacity="0.100"/><ellipse class="p" cx="930" cy="1445" rx="350" ry="49" fill="url(#gg)" opacity="0.320" transform="rotate(7 930 1445)"/><ellipse class="p" cx="740" cy="1412" rx="70" ry="26" fill="url(#gg)" opacity="0.120"/><ellipse class="p" cx="930" cy="1478" rx="262" ry="18" fill="url(#gg)" opacity="0.060"/><ellipse class="p" cx="1225" cy="1388" rx="122" ry="32" fill="url(#gg)" opacity="0.120"/><ellipse class="p" cx="862" cy="1368" rx="105" ry="35" fill="url(#gg)" opacity="0.130"/><ellipse class="p" cx="623" cy="1368" rx="55" ry="44" fill="url(#gg)" opacity="0.100"/><ellipse class="p" cx="558" cy="1361" rx="105" ry="35" fill="url(#gg)" opacity="0.120"/><ellipse class="p" cx="1120" cy="1344" rx="61" ry="26" fill="url(#gg)" opacity="0.100"/><ellipse class="p" cx="1345" cy="1348" rx="79" ry="26" fill="url(#gg)" opacity="0.100"/><ellipse class="p" cx="794" cy="1318" rx="52" ry="26" fill="url(#gg)" opacity="0.080"/><ellipse class="p" cx="942" cy="1320" rx="52" ry="26" fill="url(#gg)" opacity="0.080"/><ellipse class="p" cx="249" cy="1268" rx="22" ry="55" fill="url(#gg)" opacity="0.120"/><ellipse class="p" cx="311" cy="1236" rx="18" ry="22" fill="url(#gg)" opacity="0.120"/><ellipse class="p" cx="338" cy="1284" rx="22" ry="33" fill="url(#gg)" opacity="0.250"/><ellipse class="p" cx="365" cy="1236" rx="18" ry="26" fill="url(#gg)" opacity="0.120"/><ellipse class="p" cx="422" cy="1270" rx="35" ry="52" fill="url(#gg)" opacity="0.120"/><ellipse class="p" cx="536" cy="1288" rx="33" ry="26" fill="url(#gg)" opacity="0.100"/><ellipse class="p" cx="634" cy="1272" rx="33" ry="33" fill="url(#gg)" opacity="0.100"/><ellipse class="p" cx="714" cy="1265" rx="26" ry="33" fill="url(#gg)" opacity="0.100"/><ellipse class="p" cx="789" cy="1265" rx="26" ry="55" fill="url(#gg)" opacity="0.120"/><ellipse class="p" cx="862" cy="1265" rx="26" ry="33" fill="url(#gg)" opacity="0.080"/><ellipse class="p" cx="1162" cy="1278" rx="26" ry="33" fill="url(#gg)" opacity="0.100"/><ellipse class="p" cx="1257" cy="1283" rx="26" ry="33" fill="url(#gg)" opacity="0.100"/><ellipse class="p" cx="1342" cy="1267" rx="26" ry="33" fill="url(#gg)" opacity="0.080"/><ellipse class="p" cx="1420" cy="1278" rx="26" ry="33" fill="url(#gg)" opacity="0.080"/><ellipse class="p" cx="990" cy="1265" rx="33" ry="33" fill="url(#gg)" opacity="0.080"/><rect x="162" y="1141.5" width="1341.5" height="346.5" fill="#fff" class="d"/></g></g><line x1="162" y1="1462.5" x2="1503.5" y2="1462.5" stroke="#f4fff4" stroke-width="5" stroke-dasharray="13 13" opacity=".9"/><rect x="162" y="1141.5" width="1341.5" height="346.5" fill="none" stroke="#3a5a3a" stroke-width="2.5"/><path d="M272.5 1488.0v-10M272.5 1141.5v10M433.5 1488.0v-10M433.5 1141.5v10M594.5 1488.0v-10M594.5 1141.5v10M755.5 1488.0v-10M755.5 1141.5v10M916.5 1488.0v-10M916.5 1141.5v10M1077.5 1488.0v-10M1077.5 1141.5v10M1238.5 1488.0v-10M1238.5 1141.5v10M1399.5 1488.0v-10M1399.5 1141.5v10M162 1326.0h10M1503.5 1326.0h-10M162 1409.0h10M1503.5 1409.0h-10M162 1462.5h10M1503.5 1462.5h-10" stroke="#2a3a2a" stroke-width="2.5" fill="none"/><text x="137.0" y="1342.5" font-size="47" fill="#333" stroke="#333" text-anchor="end">1</text><text x="137.0" y="1425.5" font-size="47" fill="#333" stroke="#333" text-anchor="end">3</text><text x="137.0" y="1483.5" font-size="47" fill="#333" stroke="#333" text-anchor="end">6</text><text x="174" y="1202.5" font-size="54" fill="#0b5e15" stroke="#0b5e15">(d)</text><clipPath id="cs2"><rect x="162" y="1543.5" width="1341.5" height="346.5"/></clipPath><g clip-path="url(#cs2)"><g filter="url(#jet)"><rect x="162" y="1543.5" width="1341.5" height="346.5" fill="#808080"/><ellipse class="p" cx="163" cy="1564" rx="4" ry="32" fill="url(#gg)" opacity="0.114"/><ellipse class="p" cx="172" cy="1565" rx="4" ry="32" fill="url(#gg)" opacity="0.112"/><ellipse class="p" cx="180" cy="1565" rx="4" ry="32" fill="url(#gg)" opacity="0.110"/><ellipse class="p" cx="188" cy="1565" rx="4" ry="32" fill="url(#gg)" opacity="0.125"/><ellipse class="p" cx="196" cy="1559" rx="4" ry="32" fill="url(#gg)" opacity="0.112"/><ellipse class="p" cx="204" cy="1565" rx="4" ry="32" fill="url(#gg)" opacity="0.145"/><ellipse class="p" cx="212" cy="1559" rx="4" ry="32" fill="url(#gg)" opacity="0.087"/><ellipse class="p" cx="219" cy="1559" rx="4" ry="32" fill="url(#gg)" opacity="0.079"/><ellipse class="p" cx="227" cy="1563" rx="4" ry="32" fill="url(#gg)" opacity="0.117"/><ellipse class="p" cx="235" cy="1564" rx="4" ry="32" fill="url(#gg)" opacity="0.100"/><ellipse class="p" cx="244" cy="1559" rx="4" ry="32" fill="url(#gg)" opacity="0.072"/><ellipse class="p" cx="252" cy="1560" rx="4" ry="32" fill="url(#gg)" opacity="0.090"/><ellipse class="p" cx="261" cy="1563" rx="4" ry="32" fill="url(#gg)" opacity="0.139"/><ellipse class="p" cx="268" cy="1561" rx="4" ry="32" fill="url(#gg)" opacity="0.097"/><ellipse class="p" cx="277" cy="1558" rx="4" ry="32" fill="url(#gg)" opacity="0.134"/><ellipse class="p" cx="285" cy="1559" rx="4" ry="32" fill="url(#gg)" opacity="0.107"/><ellipse class="p" cx="293" cy="1560" rx="4" ry="32" fill="url(#gg)" opacity="0.372"/><ellipse class="p" cx="301" cy="1560" rx="4" ry="32" fill="url(#gg)" opacity="0.316"/><ellipse class="p" cx="309" cy="1558" rx="4" ry="32" fill="url(#gg)" opacity="0.260"/><ellipse class="p" cx="317" cy="1560" rx="4" ry="32" fill="url(#gg)" opacity="0.294"/><ellipse class="p" cx="325" cy="1558" rx="4" ry="32" fill="url(#gg)" opacity="0.343"/><ellipse class="p" cx="333" cy="1563" rx="4" ry="32" fill="url(#gg)" opacity="0.341"/><ellipse class="p" cx="341" cy="1563" rx="4" ry="32" fill="url(#gg)" opacity="0.276"/><ellipse class="p" cx="349" cy="1560" rx="4" ry="32" fill="url(#gg)" opacity="0.226"/><ellipse class="p" cx="356" cy="1562" rx="4" ry="32" fill="url(#gg)" opacity="0.333"/><ellipse class="p" cx="363" cy="1559" rx="4" ry="32" fill="url(#gg)" opacity="0.201"/><ellipse class="p" cx="372" cy="1559" rx="4" ry="32" fill="url(#gg)" opacity="0.392"/><ellipse class="p" cx="380" cy="1563" rx="4" ry="32" fill="url(#gg)" opacity="0.302"/><ellipse class="p" cx="388" cy="1564" rx="4" ry="32" fill="url(#gg)" opacity="0.201"/><ellipse class="p" cx="397" cy="1565" rx="4" ry="32" fill="url(#gg)" opacity="0.324"/><ellipse class="p" cx="404" cy="1559" rx="4" ry="32" fill="url(#gg)" opacity="0.146"/><ellipse class="p" cx="412" cy="1561" rx="4" ry="32" fill="url(#gg)" opacity="0.120"/><ellipse class="p" cx="421" cy="1558" rx="4" ry="32" fill="url(#gg)" opacity="0.116"/><ellipse class="p" cx="429" cy="1560" rx="4" ry="32" fill="url(#gg)" opacity="0.120"/><ellipse class="p" cx="436" cy="1562" rx="4" ry="32" fill="url(#gg)" opacity="0.413"/><ellipse class="p" cx="445" cy="1561" rx="4" ry="32" fill="url(#gg)" opacity="0.301"/><ellipse class="p" cx="452" cy="1563" rx="4" ry="32" fill="url(#gg)" opacity="0.351"/><ellipse class="p" cx="460" cy="1559" rx="4" ry="32" fill="url(#gg)" opacity="0.250"/><ellipse class="p" cx="468" cy="1565" rx="4" ry="32" fill="url(#gg)" opacity="0.409"/><ellipse class="p" cx="476" cy="1565" rx="4" ry="32" fill="url(#gg)" opacity="0.197"/><ellipse class="p" cx="484" cy="1563" rx="4" ry="32" fill="url(#gg)" opacity="0.335"/><ellipse class="p" cx="492" cy="1564" rx="4" ry="32" fill="url(#gg)" opacity="0.312"/><ellipse class="p" cx="501" cy="1564" rx="4" ry="32" fill="url(#gg)" opacity="0.376"/><ellipse class="p" cx="509" cy="1564" rx="4" ry="32" fill="url(#gg)" opacity="0.211"/><ellipse class="p" cx="517" cy="1561" rx="4" ry="32" fill="url(#gg)" opacity="0.234"/><ellipse class="p" cx="525" cy="1562" rx="4" ry="32" fill="url(#gg)" opacity="0.135"/><ellipse class="p" cx="533" cy="1559" rx="4" ry="32" fill="url(#gg)" opacity="0.140"/><ellipse class="p" cx="542" cy="1564" rx="4" ry="32" fill="url(#gg)" opacity="0.106"/><ellipse class="p" cx="550" cy="1564" rx="4" ry="32" fill="url(#gg)" opacity="0.141"/><ellipse class="p" cx="558" cy="1564" rx="4" ry="32" fill="url(#gg)" opacity="0.087"/><ellipse class="p" cx="567" cy="1560" rx="4" ry="32" fill="url(#gg)" opacity="0.088"/><ellipse class="p" cx="575" cy="1559" rx="4" ry="32" fill="url(#gg)" opacity="0.139"/><ellipse class="p" cx="583" cy="1563" rx="4" ry="32" fill="url(#gg)" opacity="0.124"/><ellipse class="p" cx="590" cy="1561" rx="4" ry="32" fill="url(#gg)" opacity="0.113"/><ellipse class="p" cx="599" cy="1561" rx="4" ry="32" fill="url(#gg)" opacity="0.113"/><ellipse class="p" cx="606" cy="1562" rx="4" ry="32" fill="url(#gg)" opacity="0.276"/><ellipse class="p" cx="614" cy="1558" rx="4" ry="32" fill="url(#gg)" opacity="0.332"/><ellipse class="p" cx="622" cy="1560" rx="4" ry="32" fill="url(#gg)" opacity="0.233"/><ellipse class="p" cx="630" cy="1563" rx="4" ry="32" fill="url(#gg)" opacity="0.289"/><ellipse class="p" cx="638" cy="1561" rx="4" ry="32" fill="url(#gg)" opacity="0.289"/><ellipse class="p" cx="645" cy="1563" rx="4" ry="32" fill="url(#gg)" opacity="0.414"/><ellipse class="p" cx="654" cy="1564" rx="4" ry="32" fill="url(#gg)" opacity="0.410"/><ellipse class="p" cx="661" cy="1565" rx="4" ry="32" fill="url(#gg)" opacity="0.326"/><ellipse class="p" cx="669" cy="1561" rx="4" ry="32" fill="url(#gg)" opacity="0.360"/><ellipse class="p" cx="677" cy="1565" rx="4" ry="32" fill="url(#gg)" opacity="0.276"/><ellipse class="p" cx="685" cy="1561" rx="4" ry="32" fill="url(#gg)" opacity="0.345"/><ellipse class="p" cx="693" cy="1562" rx="4" ry="32" fill="url(#gg)" opacity="0.317"/><ellipse class="p" cx="702" cy="1563" rx="4" ry="32" fill="url(#gg)" opacity="0.067"/><ellipse class="p" cx="711" cy="1560" rx="4" ry="32" fill="url(#gg)" opacity="0.128"/><ellipse class="p" cx="719" cy="1558" rx="4" ry="32" fill="url(#gg)" opacity="0.088"/><ellipse class="p" cx="727" cy="1564" rx="4" ry="32" fill="url(#gg)" opacity="0.135"/><ellipse class="p" cx="734" cy="1561" rx="4" ry="32" fill="url(#gg)" opacity="0.118"/><ellipse class="p" cx="741" cy="1558" rx="4" ry="32" fill="url(#gg)" opacity="0.105"/><ellipse class="p" cx="750" cy="1558" rx="4" ry="32" fill="url(#gg)" opacity="0.141"/><ellipse class="p" cx="759" cy="1561" rx="4" ry="32" fill="url(#gg)" opacity="0.120"/><ellipse class="p" cx="767" cy="1560" rx="4" ry="32" fill="url(#gg)" opacity="0.117"/><ellipse class="p" cx="775" cy="1565" rx="4" ry="32" fill="url(#gg)" opacity="0.147"/><ellipse class="p" cx="783" cy="1561" rx="4" ry="32" fill="url(#gg)" opacity="0.098"/><ellipse class="p" cx="791" cy="1559" rx="4" ry="32" fill="url(#gg)" opacity="0.129"/><ellipse class="p" cx="798" cy="1564" rx="4" ry="32" fill="url(#gg)" opacity="0.140"/><ellipse class="p" cx="806" cy="1561" rx="4" ry="32" fill="url(#gg)" opacity="0.097"/><ellipse class="p" cx="814" cy="1558" rx="4" ry="32" fill="url(#gg)" opacity="0.094"/><ellipse class="p" cx="822" cy="1564" rx="4" ry="32" fill="url(#gg)" opacity="0.348"/><ellipse class="p" cx="830" cy="1563" rx="4" ry="32" fill="url(#gg)" opacity="0.246"/><ellipse class="p" cx="838" cy="1565" rx="4" ry="32" fill="url(#gg)" opacity="0.306"/><ellipse class="p" cx="846" cy="1562" rx="4" ry="32" fill="url(#gg)" opacity="0.231"/><ellipse class="p" cx="854" cy="1560" rx="4" ry="32" fill="url(#gg)" opacity="0.215"/><ellipse class="p" cx="862" cy="1561" rx="4" ry="32" fill="url(#gg)" opacity="0.297"/><ellipse class="p" cx="869" cy="1562" rx="4" ry="32" fill="url(#gg)" opacity="0.382"/><ellipse class="p" cx="878" cy="1558" rx="4" ry="32" fill="url(#gg)" opacity="0.407"/><ellipse class="p" cx="887" cy="1563" rx="4" ry="32" fill="url(#gg)" opacity="0.365"/><ellipse class="p" cx="894" cy="1564" rx="4" ry="32" fill="url(#gg)" opacity="0.094"/><ellipse class="p" cx="903" cy="1563" rx="4" ry="32" fill="url(#gg)" opacity="0.119"/><ellipse class="p" cx="912" cy="1559" rx="4" ry="32" fill="url(#gg)" opacity="0.068"/><ellipse class="p" cx="920" cy="1561" rx="4" ry="32" fill="url(#gg)" opacity="0.123"/><ellipse class="p" cx="928" cy="1564" rx="4" ry="32" fill="url(#gg)" opacity="0.103"/><ellipse class="p" cx="936" cy="1560" rx="4" ry="32" fill="url(#gg)" opacity="0.410"/><ellipse class="p" cx="944" cy="1561" rx="4" ry="32" fill="url(#gg)" opacity="0.331"/><ellipse class="p" cx="952" cy="1562" rx="4" ry="32" fill="url(#gg)" opacity="0.334"/><ellipse class="p" cx="960" cy="1562" rx="4" ry="32" fill="url(#gg)" opacity="0.193"/><ellipse class="p" cx="969" cy="1560" rx="4" ry="32" fill="url(#gg)" opacity="0.368"/><ellipse class="p" cx="977" cy="1565" rx="4" ry="32" fill="url(#gg)" opacity="0.236"/><ellipse class="p" cx="986" cy="1560" rx="4" ry="32" fill="url(#gg)" opacity="0.387"/><ellipse class="p" cx="994" cy="1558" rx="4" ry="32" fill="url(#gg)" opacity="0.401"/><ellipse class="p" cx="1002" cy="1565" rx="4" ry="32" fill="url(#gg)" opacity="0.145"/><ellipse class="p" cx="1009" cy="1563" rx="4" ry="32" fill="url(#gg)" opacity="0.131"/><ellipse class="p" cx="1018" cy="1565" rx="4" ry="32" fill="url(#gg)" opacity="0.128"/><ellipse class="p" cx="1025" cy="1561" rx="4" ry="32" fill="url(#gg)" opacity="0.090"/><ellipse class="p" cx="1033" cy="1561" rx="4" ry="32" fill="url(#gg)" opacity="0.092"/><ellipse class="p" cx="1041" cy="1558" rx="4" ry="32" fill="url(#gg)" opacity="0.074"/><ellipse class="p" cx="1049" cy="1564" rx="4" ry="32" fill="url(#gg)" opacity="0.126"/><ellipse class="p" cx="1056" cy="1559" rx="4" ry="32" fill="url(#gg)" opacity="0.072"/><ellipse class="p" cx="1064" cy="1561" rx="4" ry="32" fill="url(#gg)" opacity="0.323"/><ellipse class="p" cx="1073" cy="1563" rx="4" ry="32" fill="url(#gg)" opacity="0.321"/><ellipse class="p" cx="1080" cy="1562" rx="4" ry="32" fill="url(#gg)" opacity="0.385"/><ellipse class="p" cx="1087" cy="1564" rx="4" ry="32" fill="url(#gg)" opacity="0.362"/><ellipse class="p" cx="1095" cy="1563" rx="4" ry="32" fill="url(#gg)" opacity="0.371"/><ellipse class="p" cx="1103" cy="1559" rx="4" ry="32" fill="url(#gg)" opacity="0.418"/><ellipse class="p" cx="1111" cy="1563" rx="4" ry="32" fill="url(#gg)" opacity="0.192"/><ellipse class="p" cx="1119" cy="1563" rx="4" ry="32" fill="url(#gg)" opacity="0.203"/><ellipse class="p" cx="1127" cy="1564" rx="4" ry="32" fill="url(#gg)" opacity="0.252"/><ellipse class="p" cx="1134" cy="1561" rx="4" ry="32" fill="url(#gg)" opacity="0.257"/><ellipse class="p" cx="1142" cy="1558" rx="4" ry="32" fill="url(#gg)" opacity="0.128"/><ellipse class="p" cx="1149" cy="1563" rx="4" ry="32" fill="url(#gg)" opacity="0.086"/><ellipse class="p" cx="1157" cy="1563" rx="4" ry="32" fill="url(#gg)" opacity="0.105"/><ellipse class="p" cx="1165" cy="1565" rx="4" ry="32" fill="url(#gg)" opacity="0.381"/><ellipse class="p" cx="1173" cy="1562" rx="4" ry="32" fill="url(#gg)" opacity="0.324"/><ellipse class="p" cx="1181" cy="1562" rx="4" ry="32" fill="url(#gg)" opacity="0.296"/><ellipse class="p" cx="1190" cy="1560" rx="4" ry="32" fill="url(#gg)" opacity="0.415"/><ellipse class="p" cx="1198" cy="1563" rx="4" ry="32" fill="url(#gg)" opacity="0.323"/><ellipse class="p" cx="1207" cy="1563" rx="4" ry="32" fill="url(#gg)" opacity="0.296"/><ellipse class="p" cx="1215" cy="1564" rx="4" ry="32" fill="url(#gg)" opacity="0.228"/><ellipse class="p" cx="1224" cy="1564" rx="4" ry="32" fill="url(#gg)" opacity="0.399"/><ellipse class="p" cx="1232" cy="1561" rx="4" ry="32" fill="url(#gg)" opacity="0.254"/><ellipse class="p" cx="1239" cy="1561" rx="4" ry="32" fill="url(#gg)" opacity="0.374"/><ellipse class="p" cx="1247" cy="1558" rx="4" ry="32" fill="url(#gg)" opacity="0.089"/><ellipse class="p" cx="1255" cy="1558" rx="4" ry="32" fill="url(#gg)" opacity="0.071"/><ellipse class="p" cx="1263" cy="1559" rx="4" ry="32" fill="url(#gg)" opacity="0.066"/><ellipse class="p" cx="1271" cy="1563" rx="4" ry="32" fill="url(#gg)" opacity="0.096"/><ellipse class="p" cx="1279" cy="1565" rx="4" ry="32" fill="url(#gg)" opacity="0.106"/><ellipse class="p" cx="1287" cy="1558" rx="4" ry="32" fill="url(#gg)" opacity="0.121"/><ellipse class="p" cx="1295" cy="1558" rx="4" ry="32" fill="url(#gg)" opacity="0.093"/><ellipse class="p" cx="1303" cy="1563" rx="4" ry="32" fill="url(#gg)" opacity="0.347"/><ellipse class="p" cx="1312" cy="1558" rx="4" ry="32" fill="url(#gg)" opacity="0.206"/><ellipse class="p" cx="1319" cy="1561" rx="4" ry="32" fill="url(#gg)" opacity="0.348"/><ellipse class="p" cx="1327" cy="1560" rx="4" ry="32" fill="url(#gg)" opacity="0.292"/><ellipse class="p" cx="1335" cy="1562" rx="4" ry="32" fill="url(#gg)" opacity="0.234"/><ellipse class="p" cx="1342" cy="1565" rx="4" ry="32" fill="url(#gg)" opacity="0.192"/><ellipse class="p" cx="1350" cy="1559" rx="4" ry="32" fill="url(#gg)" opacity="0.102"/><ellipse class="p" cx="1358" cy="1559" rx="4" ry="32" fill="url(#gg)" opacity="0.111"/><ellipse class="p" cx="1366" cy="1559" rx="4" ry="32" fill="url(#gg)" opacity="0.116"/><ellipse class="p" cx="1374" cy="1562" rx="4" ry="32" fill="url(#gg)" opacity="0.077"/><ellipse class="p" cx="1382" cy="1562" rx="4" ry="32" fill="url(#gg)" opacity="0.103"/><ellipse class="p" cx="1391" cy="1563" rx="4" ry="32" fill="url(#gg)" opacity="0.307"/><ellipse class="p" cx="1398" cy="1565" rx="4" ry="32" fill="url(#gg)" opacity="0.297"/><ellipse class="p" cx="1405" cy="1560" rx="4" ry="32" fill="url(#gg)" opacity="0.338"/><ellipse class="p" cx="1413" cy="1559" rx="4" ry="32" fill="url(#gg)" opacity="0.386"/><ellipse class="p" cx="1422" cy="1559" rx="4" ry="32" fill="url(#gg)" opacity="0.412"/><ellipse class="p" cx="1430" cy="1559" rx="4" ry="32" fill="url(#gg)" opacity="0.397"/><ellipse class="p" cx="1438" cy="1558" rx="4" ry="32" fill="url(#gg)" opacity="0.288"/><ellipse class="p" cx="1447" cy="1565" rx="4" ry="32" fill="url(#gg)" opacity="0.387"/><ellipse class="p" cx="1455" cy="1565" rx="4" ry="32" fill="url(#gg)" opacity="0.281"/><ellipse class="p" cx="1463" cy="1564" rx="4" ry="32" fill="url(#gg)" opacity="0.344"/><ellipse class="p" cx="1471" cy="1562" rx="4" ry="32" fill="url(#gg)" opacity="0.073"/><ellipse class="p" cx="1479" cy="1558" rx="4" ry="32" fill="url(#gg)" opacity="0.088"/><ellipse class="p" cx="1487" cy="1560" rx="4" ry="32" fill="url(#gg)" opacity="0.103"/><ellipse class="p" cx="1496" cy="1565" rx="4" ry="32" fill="url(#gg)" opacity="0.101"/><ellipse class="p" cx="183" cy="1590" rx="9" ry="64" fill="url(#gg)" opacity="0.131"/><ellipse class="p" cx="202" cy="1593" rx="9" ry="64" fill="url(#gg)" opacity="0.112"/><ellipse class="p" cx="224" cy="1593" rx="9" ry="64" fill="url(#gg)" opacity="0.096"/><ellipse class="p" cx="247" cy="1596" rx="9" ry="64" fill="url(#gg)" opacity="0.075"/><ellipse class="p" cx="269" cy="1591" rx="9" ry="64" fill="url(#gg)" opacity="0.068"/><ellipse class="p" cx="288" cy="1595" rx="9" ry="64" fill="url(#gg)" opacity="0.120"/><ellipse class="p" cx="310" cy="1594" rx="9" ry="64" fill="url(#gg)" opacity="0.166"/><ellipse class="p" cx="330" cy="1595" rx="9" ry="64" fill="url(#gg)" opacity="0.147"/><ellipse class="p" cx="352" cy="1590" rx="9" ry="64" fill="url(#gg)" opacity="0.158"/><ellipse class="p" cx="374" cy="1595" rx="9" ry="64" fill="url(#gg)" opacity="0.258"/><ellipse class="p" cx="396" cy="1596" rx="9" ry="64" fill="url(#gg)" opacity="0.210"/><ellipse class="p" cx="420" cy="1590" rx="9" ry="64" fill="url(#gg)" opacity="0.123"/><ellipse class="p" cx="441" cy="1595" rx="9" ry="64" fill="url(#gg)" opacity="0.218"/><ellipse class="p" cx="463" cy="1591" rx="9" ry="64" fill="url(#gg)" opacity="0.206"/><ellipse class="p" cx="484" cy="1590" rx="9" ry="64" fill="url(#gg)" opacity="0.156"/><ellipse class="p" cx="508" cy="1594" rx="9" ry="64" fill="url(#gg)" opacity="0.169"/><ellipse class="p" cx="529" cy="1594" rx="9" ry="64" fill="url(#gg)" opacity="0.198"/><ellipse class="p" cx="550" cy="1591" rx="9" ry="64" fill="url(#gg)" opacity="0.151"/><ellipse class="p" cx="569" cy="1594" rx="9" ry="64" fill="url(#gg)" opacity="0.164"/><ellipse class="p" cx="592" cy="1589" rx="9" ry="64" fill="url(#gg)" opacity="0.193"/><ellipse class="p" cx="614" cy="1590" rx="9" ry="64" fill="url(#gg)" opacity="0.174"/><ellipse class="p" cx="635" cy="1595" rx="9" ry="64" fill="url(#gg)" opacity="0.238"/><ellipse class="p" cx="654" cy="1594" rx="9" ry="64" fill="url(#gg)" opacity="0.200"/><ellipse class="p" cx="675" cy="1589" rx="9" ry="64" fill="url(#gg)" opacity="0.123"/><ellipse class="p" cx="697" cy="1592" rx="9" ry="64" fill="url(#gg)" opacity="0.198"/><ellipse class="p" cx="716" cy="1593" rx="9" ry="64" fill="url(#gg)" opacity="0.129"/><ellipse class="p" cx="740" cy="1594" rx="9" ry="64" fill="url(#gg)" opacity="0.172"/><ellipse class="p" cx="759" cy="1589" rx="9" ry="64" fill="url(#gg)" opacity="0.239"/><ellipse class="p" cx="779" cy="1591" rx="9" ry="64" fill="url(#gg)" opacity="0.171"/><ellipse class="p" cx="799" cy="1594" rx="9" ry="64" fill="url(#gg)" opacity="0.179"/><ellipse class="p" cx="820" cy="1594" rx="9" ry="64" fill="url(#gg)" opacity="0.208"/><ellipse class="p" cx="840" cy="1595" rx="9" ry="64" fill="url(#gg)" opacity="0.235"/><ellipse class="p" cx="862" cy="1592" rx="9" ry="64" fill="url(#gg)" opacity="0.150"/><ellipse class="p" cx="883" cy="1594" rx="9" ry="64" fill="url(#gg)" opacity="0.153"/><ellipse class="p" cx="905" cy="1594" rx="9" ry="64" fill="url(#gg)" opacity="0.174"/><ellipse class="p" cx="927" cy="1590" rx="9" ry="64" fill="url(#gg)" opacity="0.128"/><ellipse class="p" cx="947" cy="1592" rx="9" ry="64" fill="url(#gg)" opacity="0.187"/><ellipse class="p" cx="967" cy="1590" rx="9" ry="64" fill="url(#gg)" opacity="0.167"/><ellipse class="p" cx="987" cy="1595" rx="9" ry="64" fill="url(#gg)" opacity="0.148"/><ellipse class="p" cx="1006" cy="1588" rx="9" ry="64" fill="url(#gg)" opacity="0.152"/><ellipse class="p" cx="1024" cy="1590" rx="9" ry="64" fill="url(#gg)" opacity="0.122"/><ellipse class="p" cx="1045" cy="1590" rx="9" ry="64" fill="url(#gg)" opacity="0.191"/><ellipse class="p" cx="1064" cy="1590" rx="9" ry="64" fill="url(#gg)" opacity="0.207"/><ellipse class="p" cx="1083" cy="1595" rx="9" ry="64" fill="url(#gg)" opacity="0.186"/><ellipse class="p" cx="1104" cy="1593" rx="9" ry="64" fill="url(#gg)" opacity="0.218"/><ellipse class="p" cx="1125" cy="1588" rx="9" ry="64" fill="url(#gg)" opacity="0.218"/><ellipse class="p" cx="1147" cy="1596" rx="9" ry="64" fill="url(#gg)" opacity="0.201"/><ellipse class="p" cx="1168" cy="1591" rx="9" ry="64" fill="url(#gg)" opacity="0.219"/><ellipse class="p" cx="1191" cy="1595" rx="9" ry="64" fill="url(#gg)" opacity="0.143"/><ellipse class="p" cx="1213" cy="1592" rx="9" ry="64" fill="url(#gg)" opacity="0.147"/><ellipse class="p" cx="1233" cy="1590" rx="9" ry="64" fill="url(#gg)" opacity="0.257"/><ellipse class="p" cx="1254" cy="1593" rx="9" ry="64" fill="url(#gg)" opacity="0.144"/><ellipse class="p" cx="1275" cy="1591" rx="9" ry="64" fill="url(#gg)" opacity="0.160"/><ellipse class="p" cx="1297" cy="1588" rx="9" ry="64" fill="url(#gg)" opacity="0.218"/><ellipse class="p" cx="1319" cy="1596" rx="9" ry="64" fill="url(#gg)" opacity="0.176"/><ellipse class="p" cx="1339" cy="1595" rx="9" ry="64" fill="url(#gg)" opacity="0.242"/><ellipse class="p" cx="1361" cy="1593" rx="9" ry="64" fill="url(#gg)" opacity="0.218"/><ellipse class="p" cx="1381" cy="1590" rx="9" ry="64" fill="url(#gg)" opacity="0.199"/><ellipse class="p" cx="1403" cy="1592" rx="9" ry="64" fill="url(#gg)" opacity="0.156"/><ellipse class="p" cx="1424" cy="1589" rx="9" ry="64" fill="url(#gg)" opacity="0.124"/><ellipse class="p" cx="1445" cy="1591" rx="9" ry="64" fill="url(#gg)" opacity="0.186"/><ellipse class="p" cx="1466" cy="1595" rx="9" ry="64" fill="url(#gg)" opacity="0.211"/><ellipse class="p" cx="1486" cy="1595" rx="9" ry="64" fill="url(#gg)" opacity="0.133"/><ellipse class="p" cx="191" cy="1638" rx="16" ry="74" fill="url(#gg)" opacity="0.137"/><ellipse class="p" cx="222" cy="1632" rx="16" ry="74" fill="url(#gg)" opacity="0.097"/><ellipse class="p" cx="259" cy="1633" rx="16" ry="74" fill="url(#gg)" opacity="0.117"/><ellipse class="p" cx="295" cy="1638" rx="16" ry="74" fill="url(#gg)" opacity="0.090"/><ellipse class="p" cx="331" cy="1639" rx="16" ry="74" fill="url(#gg)" opacity="0.072"/><ellipse class="p" cx="368" cy="1639" rx="16" ry="74" fill="url(#gg)" opacity="0.126"/><ellipse class="p" cx="403" cy="1638" rx="16" ry="74" fill="url(#gg)" opacity="0.065"/><ellipse class="p" cx="439" cy="1638" rx="16" ry="74" fill="url(#gg)" opacity="0.100"/><ellipse class="p" cx="475" cy="1633" rx="16" ry="74" fill="url(#gg)" opacity="0.064"/><ellipse class="p" cx="510" cy="1633" rx="16" ry="74" fill="url(#gg)" opacity="0.063"/><ellipse class="p" cx="545" cy="1638" rx="16" ry="74" fill="url(#gg)" opacity="0.092"/><ellipse class="p" cx="579" cy="1635" rx="16" ry="74" fill="url(#gg)" opacity="0.065"/><ellipse class="p" cx="616" cy="1637" rx="16" ry="74" fill="url(#gg)" opacity="0.093"/><ellipse class="p" cx="648" cy="1637" rx="16" ry="74" fill="url(#gg)" opacity="0.132"/><ellipse class="p" cx="681" cy="1636" rx="16" ry="74" fill="url(#gg)" opacity="0.097"/><ellipse class="p" cx="719" cy="1637" rx="16" ry="74" fill="url(#gg)" opacity="0.096"/><ellipse class="p" cx="755" cy="1635" rx="16" ry="74" fill="url(#gg)" opacity="0.121"/><ellipse class="p" cx="791" cy="1633" rx="16" ry="74" fill="url(#gg)" opacity="0.138"/><ellipse class="p" cx="826" cy="1632" rx="16" ry="74" fill="url(#gg)" opacity="0.099"/><ellipse class="p" cx="863" cy="1637" rx="16" ry="74" fill="url(#gg)" opacity="0.122"/><ellipse class="p" cx="902" cy="1636" rx="16" ry="74" fill="url(#gg)" opacity="0.069"/><ellipse class="p" cx="944" cy="1636" rx="16" ry="74" fill="url(#gg)" opacity="0.109"/><ellipse class="p" cx="978" cy="1640" rx="16" ry="74" fill="url(#gg)" opacity="0.074"/><ellipse class="p" cx="1013" cy="1639" rx="16" ry="74" fill="url(#gg)" opacity="0.127"/><ellipse class="p" cx="1050" cy="1640" rx="16" ry="74" fill="url(#gg)" opacity="0.071"/><ellipse class="p" cx="1086" cy="1639" rx="16" ry="74" fill="url(#gg)" opacity="0.085"/><ellipse class="p" cx="1116" cy="1635" rx="16" ry="74" fill="url(#gg)" opacity="0.120"/><ellipse class="p" cx="1149" cy="1638" rx="16" ry="74" fill="url(#gg)" opacity="0.076"/><ellipse class="p" cx="1186" cy="1633" rx="16" ry="74" fill="url(#gg)" opacity="0.118"/><ellipse class="p" cx="1218" cy="1634" rx="16" ry="74" fill="url(#gg)" opacity="0.067"/><ellipse class="p" cx="1250" cy="1637" rx="16" ry="74" fill="url(#gg)" opacity="0.139"/><ellipse class="p" cx="1291" cy="1637" rx="16" ry="74" fill="url(#gg)" opacity="0.125"/><ellipse class="p" cx="1328" cy="1638" rx="16" ry="74" fill="url(#gg)" opacity="0.081"/><ellipse class="p" cx="1364" cy="1640" rx="16" ry="74" fill="url(#gg)" opacity="0.139"/><ellipse class="p" cx="1402" cy="1635" rx="16" ry="74" fill="url(#gg)" opacity="0.082"/><ellipse class="p" cx="1437" cy="1634" rx="16" ry="74" fill="url(#gg)" opacity="0.096"/><ellipse class="p" cx="1468" cy="1636" rx="16" ry="74" fill="url(#gg)" opacity="0.129"/><ellipse class="p" cx="315" cy="1785" rx="192" ry="79" fill="url(#gg)" opacity="0.470" transform="rotate(-10 315 1785)"/><ellipse class="p" cx="300" cy="1728" rx="70" ry="44" fill="url(#gg)" opacity="0.350"/><ellipse class="p" cx="230" cy="1835" rx="158" ry="44" fill="url(#gg)" opacity="0.250"/><ellipse class="p" cx="300" cy="1872" rx="262" ry="21" fill="url(#gg)" opacity="0.180"/><ellipse class="p" cx="548" cy="1745" rx="55" ry="18" fill="url(#gg)" opacity="0.180"/><ellipse class="p" cx="690" cy="1785" rx="210" ry="49" fill="url(#gg)" opacity="0.430" transform="rotate(10 690 1785)"/><ellipse class="p" cx="810" cy="1805" rx="175" ry="35" fill="url(#gg)" opacity="0.320" transform="rotate(8 810 1805)"/><ellipse class="p" cx="760" cy="1738" rx="88" ry="26" fill="url(#gg)" opacity="0.260" transform="rotate(-15 760 1738)"/><ellipse class="p" cx="965" cy="1755" rx="158" ry="70" fill="url(#gg)" opacity="0.460"/><ellipse class="p" cx="968" cy="1680" rx="35" ry="79" fill="url(#gg)" opacity="0.400"/><ellipse class="p" cx="1000" cy="1835" rx="122" ry="21" fill="url(#gg)" opacity="0.120"/><ellipse class="p" cx="1210" cy="1690" rx="61" ry="70" fill="url(#gg)" opacity="0.420" transform="rotate(30 1210 1690)"/><ellipse class="p" cx="1195" cy="1752" rx="122" ry="44" fill="url(#gg)" opacity="0.400" transform="rotate(15 1195 1752)"/><ellipse class="p" cx="1285" cy="1775" rx="105" ry="26" fill="url(#gg)" opacity="0.280" transform="rotate(15 1285 1775)"/><ellipse class="p" cx="1250" cy="1800" rx="140" ry="23" fill="url(#gg)" opacity="0.200"/><ellipse class="p" cx="1420" cy="1745" rx="105" ry="18" fill="url(#gg)" opacity="0.120"/><ellipse class="p" cx="1270" cy="1848" rx="420" ry="28" fill="url(#gg)" opacity="0.160"/><ellipse class="p" cx="1290" cy="1878" rx="402" ry="24" fill="url(#gg)" opacity="0.200"/><ellipse class="p" cx="220" cy="1872" rx="210" ry="38" fill="url(#gg)" opacity="0.130"/><ellipse class="p" cx="450" cy="1680" rx="32" ry="96" fill="url(#gg)" opacity="0.360"/><ellipse class="p" cx="575" cy="1700" rx="48" ry="55" fill="url(#gg)" opacity="0.380"/><ellipse class="p" cx="377" cy="1660" rx="21" ry="52" fill="url(#gg)" opacity="0.250" transform="rotate(-10 377 1660)"/><ellipse class="p" cx="311" cy="1650" rx="22" ry="26" fill="url(#gg)" opacity="0.200"/><ellipse class="p" cx="254" cy="1620" rx="16" ry="61" fill="url(#gg)" opacity="0.250"/><ellipse class="p" cx="201" cy="1643" rx="18" ry="33" fill="url(#gg)" opacity="0.200"/><ellipse class="p" cx="227" cy="1590" rx="15" ry="55" fill="url(#gg)" opacity="0.350"/><ellipse class="p" cx="507" cy="1642" rx="18" ry="26" fill="url(#gg)" opacity="0.220"/><ellipse class="p" cx="566" cy="1645" rx="18" ry="22" fill="url(#gg)" opacity="0.150"/><ellipse class="p" cx="680" cy="1681" rx="33" ry="39" fill="url(#gg)" opacity="0.250"/><ellipse class="p" cx="773" cy="1679" rx="33" ry="33" fill="url(#gg)" opacity="0.250"/><ellipse class="p" cx="867" cy="1681" rx="48" ry="39" fill="url(#gg)" opacity="0.370"/><ellipse class="p" cx="1049" cy="1670" rx="55" ry="48" fill="url(#gg)" opacity="0.420"/><ellipse class="p" cx="627" cy="1618" rx="14" ry="52" fill="url(#gg)" opacity="0.220"/><ellipse class="p" cx="668" cy="1631" rx="16" ry="61" fill="url(#gg)" opacity="0.220" transform="rotate(-10 668 1631)"/><ellipse class="p" cx="751" cy="1608" rx="18" ry="48" fill="url(#gg)" opacity="0.220"/><ellipse class="p" cx="787" cy="1625" rx="16" ry="70" fill="url(#gg)" opacity="0.350"/><ellipse class="p" cx="842" cy="1638" rx="18" ry="22" fill="url(#gg)" opacity="0.180"/><ellipse class="p" cx="922" cy="1603" rx="18" ry="39" fill="url(#gg)" opacity="0.350"/><ellipse class="p" cx="951" cy="1600" rx="18" ry="22" fill="url(#gg)" opacity="0.220"/><ellipse class="p" cx="988" cy="1597" rx="18" ry="22" fill="url(#gg)" opacity="0.200"/><ellipse class="p" cx="1081" cy="1701" rx="44" ry="22" fill="url(#gg)" opacity="0.220"/><ellipse class="p" cx="1130" cy="1660" rx="33" ry="61" fill="url(#gg)" opacity="0.350"/><ellipse class="p" cx="1291" cy="1640" rx="30" ry="66" fill="url(#gg)" opacity="0.430" transform="rotate(-15 1291 1640)"/><ellipse class="p" cx="1337" cy="1693" rx="47" ry="70" fill="url(#gg)" opacity="0.470"/><ellipse class="p" cx="1322" cy="1625" rx="19" ry="70" fill="url(#gg)" opacity="0.350" transform="rotate(-8 1322 1625)"/><ellipse class="p" cx="1399" cy="1644" rx="30" ry="61" fill="url(#gg)" opacity="0.380" transform="rotate(-15 1399 1644)"/><ellipse class="p" cx="1455" cy="1701" rx="61" ry="26" fill="url(#gg)" opacity="0.320" transform="rotate(25 1455 1701)"/><ellipse class="p" cx="1464" cy="1644" rx="26" ry="44" fill="url(#gg)" opacity="0.220"/><rect x="162" y="1543.5" width="1341.5" height="346.5" fill="#fff" class="d"/><ellipse class="p" cx="167" cy="1561" rx="4" ry="32" fill="url(#gg)" opacity="0.122"/><ellipse class="p" cx="175" cy="1560" rx="4" ry="32" fill="url(#gg)" opacity="0.075"/><ellipse class="p" cx="184" cy="1559" rx="4" ry="32" fill="url(#gg)" opacity="0.141"/><ellipse class="p" cx="192" cy="1558" rx="4" ry="32" fill="url(#gg)" opacity="0.116"/><ellipse class="p" cx="200" cy="1561" rx="4" ry="32" fill="url(#gg)" opacity="0.109"/><ellipse class="p" cx="207" cy="1560" rx="4" ry="32" fill="url(#gg)" opacity="0.072"/><ellipse class="p" cx="216" cy="1559" rx="4" ry="32" fill="url(#gg)" opacity="0.122"/><ellipse class="p" cx="223" cy="1565" rx="4" ry="32" fill="url(#gg)" opacity="0.112"/><ellipse class="p" cx="231" cy="1565" rx="4" ry="32" fill="url(#gg)" opacity="0.111"/><ellipse class="p" cx="239" cy="1561" rx="4" ry="32" fill="url(#gg)" opacity="0.131"/><ellipse class="p" cx="248" cy="1560" rx="4" ry="32" fill="url(#gg)" opacity="0.084"/><ellipse class="p" cx="256" cy="1558" rx="4" ry="32" fill="url(#gg)" opacity="0.076"/><ellipse class="p" cx="265" cy="1562" rx="4" ry="32" fill="url(#gg)" opacity="0.138"/><ellipse class="p" cx="273" cy="1558" rx="4" ry="32" fill="url(#gg)" opacity="0.116"/><ellipse class="p" cx="282" cy="1563" rx="4" ry="32" fill="url(#gg)" opacity="0.071"/><ellipse class="p" cx="289" cy="1564" rx="4" ry="32" fill="url(#gg)" opacity="0.089"/><ellipse class="p" cx="297" cy="1559" rx="4" ry="32" fill="url(#gg)" opacity="0.292"/><ellipse class="p" cx="305" cy="1561" rx="4" ry="32" fill="url(#gg)" opacity="0.209"/><ellipse class="p" cx="313" cy="1562" rx="4" ry="32" fill="url(#gg)" opacity="0.409"/><ellipse class="p" cx="321" cy="1565" rx="4" ry="32" fill="url(#gg)" opacity="0.233"/><ellipse class="p" cx="329" cy="1559" rx="4" ry="32" fill="url(#gg)" opacity="0.224"/><ellipse class="p" cx="337" cy="1564" rx="4" ry="32" fill="url(#gg)" opacity="0.386"/><ellipse class="p" cx="344" cy="1558" rx="4" ry="32" fill="url(#gg)" opacity="0.243"/><ellipse class="p" cx="353" cy="1564" rx="4" ry="32" fill="url(#gg)" opacity="0.299"/><ellipse class="p" cx="360" cy="1561" rx="4" ry="32" fill="url(#gg)" opacity="0.261"/><ellipse class="p" cx="367" cy="1560" rx="4" ry="32" fill="url(#gg)" opacity="0.387"/><ellipse class="p" cx="376" cy="1562" rx="4" ry="32" fill="url(#gg)" opacity="0.297"/><ellipse class="p" cx="384" cy="1564" rx="4" ry="32" fill="url(#gg)" opacity="0.203"/><ellipse class="p" cx="392" cy="1563" rx="4" ry="32" fill="url(#gg)" opacity="0.248"/><ellipse class="p" cx="400" cy="1560" rx="4" ry="32" fill="url(#gg)" opacity="0.073"/><ellipse class="p" cx="408" cy="1558" rx="4" ry="32" fill="url(#gg)" opacity="0.072"/><ellipse class="p" cx="417" cy="1562" rx="4" ry="32" fill="url(#gg)" opacity="0.125"/><ellipse class="p" cx="425" cy="1560" rx="4" ry="32" fill="url(#gg)" opacity="0.109"/><ellipse class="p" cx="433" cy="1563" rx="4" ry="32" fill="url(#gg)" opacity="0.255"/><ellipse class="p" cx="440" cy="1559" rx="4" ry="32" fill="url(#gg)" opacity="0.290"/><ellipse class="p" cx="448" cy="1560" rx="4" ry="32" fill="url(#gg)" opacity="0.304"/><ellipse class="p" cx="456" cy="1565" rx="4" ry="32" fill="url(#gg)" opacity="0.303"/><ellipse class="p" cx="463" cy="1559" rx="4" ry="32" fill="url(#gg)" opacity="0.270"/><ellipse class="p" cx="472" cy="1564" rx="4" ry="32" fill="url(#gg)" opacity="0.306"/><ellipse class="p" cx="479" cy="1564" rx="4" ry="32" fill="url(#gg)" opacity="0.201"/><ellipse class="p" cx="487" cy="1562" rx="4" ry="32" fill="url(#gg)" opacity="0.205"/><ellipse class="p" cx="497" cy="1559" rx="4" ry="32" fill="url(#gg)" opacity="0.350"/><ellipse class="p" cx="505" cy="1563" rx="4" ry="32" fill="url(#gg)" opacity="0.391"/><ellipse class="p" cx="513" cy="1559" rx="4" ry="32" fill="url(#gg)" opacity="0.250"/><ellipse class="p" cx="522" cy="1564" rx="4" ry="32" fill="url(#gg)" opacity="0.106"/><ellipse class="p" cx="529" cy="1562" rx="4" ry="32" fill="url(#gg)" opacity="0.075"/><ellipse class="p" cx="537" cy="1565" rx="4" ry="32" fill="url(#gg)" opacity="0.103"/><ellipse class="p" cx="546" cy="1558" rx="4" ry="32" fill="url(#gg)" opacity="0.076"/><ellipse class="p" cx="554" cy="1563" rx="4" ry="32" fill="url(#gg)" opacity="0.143"/><ellipse class="p" cx="562" cy="1563" rx="4" ry="32" fill="url(#gg)" opacity="0.143"/><ellipse class="p" cx="571" cy="1564" rx="4" ry="32" fill="url(#gg)" opacity="0.078"/><ellipse class="p" cx="579" cy="1558" rx="4" ry="32" fill="url(#gg)" opacity="0.068"/><ellipse class="p" cx="587" cy="1561" rx="4" ry="32" fill="url(#gg)" opacity="0.093"/><ellipse class="p" cx="594" cy="1561" rx="4" ry="32" fill="url(#gg)" opacity="0.147"/><ellipse class="p" cx="603" cy="1560" rx="4" ry="32" fill="url(#gg)" opacity="0.378"/><ellipse class="p" cx="610" cy="1559" rx="4" ry="32" fill="url(#gg)" opacity="0.370"/><ellipse class="p" cx="618" cy="1565" rx="4" ry="32" fill="url(#gg)" opacity="0.381"/><ellipse class="p" cx="626" cy="1559" rx="4" ry="32" fill="url(#gg)" opacity="0.386"/><ellipse class="p" cx="634" cy="1563" rx="4" ry="32" fill="url(#gg)" opacity="0.395"/><ellipse class="p" cx="641" cy="1559" rx="4" ry="32" fill="url(#gg)" opacity="0.398"/><ellipse class="p" cx="650" cy="1563" rx="4" ry="32" fill="url(#gg)" opacity="0.191"/><ellipse class="p" cx="658" cy="1563" rx="4" ry="32" fill="url(#gg)" opacity="0.406"/><ellipse class="p" cx="665" cy="1558" rx="4" ry="32" fill="url(#gg)" opacity="0.329"/><ellipse class="p" cx="673" cy="1564" rx="4" ry="32" fill="url(#gg)" opacity="0.264"/><ellipse class="p" cx="681" cy="1561" rx="4" ry="32" fill="url(#gg)" opacity="0.366"/><ellipse class="p" cx="689" cy="1561" rx="4" ry="32" fill="url(#gg)" opacity="0.316"/><ellipse class="p" cx="697" cy="1565" rx="4" ry="32" fill="url(#gg)" opacity="0.350"/><ellipse class="p" cx="707" cy="1559" rx="4" ry="32" fill="url(#gg)" opacity="0.112"/><ellipse class="p" cx="715" cy="1560" rx="4" ry="32" fill="url(#gg)" opacity="0.072"/><ellipse class="p" cx="722" cy="1561" rx="4" ry="32" fill="url(#gg)" opacity="0.070"/><ellipse class="p" cx="730" cy="1563" rx="4" ry="32" fill="url(#gg)" opacity="0.114"/><ellipse class="p" cx="738" cy="1560" rx="4" ry="32" fill="url(#gg)" opacity="0.138"/><ellipse class="p" cx="746" cy="1559" rx="4" ry="32" fill="url(#gg)" opacity="0.134"/><ellipse class="p" cx="754" cy="1559" rx="4" ry="32" fill="url(#gg)" opacity="0.100"/><ellipse class="p" cx="762" cy="1559" rx="4" ry="32" fill="url(#gg)" opacity="0.138"/><ellipse class="p" cx="771" cy="1564" rx="4" ry="32" fill="url(#gg)" opacity="0.145"/><ellipse class="p" cx="779" cy="1562" rx="4" ry="32" fill="url(#gg)" opacity="0.137"/><ellipse class="p" cx="787" cy="1564" rx="4" ry="32" fill="url(#gg)" opacity="0.128"/><ellipse class="p" cx="795" cy="1563" rx="4" ry="32" fill="url(#gg)" opacity="0.133"/><ellipse class="p" cx="802" cy="1563" rx="4" ry="32" fill="url(#gg)" opacity="0.102"/><ellipse class="p" cx="810" cy="1558" rx="4" ry="32" fill="url(#gg)" opacity="0.086"/><ellipse class="p" cx="818" cy="1562" rx="4" ry="32" fill="url(#gg)" opacity="0.109"/><ellipse class="p" cx="826" cy="1561" rx="4" ry="32" fill="url(#gg)" opacity="0.225"/><ellipse class="p" cx="833" cy="1562" rx="4" ry="32" fill="url(#gg)" opacity="0.388"/><ellipse class="p" cx="842" cy="1564" rx="4" ry="32" fill="url(#gg)" opacity="0.377"/><ellipse class="p" cx="850" cy="1560" rx="4" ry="32" fill="url(#gg)" opacity="0.370"/><ellipse class="p" cx="857" cy="1565" rx="4" ry="32" fill="url(#gg)" opacity="0.271"/><ellipse class="p" cx="865" cy="1565" rx="4" ry="32" fill="url(#gg)" opacity="0.286"/><ellipse class="p" cx="874" cy="1559" rx="4" ry="32" fill="url(#gg)" opacity="0.360"/><ellipse class="p" cx="882" cy="1562" rx="4" ry="32" fill="url(#gg)" opacity="0.212"/><ellipse class="p" cx="890" cy="1559" rx="4" ry="32" fill="url(#gg)" opacity="0.079"/><ellipse class="p" cx="899" cy="1559" rx="4" ry="32" fill="url(#gg)" opacity="0.126"/><ellipse class="p" cx="907" cy="1563" rx="4" ry="32" fill="url(#gg)" opacity="0.113"/><ellipse class="p" cx="916" cy="1559" rx="4" ry="32" fill="url(#gg)" opacity="0.113"/><ellipse class="p" cx="924" cy="1561" rx="4" ry="32" fill="url(#gg)" opacity="0.143"/><ellipse class="p" cx="932" cy="1560" rx="4" ry="32" fill="url(#gg)" opacity="0.219"/><ellipse class="p" cx="941" cy="1563" rx="4" ry="32" fill="url(#gg)" opacity="0.402"/><ellipse class="p" cx="948" cy="1565" rx="4" ry="32" fill="url(#gg)" opacity="0.292"/><ellipse class="p" cx="956" cy="1558" rx="4" ry="32" fill="url(#gg)" opacity="0.285"/><ellipse class="p" cx="965" cy="1561" rx="4" ry="32" fill="url(#gg)" opacity="0.274"/><ellipse class="p" cx="974" cy="1559" rx="4" ry="32" fill="url(#gg)" opacity="0.354"/><ellipse class="p" cx="982" cy="1564" rx="4" ry="32" fill="url(#gg)" opacity="0.413"/><ellipse class="p" cx="990" cy="1564" rx="4" ry="32" fill="url(#gg)" opacity="0.345"/><ellipse class="p" cx="998" cy="1564" rx="4" ry="32" fill="url(#gg)" opacity="0.289"/><ellipse class="p" cx="1006" cy="1563" rx="4" ry="32" fill="url(#gg)" opacity="0.136"/><ellipse class="p" cx="1014" cy="1560" rx="4" ry="32" fill="url(#gg)" opacity="0.073"/><ellipse class="p" cx="1021" cy="1561" rx="4" ry="32" fill="url(#gg)" opacity="0.080"/><ellipse class="p" cx="1029" cy="1564" rx="4" ry="32" fill="url(#gg)" opacity="0.131"/><ellipse class="p" cx="1037" cy="1560" rx="4" ry="32" fill="url(#gg)" opacity="0.136"/><ellipse class="p" cx="1045" cy="1565" rx="4" ry="32" fill="url(#gg)" opacity="0.083"/><ellipse class="p" cx="1053" cy="1565" rx="4" ry="32" fill="url(#gg)" opacity="0.100"/><ellipse class="p" cx="1060" cy="1565" rx="4" ry="32" fill="url(#gg)" opacity="0.400"/><ellipse class="p" cx="1068" cy="1562" rx="4" ry="32" fill="url(#gg)" opacity="0.315"/><ellipse class="p" cx="1076" cy="1563" rx="4" ry="32" fill="url(#gg)" opacity="0.265"/><ellipse class="p" cx="1084" cy="1561" rx="4" ry="32" fill="url(#gg)" opacity="0.374"/><ellipse class="p" cx="1091" cy="1564" rx="4" ry="32" fill="url(#gg)" opacity="0.221"/><ellipse class="p" cx="1099" cy="1559" rx="4" ry="32" fill="url(#gg)" opacity="0.232"/><ellipse class="p" cx="1107" cy="1565" rx="4" ry="32" fill="url(#gg)" opacity="0.395"/><ellipse class="p" cx="1116" cy="1564" rx="4" ry="32" fill="url(#gg)" opacity="0.223"/><ellipse class="p" cx="1123" cy="1564" rx="4" ry="32" fill="url(#gg)" opacity="0.306"/><ellipse class="p" cx="1131" cy="1564" rx="4" ry="32" fill="url(#gg)" opacity="0.256"/><ellipse class="p" cx="1138" cy="1559" rx="4" ry="32" fill="url(#gg)" opacity="0.337"/><ellipse class="p" cx="1145" cy="1562" rx="4" ry="32" fill="url(#gg)" opacity="0.134"/><ellipse class="p" cx="1153" cy="1561" rx="4" ry="32" fill="url(#gg)" opacity="0.067"/><ellipse class="p" cx="1162" cy="1563" rx="4" ry="32" fill="url(#gg)" opacity="0.417"/><ellipse class="p" cx="1169" cy="1563" rx="4" ry="32" fill="url(#gg)" opacity="0.282"/><ellipse class="p" cx="1177" cy="1558" rx="4" ry="32" fill="url(#gg)" opacity="0.212"/><ellipse class="p" cx="1186" cy="1565" rx="4" ry="32" fill="url(#gg)" opacity="0.190"/><ellipse class="p" cx="1195" cy="1562" rx="4" ry="32" fill="url(#gg)" opacity="0.355"/><ellipse class="p" cx="1203" cy="1562" rx="4" ry="32" fill="url(#gg)" opacity="0.323"/><ellipse class="p" cx="1211" cy="1562" rx="4" ry="32" fill="url(#gg)" opacity="0.343"/><ellipse class="p" cx="1220" cy="1565" rx="4" ry="32" fill="url(#gg)" opacity="0.337"/><ellipse class="p" cx="1228" cy="1564" rx="4" ry="32" fill="url(#gg)" opacity="0.353"/><ellipse class="p" cx="1235" cy="1564" rx="4" ry="32" fill="url(#gg)" opacity="0.277"/><ellipse class="p" cx="1244" cy="1564" rx="4" ry="32" fill="url(#gg)" opacity="0.116"/><ellipse class="p" cx="1251" cy="1565" rx="4" ry="32" fill="url(#gg)" opacity="0.083"/><ellipse class="p" cx="1259" cy="1560" rx="4" ry="32" fill="url(#gg)" opacity="0.120"/><ellipse class="p" cx="1268" cy="1564" rx="4" ry="32" fill="url(#gg)" opacity="0.087"/><ellipse class="p" cx="1275" cy="1560" rx="4" ry="32" fill="url(#gg)" opacity="0.084"/><ellipse class="p" cx="1283" cy="1559" rx="4" ry="32" fill="url(#gg)" opacity="0.104"/><ellipse class="p" cx="1290" cy="1562" rx="4" ry="32" fill="url(#gg)" opacity="0.087"/><ellipse class="p" cx="1299" cy="1560" rx="4" ry="32" fill="url(#gg)" opacity="0.137"/><ellipse class="p" cx="1308" cy="1558" rx="4" ry="32" fill="url(#gg)" opacity="0.341"/><ellipse class="p" cx="1315" cy="1559" rx="4" ry="32" fill="url(#gg)" opacity="0.376"/><ellipse class="p" cx="1323" cy="1565" rx="4" ry="32" fill="url(#gg)" opacity="0.397"/><ellipse class="p" cx="1332" cy="1561" rx="4" ry="32" fill="url(#gg)" opacity="0.254"/><ellipse class="p" cx="1339" cy="1559" rx="4" ry="32" fill="url(#gg)" opacity="0.381"/><ellipse class="p" cx="1347" cy="1563" rx="4" ry="32" fill="url(#gg)" opacity="0.126"/><ellipse class="p" cx="1354" cy="1561" rx="4" ry="32" fill="url(#gg)" opacity="0.129"/><ellipse class="p" cx="1362" cy="1563" rx="4" ry="32" fill="url(#gg)" opacity="0.114"/><ellipse class="p" cx="1370" cy="1558" rx="4" ry="32" fill="url(#gg)" opacity="0.078"/><ellipse class="p" cx="1378" cy="1563" rx="4" ry="32" fill="url(#gg)" opacity="0.085"/><ellipse class="p" cx="1386" cy="1559" rx="4" ry="32" fill="url(#gg)" opacity="0.109"/><ellipse class="p" cx="1394" cy="1558" rx="4" ry="32" fill="url(#gg)" opacity="0.295"/><ellipse class="p" cx="1402" cy="1560" rx="4" ry="32" fill="url(#gg)" opacity="0.192"/><ellipse class="p" cx="1410" cy="1561" rx="4" ry="32" fill="url(#gg)" opacity="0.357"/><ellipse class="p" cx="1418" cy="1563" rx="4" ry="32" fill="url(#gg)" opacity="0.256"/><ellipse class="p" cx="1426" cy="1559" rx="4" ry="32" fill="url(#gg)" opacity="0.284"/><ellipse class="p" cx="1433" cy="1561" rx="4" ry="32" fill="url(#gg)" opacity="0.375"/><ellipse class="p" cx="1442" cy="1563" rx="4" ry="32" fill="url(#gg)" opacity="0.399"/><ellipse class="p" cx="1451" cy="1564" rx="4" ry="32" fill="url(#gg)" opacity="0.254"/><ellipse class="p" cx="1459" cy="1563" rx="4" ry="32" fill="url(#gg)" opacity="0.220"/><ellipse class="p" cx="1468" cy="1558" rx="4" ry="32" fill="url(#gg)" opacity="0.253"/><ellipse class="p" cx="1475" cy="1561" rx="4" ry="32" fill="url(#gg)" opacity="0.088"/><ellipse class="p" cx="1483" cy="1558" rx="4" ry="32" fill="url(#gg)" opacity="0.146"/><ellipse class="p" cx="1492" cy="1562" rx="4" ry="32" fill="url(#gg)" opacity="0.138"/><ellipse class="p" cx="1500" cy="1559" rx="4" ry="32" fill="url(#gg)" opacity="0.143"/><ellipse class="p" cx="192" cy="1590" rx="9" ry="64" fill="url(#gg)" opacity="0.130"/><ellipse class="p" cx="213" cy="1593" rx="9" ry="64" fill="url(#gg)" opacity="0.108"/><ellipse class="p" cx="236" cy="1589" rx="9" ry="64" fill="url(#gg)" opacity="0.121"/><ellipse class="p" cx="259" cy="1595" rx="9" ry="64" fill="url(#gg)" opacity="0.124"/><ellipse class="p" cx="279" cy="1593" rx="9" ry="64" fill="url(#gg)" opacity="0.087"/><ellipse class="p" cx="299" cy="1591" rx="9" ry="64" fill="url(#gg)" opacity="0.188"/><ellipse class="p" cx="321" cy="1591" rx="9" ry="64" fill="url(#gg)" opacity="0.135"/><ellipse class="p" cx="340" cy="1595" rx="9" ry="64" fill="url(#gg)" opacity="0.204"/><ellipse class="p" cx="363" cy="1592" rx="9" ry="64" fill="url(#gg)" opacity="0.166"/><ellipse class="p" cx="384" cy="1591" rx="9" ry="64" fill="url(#gg)" opacity="0.187"/><ellipse class="p" cx="408" cy="1594" rx="9" ry="64" fill="url(#gg)" opacity="0.219"/><ellipse class="p" cx="431" cy="1590" rx="9" ry="64" fill="url(#gg)" opacity="0.130"/><ellipse class="p" cx="452" cy="1595" rx="9" ry="64" fill="url(#gg)" opacity="0.144"/><ellipse class="p" cx="473" cy="1590" rx="9" ry="64" fill="url(#gg)" opacity="0.258"/><ellipse class="p" cx="496" cy="1592" rx="9" ry="64" fill="url(#gg)" opacity="0.175"/><ellipse class="p" cx="518" cy="1592" rx="9" ry="64" fill="url(#gg)" opacity="0.203"/><ellipse class="p" cx="538" cy="1592" rx="9" ry="64" fill="url(#gg)" opacity="0.258"/><ellipse class="p" cx="560" cy="1590" rx="9" ry="64" fill="url(#gg)" opacity="0.178"/><ellipse class="p" cx="580" cy="1591" rx="9" ry="64" fill="url(#gg)" opacity="0.210"/><ellipse class="p" cx="604" cy="1594" rx="9" ry="64" fill="url(#gg)" opacity="0.129"/><ellipse class="p" cx="626" cy="1594" rx="9" ry="64" fill="url(#gg)" opacity="0.217"/><ellipse class="p" cx="644" cy="1589" rx="9" ry="64" fill="url(#gg)" opacity="0.249"/><ellipse class="p" cx="666" cy="1588" rx="9" ry="64" fill="url(#gg)" opacity="0.144"/><ellipse class="p" cx="686" cy="1592" rx="9" ry="64" fill="url(#gg)" opacity="0.138"/><ellipse class="p" cx="707" cy="1589" rx="9" ry="64" fill="url(#gg)" opacity="0.227"/><ellipse class="p" cx="728" cy="1594" rx="9" ry="64" fill="url(#gg)" opacity="0.150"/><ellipse class="p" cx="750" cy="1592" rx="9" ry="64" fill="url(#gg)" opacity="0.197"/><ellipse class="p" cx="768" cy="1595" rx="9" ry="64" fill="url(#gg)" opacity="0.118"/><ellipse class="p" cx="789" cy="1590" rx="9" ry="64" fill="url(#gg)" opacity="0.183"/><ellipse class="p" cx="811" cy="1593" rx="9" ry="64" fill="url(#gg)" opacity="0.138"/><ellipse class="p" cx="829" cy="1589" rx="9" ry="64" fill="url(#gg)" opacity="0.176"/><ellipse class="p" cx="852" cy="1594" rx="9" ry="64" fill="url(#gg)" opacity="0.250"/><ellipse class="p" cx="872" cy="1589" rx="9" ry="64" fill="url(#gg)" opacity="0.235"/><ellipse class="p" cx="893" cy="1590" rx="9" ry="64" fill="url(#gg)" opacity="0.153"/><ellipse class="p" cx="915" cy="1596" rx="9" ry="64" fill="url(#gg)" opacity="0.169"/><ellipse class="p" cx="936" cy="1591" rx="9" ry="64" fill="url(#gg)" opacity="0.147"/><ellipse class="p" cx="958" cy="1594" rx="9" ry="64" fill="url(#gg)" opacity="0.193"/><ellipse class="p" cx="976" cy="1593" rx="9" ry="64" fill="url(#gg)" opacity="0.196"/><ellipse class="p" cx="996" cy="1595" rx="9" ry="64" fill="url(#gg)" opacity="0.254"/><ellipse class="p" cx="1015" cy="1590" rx="9" ry="64" fill="url(#gg)" opacity="0.122"/><ellipse class="p" cx="1035" cy="1591" rx="9" ry="64" fill="url(#gg)" opacity="0.233"/><ellipse class="p" cx="1054" cy="1595" rx="9" ry="64" fill="url(#gg)" opacity="0.210"/><ellipse class="p" cx="1074" cy="1595" rx="9" ry="64" fill="url(#gg)" opacity="0.122"/><ellipse class="p" cx="1093" cy="1594" rx="9" ry="64" fill="url(#gg)" opacity="0.228"/><ellipse class="p" cx="1116" cy="1590" rx="9" ry="64" fill="url(#gg)" opacity="0.135"/><ellipse class="p" cx="1137" cy="1594" rx="9" ry="64" fill="url(#gg)" opacity="0.135"/><ellipse class="p" cx="1157" cy="1589" rx="9" ry="64" fill="url(#gg)" opacity="0.193"/><ellipse class="p" cx="1179" cy="1589" rx="9" ry="64" fill="url(#gg)" opacity="0.197"/><ellipse class="p" cx="1203" cy="1591" rx="9" ry="64" fill="url(#gg)" opacity="0.250"/><ellipse class="p" cx="1224" cy="1591" rx="9" ry="64" fill="url(#gg)" opacity="0.218"/><ellipse class="p" cx="1244" cy="1594" rx="9" ry="64" fill="url(#gg)" opacity="0.248"/><ellipse class="p" cx="1263" cy="1594" rx="9" ry="64" fill="url(#gg)" opacity="0.231"/><ellipse class="p" cx="1284" cy="1592" rx="9" ry="64" fill="url(#gg)" opacity="0.134"/><ellipse class="p" cx="1307" cy="1594" rx="9" ry="64" fill="url(#gg)" opacity="0.198"/><ellipse class="p" cx="1329" cy="1589" rx="9" ry="64" fill="url(#gg)" opacity="0.255"/><ellipse class="p" cx="1350" cy="1592" rx="9" ry="64" fill="url(#gg)" opacity="0.134"/><ellipse class="p" cx="1370" cy="1596" rx="9" ry="64" fill="url(#gg)" opacity="0.251"/><ellipse class="p" cx="1391" cy="1594" rx="9" ry="64" fill="url(#gg)" opacity="0.227"/><ellipse class="p" cx="1414" cy="1591" rx="9" ry="64" fill="url(#gg)" opacity="0.148"/><ellipse class="p" cx="1435" cy="1593" rx="9" ry="64" fill="url(#gg)" opacity="0.203"/><ellipse class="p" cx="1456" cy="1595" rx="9" ry="64" fill="url(#gg)" opacity="0.118"/><ellipse class="p" cx="1476" cy="1592" rx="9" ry="64" fill="url(#gg)" opacity="0.257"/><ellipse class="p" cx="1496" cy="1594" rx="9" ry="64" fill="url(#gg)" opacity="0.201"/><ellipse class="p" cx="207" cy="1634" rx="16" ry="74" fill="url(#gg)" opacity="0.110"/><ellipse class="p" cx="241" cy="1638" rx="16" ry="74" fill="url(#gg)" opacity="0.078"/><ellipse class="p" cx="276" cy="1635" rx="16" ry="74" fill="url(#gg)" opacity="0.071"/><ellipse class="p" cx="316" cy="1638" rx="16" ry="74" fill="url(#gg)" opacity="0.093"/><ellipse class="p" cx="349" cy="1634" rx="16" ry="74" fill="url(#gg)" opacity="0.093"/><ellipse class="p" cx="383" cy="1634" rx="16" ry="74" fill="url(#gg)" opacity="0.122"/><ellipse class="p" cx="422" cy="1638" rx="16" ry="74" fill="url(#gg)" opacity="0.069"/><ellipse class="p" cx="460" cy="1635" rx="16" ry="74" fill="url(#gg)" opacity="0.082"/><ellipse class="p" cx="492" cy="1635" rx="16" ry="74" fill="url(#gg)" opacity="0.101"/><ellipse class="p" cx="530" cy="1634" rx="16" ry="74" fill="url(#gg)" opacity="0.079"/><ellipse class="p" cx="562" cy="1636" rx="16" ry="74" fill="url(#gg)" opacity="0.132"/><ellipse class="p" cx="597" cy="1634" rx="16" ry="74" fill="url(#gg)" opacity="0.121"/><ellipse class="p" cx="631" cy="1638" rx="16" ry="74" fill="url(#gg)" opacity="0.066"/><ellipse class="p" cx="665" cy="1638" rx="16" ry="74" fill="url(#gg)" opacity="0.077"/><ellipse class="p" cx="702" cy="1640" rx="16" ry="74" fill="url(#gg)" opacity="0.114"/><ellipse class="p" cx="739" cy="1637" rx="16" ry="74" fill="url(#gg)" opacity="0.134"/><ellipse class="p" cx="772" cy="1635" rx="16" ry="74" fill="url(#gg)" opacity="0.094"/><ellipse class="p" cx="809" cy="1638" rx="16" ry="74" fill="url(#gg)" opacity="0.126"/><ellipse class="p" cx="842" cy="1638" rx="16" ry="74" fill="url(#gg)" opacity="0.085"/><ellipse class="p" cx="883" cy="1637" rx="16" ry="74" fill="url(#gg)" opacity="0.120"/><ellipse class="p" cx="923" cy="1639" rx="16" ry="74" fill="url(#gg)" opacity="0.071"/><ellipse class="p" cx="961" cy="1636" rx="16" ry="74" fill="url(#gg)" opacity="0.130"/><ellipse class="p" cx="996" cy="1634" rx="16" ry="74" fill="url(#gg)" opacity="0.063"/><ellipse class="p" cx="1033" cy="1632" rx="16" ry="74" fill="url(#gg)" opacity="0.134"/><ellipse class="p" cx="1070" cy="1640" rx="16" ry="74" fill="url(#gg)" opacity="0.103"/><ellipse class="p" cx="1101" cy="1636" rx="16" ry="74" fill="url(#gg)" opacity="0.115"/><ellipse class="p" cx="1131" cy="1634" rx="16" ry="74" fill="url(#gg)" opacity="0.138"/><ellipse class="p" cx="1169" cy="1635" rx="16" ry="74" fill="url(#gg)" opacity="0.133"/><ellipse class="p" cx="1202" cy="1634" rx="16" ry="74" fill="url(#gg)" opacity="0.131"/><ellipse class="p" cx="1235" cy="1636" rx="16" ry="74" fill="url(#gg)" opacity="0.089"/><ellipse class="p" cx="1271" cy="1636" rx="16" ry="74" fill="url(#gg)" opacity="0.075"/><ellipse class="p" cx="1309" cy="1633" rx="16" ry="74" fill="url(#gg)" opacity="0.105"/><ellipse class="p" cx="1346" cy="1633" rx="16" ry="74" fill="url(#gg)" opacity="0.080"/><ellipse class="p" cx="1385" cy="1639" rx="16" ry="74" fill="url(#gg)" opacity="0.064"/><ellipse class="p" cx="1419" cy="1636" rx="16" ry="74" fill="url(#gg)" opacity="0.095"/><ellipse class="p" cx="1453" cy="1632" rx="16" ry="74" fill="url(#gg)" opacity="0.069"/><ellipse class="p" cx="1486" cy="1635" rx="16" ry="74" fill="url(#gg)" opacity="0.086"/><ellipse class="p" cx="185" cy="1755" rx="105" ry="70" fill="url(#gg)" opacity="0.430"/><ellipse class="p" cx="210" cy="1700" rx="70" ry="35" fill="url(#gg)" opacity="0.150"/><ellipse class="p" cx="510" cy="1782" rx="245" ry="58" fill="url(#gg)" opacity="0.450" transform="rotate(10 510 1782)"/><ellipse class="p" cx="395" cy="1715" rx="52" ry="61" fill="url(#gg)" opacity="0.300" transform="rotate(-25 395 1715)"/><ellipse class="p" cx="540" cy="1835" rx="210" ry="35" fill="url(#gg)" opacity="0.170"/><ellipse class="p" cx="840" cy="1762" rx="192" ry="49" fill="url(#gg)" opacity="0.420" transform="rotate(-18 840 1762)"/><ellipse class="p" cx="990" cy="1805" rx="175" ry="21" fill="url(#gg)" opacity="0.250"/><ellipse class="p" cx="740" cy="1850" rx="262" ry="44" fill="url(#gg)" opacity="0.200"/><ellipse class="p" cx="700" cy="1874" rx="245" ry="18" fill="url(#gg)" opacity="0.200"/><ellipse class="p" cx="1000" cy="1874" rx="140" ry="18" fill="url(#gg)" opacity="0.050"/><ellipse class="p" cx="1085" cy="1755" rx="131" ry="49" fill="url(#gg)" opacity="0.440"/><ellipse class="p" cx="1370" cy="1770" rx="262" ry="32" fill="url(#gg)" opacity="0.300" transform="rotate(10 1370 1770)"/><ellipse class="p" cx="1100" cy="1805" rx="105" ry="21" fill="url(#gg)" opacity="0.200"/><ellipse class="p" cx="1470" cy="1810" rx="70" ry="26" fill="url(#gg)" opacity="0.120"/><ellipse class="p" cx="514" cy="1700" rx="55" ry="48" fill="url(#gg)" opacity="0.400"/><ellipse class="p" cx="411" cy="1660" rx="21" ry="52" fill="url(#gg)" opacity="0.380" transform="rotate(-10 411 1660)"/><ellipse class="p" cx="342" cy="1654" rx="22" ry="33" fill="url(#gg)" opacity="0.200"/><ellipse class="p" cx="228" cy="1630" rx="18" ry="55" fill="url(#gg)" opacity="0.200"/><ellipse class="p" cx="279" cy="1625" rx="18" ry="61" fill="url(#gg)" opacity="0.320" transform="rotate(-10 279 1625)"/><ellipse class="p" cx="212" cy="1588" rx="15" ry="55" fill="url(#gg)" opacity="0.350"/><ellipse class="p" cx="244" cy="1594" rx="13" ry="48" fill="url(#gg)" opacity="0.280"/><ellipse class="p" cx="475" cy="1642" rx="18" ry="26" fill="url(#gg)" opacity="0.200"/><ellipse class="p" cx="534" cy="1645" rx="18" ry="22" fill="url(#gg)" opacity="0.120"/><ellipse class="p" cx="640" cy="1690" rx="55" ry="44" fill="url(#gg)" opacity="0.300" transform="rotate(30 640 1690)"/><ellipse class="p" cx="728" cy="1679" rx="33" ry="33" fill="url(#gg)" opacity="0.200"/><ellipse class="p" cx="819" cy="1679" rx="33" ry="33" fill="url(#gg)" opacity="0.300"/><ellipse class="p" cx="912" cy="1685" rx="49" ry="56" fill="url(#gg)" opacity="0.430" transform="rotate(25 912 1685)"/><ellipse class="p" cx="1011" cy="1681" rx="38" ry="61" fill="url(#gg)" opacity="0.430" transform="rotate(-20 1011 1681)"/><ellipse class="p" cx="648" cy="1620" rx="18" ry="55" fill="url(#gg)" opacity="0.220"/><ellipse class="p" cx="769" cy="1603" rx="18" ry="39" fill="url(#gg)" opacity="0.350"/><ellipse class="p" cx="805" cy="1614" rx="18" ry="39" fill="url(#gg)" opacity="0.200"/><ellipse class="p" cx="903" cy="1603" rx="18" ry="39" fill="url(#gg)" opacity="0.250"/><ellipse class="p" cx="972" cy="1597" rx="18" ry="22" fill="url(#gg)" opacity="0.200"/><ellipse class="p" cx="1091" cy="1669" rx="39" ry="39" fill="url(#gg)" opacity="0.400"/><ellipse class="p" cx="1174" cy="1678" rx="33" ry="33" fill="url(#gg)" opacity="0.350"/><ellipse class="p" cx="1141" cy="1706" rx="44" ry="22" fill="url(#gg)" opacity="0.350"/><ellipse class="p" cx="1272" cy="1700" rx="60" ry="70" fill="url(#gg)" opacity="0.450"/><ellipse class="p" cx="1264" cy="1637" rx="26" ry="33" fill="url(#gg)" opacity="0.400"/><ellipse class="p" cx="1317" cy="1632" rx="30" ry="79" fill="url(#gg)" opacity="0.450" transform="rotate(-10 1317 1632)"/><ellipse class="p" cx="1381" cy="1680" rx="47" ry="79" fill="url(#gg)" opacity="0.420" transform="rotate(-20 1381 1680)"/><ellipse class="p" cx="1432" cy="1651" rx="33" ry="33" fill="url(#gg)" opacity="0.350"/><ellipse class="p" cx="1497" cy="1644" rx="22" ry="44" fill="url(#gg)" opacity="0.100"/><rect x="162" y="1543.5" width="1341.5" height="346.5" fill="#fff" class="d"/></g></g><line x1="162" y1="1864.5" x2="1503.5" y2="1864.5" stroke="#f4fff4" stroke-width="5" stroke-dasharray="13 13" opacity=".9"/><rect x="162" y="1543.5" width="1341.5" height="346.5" fill="none" stroke="#3a5a3a" stroke-width="2.5"/><path d="M272.5 1890.0v-10M272.5 1543.5v10M433.5 1890.0v-10M433.5 1543.5v10M594.5 1890.0v-10M594.5 1543.5v10M755.5 1890.0v-10M755.5 1543.5v10M916.5 1890.0v-10M916.5 1543.5v10M1077.5 1890.0v-10M1077.5 1543.5v10M1238.5 1890.0v-10M1238.5 1543.5v10M1399.5 1890.0v-10M1399.5 1543.5v10M162 1728.0h10M1503.5 1728.0h-10M162 1811.0h10M1503.5 1811.0h-10M162 1864.5h10M1503.5 1864.5h-10" stroke="#2a3a2a" stroke-width="2.5" fill="none"/><text x="137.0" y="1744.5" font-size="47" fill="#333" stroke="#333" text-anchor="end">1</text><text x="137.0" y="1827.5" font-size="47" fill="#333" stroke="#333" text-anchor="end">3</text><text x="137.0" y="1885.5" font-size="47" fill="#333" stroke="#333" text-anchor="end">6</text><text x="174" y="1604.5" font-size="54" fill="#0b5e15" stroke="#0b5e15">(f)</text><text x="272.5" y="1941.5" font-size="48" fill="#555" stroke="#555" text-anchor="middle">2011</text><text x="433.5" y="1941.5" font-size="48" fill="#555" stroke="#555" text-anchor="middle">2012</text><text x="594.5" y="1941.5" font-size="48" fill="#555" stroke="#555" text-anchor="middle">2013</text><text x="755.5" y="1941.5" font-size="48" fill="#555" stroke="#555" text-anchor="middle">2014</text><text x="916.5" y="1941.5" font-size="48" fill="#555" stroke="#555" text-anchor="middle">2015</text><text x="1077.5" y="1941.5" font-size="48" fill="#555" stroke="#555" text-anchor="middle">2016</text><text x="1238.5" y="1941.5" font-size="48" fill="#555" stroke="#555" text-anchor="middle">2017</text><text x="1399.5" y="1941.5" font-size="48" fill="#555" stroke="#555" text-anchor="middle">2018</text><text x="822.5" y="1988.0" font-size="48" fill="#222" stroke="#222" text-anchor="middle">Time (Year)</text><text transform="translate(79 1334.5) rotate(-90)" font-size="48" fill="#222" stroke="#222" text-anchor="middle">Period (Year)</text><rect x="1753.8" y="740.5" width="94.0" height="345.5" fill="#cdc9c9"/><line x1="1742.1" y1="740.5" x2="1742.1" y2="1086" stroke="#44506a" stroke-width="2" stroke-dasharray="5 4"/><polyline points="1672.0,911.2 1699.8,886.3 1724.7,830.4 1751.6,799.3 1780.6,822.1 1805.5,880.1 1832.5,977.5 1855.3,1041.7 1882.2,1018.9 1909.2,981.6 1934.0,968.3 1961.0,987.8 1987.9,1027.2 2012.8,1063.6 2037.7,1071.9 2064.6,1072.7 2093.7,1076.9 2118.5,1073.6 2143.4,1061.1 2170.4,1043.7 2197.3,1032.1 2222.2,1034.6 2247.1,1052.0 2274.0,1073.6 2301.0,1066.5 2325.0,1050.8" fill="none" stroke="#222" stroke-width="4" stroke-linejoin="round"/><rect x="1672" y="740.5" width="653" height="345.5" fill="none" stroke="#777" stroke-width="3"/><path d="M1889.7 1086v-10M1889.7 740.5v10M2107.3 1086v-10M2107.3 740.5v10M1672 970.8h10M2325 970.8h-10M1672 855.7h10M2325 855.7h-10" stroke="#777" stroke-width="3" fill="none"/><text x="1649.0" y="1103.5" font-size="47" fill="#333" stroke="#333" text-anchor="end">0</text><text x="1649.0" y="988.3" font-size="47" fill="#333" stroke="#333" text-anchor="end">1</text><text x="1649.0" y="873.2" font-size="47" fill="#333" stroke="#333" text-anchor="end">2</text><text x="1649.0" y="761.5" font-size="47" fill="#333" stroke="#333" text-anchor="end">3</text><text x="2313.0" y="792.5" font-size="57" fill="#2a2a2a" stroke="#2a2a2a" text-anchor="end" style="stroke-width:1.8px">(c)</text><rect x="1753.8" y="1141" width="94.0" height="346.5" fill="#cdc9c9"/><line x1="1742.1" y1="1141" x2="1742.1" y2="1487.5" stroke="#44506a" stroke-width="2" stroke-dasharray="5 4"/><polyline points="1672.0,1358.0 1697.7,1300.8 1724.7,1215.7 1751.6,1194.9 1778.6,1218.6 1803.4,1280.0 1830.4,1369.2 1855.3,1414.1 1882.2,1424.4 1909.2,1406.6 1934.0,1405.3 1961.0,1427.3 1987.9,1456.4 2014.9,1479.2 2037.7,1476.3 2066.7,1458.5 2093.7,1443.9 2118.5,1436.9 2145.5,1439.8 2170.4,1449.3 2199.4,1459.7 2224.3,1463.4 2249.1,1462.6 2274.0,1465.9 2303.0,1477.1 2325.0,1479.2" fill="none" stroke="#222" stroke-width="4" stroke-linejoin="round"/><rect x="1672" y="1141" width="653" height="346.5" fill="none" stroke="#777" stroke-width="3"/><path d="M1889.7 1487.5v-10M1889.7 1141v10M2107.3 1487.5v-10M2107.3 1141v10M1672 1372.0h10M2325 1372.0h-10M1672 1256.5h10M2325 1256.5h-10" stroke="#777" stroke-width="3" fill="none"/><text x="1649.0" y="1505.0" font-size="47" fill="#333" stroke="#333" text-anchor="end">0</text><text x="1649.0" y="1389.5" font-size="47" fill="#333" stroke="#333" text-anchor="end">1</text><text x="1649.0" y="1274.0" font-size="47" fill="#333" stroke="#333" text-anchor="end">2</text><text x="1649.0" y="1162.0" font-size="47" fill="#333" stroke="#333" text-anchor="end">3</text><text x="2313.0" y="1193.0" font-size="57" fill="#2a2a2a" stroke="#2a2a2a" text-anchor="end" style="stroke-width:1.8px">(e)</text><rect x="1753.8" y="1543.5" width="94.0" height="346.0" fill="#cdc9c9"/><line x1="1742.1" y1="1543.5" x2="1742.1" y2="1889.5" stroke="#44506a" stroke-width="2" stroke-dasharray="5 4"/><polyline points="1672.0,1819.1 1697.7,1723.8 1724.7,1624.3 1751.6,1615.2 1776.5,1709.2 1803.4,1804.6 1830.4,1843.9 1857.3,1837.7 1882.2,1723.8 1909.2,1645.0 1936.1,1607.7 1961.0,1577.9 1985.9,1575.4 2012.8,1632.6 2039.8,1732.0 2065.9,1835.6 2091.6,1826.1 2118.5,1785.1 2143.4,1760.2 2170.4,1753.6 2197.3,1749.9 2222.2,1761.0 2249.1,1804.6 2276.1,1821.1 2303.0,1785.9 2325.0,1770.2" fill="none" stroke="#222" stroke-width="4" stroke-linejoin="round"/><rect x="1672" y="1543.5" width="653" height="346.0" fill="none" stroke="#777" stroke-width="3"/><path d="M1889.7 1889.5v-10M1889.7 1543.5v10M2107.3 1889.5v-10M2107.3 1543.5v10M1672 1774.2h10M2325 1774.2h-10M1672 1658.8h10M2325 1658.8h-10" stroke="#777" stroke-width="3" fill="none"/><text x="1649.0" y="1907.0" font-size="47" fill="#333" stroke="#333" text-anchor="end">0</text><text x="1649.0" y="1791.7" font-size="47" fill="#333" stroke="#333" text-anchor="end">1</text><text x="1649.0" y="1676.3" font-size="47" fill="#333" stroke="#333" text-anchor="end">2</text><text x="1649.0" y="1564.5" font-size="47" fill="#333" stroke="#333" text-anchor="end">3</text><text x="2313.0" y="1595.5" font-size="57" fill="#2a2a2a" stroke="#2a2a2a" text-anchor="end" style="stroke-width:1.8px">(g)</text><text x="1672.0" y="1940.0" font-size="47" fill="#333" stroke="#333" text-anchor="middle">0</text><text x="1889.7" y="1940.0" font-size="47" fill="#333" stroke="#333" text-anchor="middle">0.5</text><text x="2107.3" y="1940.0" font-size="47" fill="#333" stroke="#333" text-anchor="middle">1</text><text x="2324.9" y="1940.0" font-size="47" fill="#333" stroke="#333" text-anchor="middle">1.5</text><text x="2020.0" y="2001.0" font-size="49" fill="#222" stroke="#222" text-anchor="middle">Frequency (cpy)</text><text transform="translate(1595 1330) rotate(-90)" font-size="49" fill="#222" stroke="#222" text-anchor="middle">Fourier amplitude (mm)</text><rect x="376.5" y="2005" width="891" height="38" fill="url(#cbar)" stroke="#555" stroke-width="1.5"/><path d="M437.4 2043v-7M567.8 2043v-7M698.2 2043v-7M828.6 2043v-7M959.0 2043v-7M1089.4 2043v-7M1219.8 2043v-7" stroke="#333" stroke-width="2" fill="none"/><text x="437.4" y="2104.0" font-size="44" fill="#555" stroke="#555" text-anchor="middle">-1.5</text><text x="567.8" y="2104.0" font-size="44" fill="#555" stroke="#555" text-anchor="middle">-1</text><text x="698.2" y="2104.0" font-size="44" fill="#555" stroke="#555" text-anchor="middle">-0.5</text><text x="828.6" y="2104.0" font-size="44" fill="#555" stroke="#555" text-anchor="middle">0</text><text x="959.0" y="2104.0" font-size="44" fill="#555" stroke="#555" text-anchor="middle">0.5</text><text x="1089.4" y="2104.0" font-size="44" fill="#555" stroke="#555" text-anchor="middle">1</text><text x="1219.8" y="2104.0" font-size="44" fill="#555" stroke="#555" text-anchor="middle">1.5</text><text x="1282.0" y="2036.0" font-size="50" fill="#333" stroke="#333" text-anchor="start">mm</text>
</svg></body></html>
